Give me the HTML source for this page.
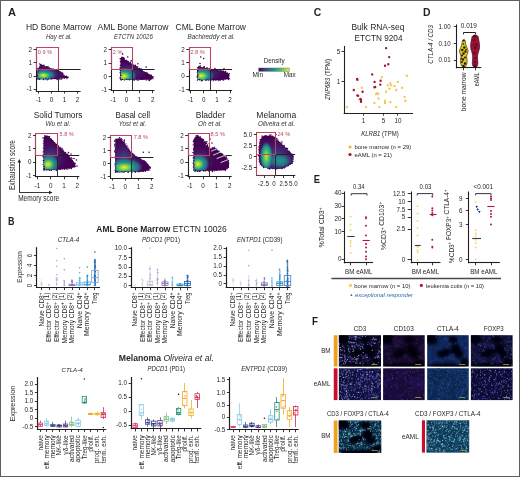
<!DOCTYPE html>
<html><head><meta charset="utf-8"><style>
html,body{margin:0;padding:0;background:#fff;}
svg{display:block;will-change:transform;font-family:"Liberation Sans",sans-serif;}
</style></head><body>
<svg width="520" height="477" viewBox="0 0 520 477" fill="#231f20">
<defs><radialGradient id="vir"><stop offset="0" stop-color="#fde725" stop-opacity="1"/><stop offset="0.12" stop-color="#c8e020" stop-opacity="1"/><stop offset="0.3" stop-color="#5ec962" stop-opacity="1"/><stop offset="0.52" stop-color="#21918c" stop-opacity="1"/><stop offset="0.76" stop-color="#2c728e" stop-opacity="0.9"/><stop offset="1" stop-color="#3b528b" stop-opacity="0"/></radialGradient><radialGradient id="vir2"><stop offset="0" stop-color="#1f9a8a" stop-opacity="1"/><stop offset="0.45" stop-color="#24868e" stop-opacity="0.85"/><stop offset="1" stop-color="#3b528b" stop-opacity="0"/></radialGradient><radialGradient id="virm"><stop offset="0" stop-color="#d2e21b" stop-opacity="1"/><stop offset="0.18" stop-color="#8fd744" stop-opacity="1"/><stop offset="0.42" stop-color="#3fbc73" stop-opacity="1"/><stop offset="0.7" stop-color="#21918c" stop-opacity="1"/><stop offset="1" stop-color="#2c728e" stop-opacity="0"/></radialGradient><radialGradient id="virb"><stop offset="0" stop-color="#3b528b" stop-opacity="0.9"/><stop offset="1" stop-color="#482878" stop-opacity="0"/></radialGradient><clipPath id="cp1"><polygon points="37.5,79.2 37.5,70.5 39,67.5 40.3,63.5 41.5,65.5 43.5,64.8 45,66.5 47,66 49,67.8 52,68.5 56,69.6 59,70.5 61,72.5 63,73.5 64,75.5 68.6,76.8 68.6,78 60,78.8 50,79.3"/></clipPath><clipPath id="cp2"><polygon points="120.5,79.7 120.5,58.5 121.5,56.5 123,57 125,59.5 128,61.5 132,63.8 136,66 140,69 145,72 150,74.5 153,76.5 153,78.5 150,79.8"/></clipPath><clipPath id="cp3"><polygon points="197.4,80 197.4,68.5 198.5,65.8 200,66.2 202,67.2 204,67 206,68.3 210,68.8 215,69.7 220,70.5 225,71.5 229.2,74 229.2,79 220,80.2"/></clipPath><clipPath id="cp4"><polygon points="43.6,170.2 43.6,137.5 45,135.8 47.5,135.6 50,137.8 53,140.5 55.9,143.6 60,147.5 65.7,152.7 70,157 74.8,163 75.6,167 70,168.5 60,169.5"/></clipPath><clipPath id="cp5"><polygon points="115.3,172.2 115.3,139.5 117,138.4 120.5,138.4 124,142 127,146.5 130.3,151.4 134,154.5 137.4,157.2 142,159.5 145.9,161.8 150.4,167 149,170.5 140,171.8"/></clipPath><clipPath id="cp6"><polygon points="193.6,170.9 193.6,140 195.5,136.5 198,135.8 200.5,137 203,139.5 205.5,141 207.5,144 209,148 211.5,148.5 214,147 216.5,149 220,152 224,155.5 227,158.5 229,162 229,166.5 226,170 215,170.8"/></clipPath><clipPath id="cp7"><polygon points="262,136.5 266,135.5 270,136 274.4,136.5 277,140 280,142.5 284,146 288,150 291,153 293.7,156 293,160 292,163.7 288,166 282,168.5 275,169 268,168.5 262,166.5 259.5,163 259,155 259,147 260,141"/></clipPath><linearGradient id="vlin"><stop offset="0" stop-color="#440154"/><stop offset="0.25" stop-color="#3b528b"/><stop offset="0.5" stop-color="#21918c"/><stop offset="0.75" stop-color="#5ec962"/><stop offset="1" stop-color="#fde725"/></linearGradient><filter id="hb" x="-20%" y="-20%" width="140%" height="140%"><feGaussianBlur stdDeviation="1.8"/></filter><clipPath id="cm8"><rect x="338.9" y="335.2" width="42.1" height="31.3"/></clipPath><clipPath id="cm9"><rect x="383.1" y="335.2" width="41.6" height="31.3"/></clipPath><clipPath id="cm10"><rect x="427.2" y="335.2" width="41.5" height="31.3"/></clipPath><clipPath id="cm11"><rect x="470.9" y="335.2" width="41.7" height="31.3"/></clipPath><clipPath id="cm12"><rect x="338.9" y="368.3" width="42.1" height="31.8"/></clipPath><clipPath id="cm13"><rect x="383.1" y="368.3" width="41.6" height="31.8"/></clipPath><clipPath id="cm14"><rect x="427.2" y="368.3" width="41.5" height="31.8"/></clipPath><clipPath id="cm15"><rect x="470.9" y="368.3" width="41.7" height="31.8"/></clipPath><clipPath id="cm16"><rect x="338.75" y="420.5" width="42.5" height="32.5"/></clipPath><clipPath id="cm17"><rect x="426.5" y="420.3" width="42.7" height="32.3"/></clipPath></defs>
<rect x="0.5" y="0.5" width="519" height="476" fill="#fff" stroke="#5e5e5e" stroke-width="1"/>
<text x="8" y="16" font-size="11" font-weight="bold" textLength="8" lengthAdjust="spacingAndGlyphs">A</text>
<text x="8.1" y="224.6" font-size="11" font-weight="bold" textLength="6.5" lengthAdjust="spacingAndGlyphs">B</text>
<text x="313.7" y="16.3" font-size="11" font-weight="bold" textLength="7.5" lengthAdjust="spacingAndGlyphs">C</text>
<text x="423" y="15.8" font-size="11" font-weight="bold" textLength="7.5" lengthAdjust="spacingAndGlyphs">D</text>
<text x="313.7" y="183" font-size="11" font-weight="bold" textLength="6.3" lengthAdjust="spacingAndGlyphs">E</text>
<text x="312" y="325.2" font-size="11" font-weight="bold" textLength="6" lengthAdjust="spacingAndGlyphs">F</text>
<text x="58.7" y="30.3" font-size="8.9" text-anchor="middle" textLength="65.5" lengthAdjust="spacingAndGlyphs">HD Bone Marrow</text>
<text x="58.9" y="38.5" font-size="6.7" text-anchor="middle" fill="#333" font-style="italic" textLength="26" lengthAdjust="spacingAndGlyphs">Hay et al.</text>
<text x="133.1" y="30.3" font-size="8.9" text-anchor="middle" textLength="71" lengthAdjust="spacingAndGlyphs">AML Bone Marrow</text>
<text x="133.4" y="38.5" font-size="6.7" text-anchor="middle" fill="#333" font-style="italic" textLength="39" lengthAdjust="spacingAndGlyphs">ETCTN 10026</text>
<text x="210.75" y="30.3" font-size="8.9" text-anchor="middle" textLength="70.5" lengthAdjust="spacingAndGlyphs">CML Bone Marrow</text>
<text x="211.25" y="38.5" font-size="6.7" text-anchor="middle" fill="#333" font-style="italic" textLength="47.5" lengthAdjust="spacingAndGlyphs">Bachireddy et al.</text>
<text x="58.1" y="118" font-size="8.9" text-anchor="middle" textLength="48.7" lengthAdjust="spacingAndGlyphs">Solid Tumors</text>
<text x="58" y="126" font-size="6.7" text-anchor="middle" fill="#333" font-style="italic" textLength="25" lengthAdjust="spacingAndGlyphs">Wu et al.</text>
<text x="132.75" y="118" font-size="8.9" text-anchor="middle" textLength="34.5" lengthAdjust="spacingAndGlyphs">Basal cell</text>
<text x="132.5" y="126" font-size="6.7" text-anchor="middle" fill="#333" font-style="italic" textLength="27.5" lengthAdjust="spacingAndGlyphs">Yost et al.</text>
<text x="210.4" y="118" font-size="8.9" text-anchor="middle" textLength="29.3" lengthAdjust="spacingAndGlyphs">Bladder</text>
<text x="210" y="126" font-size="6.7" text-anchor="middle" fill="#333" font-style="italic" textLength="24" lengthAdjust="spacingAndGlyphs">Oh et al.</text>
<text x="276.25" y="118" font-size="8.9" text-anchor="middle" textLength="40" lengthAdjust="spacingAndGlyphs">Melanoma</text>
<text x="276.5" y="126" font-size="6.7" text-anchor="middle" fill="#333" font-style="italic" textLength="37" lengthAdjust="spacingAndGlyphs">Oliveira et al.</text>
<polygon points="37.5,79.2 37.5,70.5 39,67.5 40.3,63.5 41.5,65.5 43.5,64.8 45,66.5 47,66 49,67.8 52,68.5 56,69.6 59,70.5 61,72.5 63,73.5 64,75.5 68.6,76.8 68.6,78 60,78.8 50,79.3" fill="#440154"/>
<g clip-path="url(#cp1)">
<ellipse cx="48" cy="73" rx="20" ry="9" fill="url(#virb)"/>
<ellipse cx="43.5" cy="75.4" rx="12.5" ry="6.5" fill="url(#vir)"/>
</g>
<path d="M37.08 78.82h0M37.42 75.14h0M37.89 72.79h0M38.04 71.24h0M37.69 69.47h0M39.22 67.31h0M39.48 63.88h0M46.2 66.71h0M48.14 66.34h0M60.89 72.18h0M61.97 72.31h0M67.63 77.87h0M66.72 78.77h0M64.54 78.03h0M62.14 77.98h0M59.28 79.05h0M54.38 78.71h0M52.23 78.56h0M48.48 78.99h0M45.58 78.77h0M43.75 79.65h0M43.36 79.28h0M37.98 78.92h0" stroke="#440154" stroke-width="1.2" stroke-linecap="round"/>
<path d="M37.34 76h0M37.9 68.55h0M41.03 64.64h0M42.17 65.54h0M43.96 65.25h0M49.32 68.14h0M53.53 69.22h0M55.11 69.78h0M57.62 69.5h0M62.71 73.31h0M63.99 75.45h0M66.42 76.26h0M61.16 79.24h0M57.17 79.41h0M55.89 78.52h0M51.33 78.66h0M47.11 79.7h0M39.53 79.25h0M57 71h0M60 72h0M62 74h0" stroke="#440154" stroke-width="1.6" stroke-linecap="round"/>
<line x1="36.4" y1="69.5" x2="80.6" y2="69.5" stroke="#231f20" stroke-width="1"/>
<line x1="58.5" y1="69.5" x2="58.5" y2="91" stroke="#231f20" stroke-width="0.9"/>
<line x1="36.5" y1="47.6" x2="36.5" y2="91.5" stroke="#231f20" stroke-width="1.1"/>
<line x1="35.9" y1="91.5" x2="80.6" y2="91.5" stroke="#231f20" stroke-width="1.1"/>
<path d="M36.5,69.5 L36.5,47.5 L58.5,47.5 L58.5,69.5 Z" fill="none" stroke="#b8475f" stroke-width="1.1"/>
<line x1="38.5" y1="91" x2="38.5" y2="93.6" stroke="#231f20" stroke-width="0.9"/>
<text x="38.5" y="102" font-size="6.3" text-anchor="middle">-1</text>
<line x1="51.5" y1="91" x2="51.5" y2="93.6" stroke="#231f20" stroke-width="0.9"/>
<text x="51.5" y="102" font-size="6.3" text-anchor="middle">0</text>
<line x1="64.5" y1="91" x2="64.5" y2="93.6" stroke="#231f20" stroke-width="0.9"/>
<text x="64.5" y="102" font-size="6.3" text-anchor="middle">1</text>
<line x1="77.5" y1="91" x2="77.5" y2="93.6" stroke="#231f20" stroke-width="0.9"/>
<text x="77.5" y="102" font-size="6.3" text-anchor="middle">2</text>
<line x1="33.6" y1="89.5" x2="36.4" y2="89.5" stroke="#231f20" stroke-width="0.9"/>
<text x="32.1" y="91.4" font-size="6.3" text-anchor="end">-1</text>
<line x1="33.6" y1="76.5" x2="36.4" y2="76.5" stroke="#231f20" stroke-width="0.9"/>
<text x="32.1" y="78.3" font-size="6.3" text-anchor="end">0</text>
<line x1="33.6" y1="62.5" x2="36.4" y2="62.5" stroke="#231f20" stroke-width="0.9"/>
<text x="32.1" y="65.2" font-size="6.3" text-anchor="end">1</text>
<line x1="33.6" y1="49.5" x2="36.4" y2="49.5" stroke="#231f20" stroke-width="0.9"/>
<text x="32.1" y="52.1" font-size="6.3" text-anchor="end">2</text>
<text x="37.8" y="54.3" font-size="5.6" fill="#b54a63">0.9 %</text>
<polygon points="120.5,79.7 120.5,58.5 121.5,56.5 123,57 125,59.5 128,61.5 132,63.8 136,66 140,69 145,72 150,74.5 153,76.5 153,78.5 150,79.8" fill="#440154"/>
<g clip-path="url(#cp2)">
<ellipse cx="128" cy="72" rx="20" ry="10" fill="url(#virb)"/>
<ellipse cx="123.8" cy="76.2" rx="13" ry="9" fill="url(#vir)"/>
</g>
<path d="M120.83 79.47h0M120.17 77.91h0M120.87 75.43h0M120.24 72.84h0M120.44 70.51h0M120.15 68.11h0M120.48 65.47h0M120.69 65.38h0M120.47 61.78h0M120.21 58.73h0M123.54 57.76h0M126.64 60.5h0M128.26 61.48h0M130.42 62.51h0M132.66 64.29h0M135.34 65.36h0M139.7 68.52h0M141.27 69.08h0M141.81 70.58h0M146.03 72.53h0M147.46 73.18h0M153.2 76.99h0M150.74 79.39h0M149.33 80.39h0M142.44 79.25h0M137.15 79.84h0M134.02 79.91h0M132.26 79.22h0M129.4 79.79h0M121.15 79.98h0M122.7 54.1h0M127.7 57h0M131.2 60.9h0M137.9 63.7h0M146.1 67.1h0" stroke="#440154" stroke-width="1.6" stroke-linecap="round"/>
<path d="M120.52 74.26h0M120.34 68.02h0M120.86 61.79h0M121.04 59.75h0M124.41 58.25h0M127.6 61.33h0M136.12 66.45h0M137.7 66.61h0M144.58 72.06h0M149.95 74.78h0M151.37 75.47h0M151.61 75.11h0M153.03 78.79h0M148.01 79.81h0M146.18 80.05h0M144.1 79.2h0M141.08 79.29h0M140.44 79.49h0M138.33 80.14h0M134.57 79.98h0M127.81 79.76h0M126.47 79.18h0M124.67 80.03h0M122.57 79.52h0" stroke="#440154" stroke-width="1.2" stroke-linecap="round"/>
<line x1="111.4" y1="69.5" x2="154.5" y2="69.5" stroke="#231f20" stroke-width="1"/>
<line x1="132.5" y1="69" x2="132.5" y2="90.6" stroke="#231f20" stroke-width="0.9"/>
<line x1="111.5" y1="47.6" x2="111.5" y2="91.1" stroke="#231f20" stroke-width="1.1"/>
<line x1="110.9" y1="90.5" x2="154.5" y2="90.5" stroke="#231f20" stroke-width="1.1"/>
<path d="M111.5,69.5 L111.5,47.5 L132.5,47.5 L132.5,69.5 Z" fill="none" stroke="#b8475f" stroke-width="1.1"/>
<line x1="113.5" y1="90.6" x2="113.5" y2="93.2" stroke="#231f20" stroke-width="0.9"/>
<text x="113.2" y="101.6" font-size="6.3" text-anchor="middle">-1</text>
<line x1="126.5" y1="90.6" x2="126.5" y2="93.2" stroke="#231f20" stroke-width="0.9"/>
<text x="126.4" y="101.6" font-size="6.3" text-anchor="middle">0</text>
<line x1="139.5" y1="90.6" x2="139.5" y2="93.2" stroke="#231f20" stroke-width="0.9"/>
<text x="139.6" y="101.6" font-size="6.3" text-anchor="middle">1</text>
<line x1="152.5" y1="90.6" x2="152.5" y2="93.2" stroke="#231f20" stroke-width="0.9"/>
<text x="152.8" y="101.6" font-size="6.3" text-anchor="middle">2</text>
<line x1="108.6" y1="89.5" x2="111.4" y2="89.5" stroke="#231f20" stroke-width="0.9"/>
<text x="107.1" y="91.7" font-size="6.3" text-anchor="end">-1</text>
<line x1="108.6" y1="76.5" x2="111.4" y2="76.5" stroke="#231f20" stroke-width="0.9"/>
<text x="107.1" y="78.5" font-size="6.3" text-anchor="end">0</text>
<line x1="108.6" y1="63.5" x2="111.4" y2="63.5" stroke="#231f20" stroke-width="0.9"/>
<text x="107.1" y="65.3" font-size="6.3" text-anchor="end">1</text>
<line x1="108.6" y1="49.5" x2="111.4" y2="49.5" stroke="#231f20" stroke-width="0.9"/>
<text x="107.1" y="52.1" font-size="6.3" text-anchor="end">2</text>
<text x="112.8" y="54.3" font-size="5.6" fill="#b54a63">2 %</text>
<polygon points="197.4,80 197.4,68.5 198.5,65.8 200,66.2 202,67.2 204,67 206,68.3 210,68.8 215,69.7 220,70.5 225,71.5 229.2,74 229.2,79 220,80.2" fill="#440154"/>
<g clip-path="url(#cp3)">
<ellipse cx="206" cy="74" rx="18" ry="8" fill="url(#virb)"/>
<ellipse cx="201.3" cy="75.8" rx="13" ry="8.5" fill="url(#vir)"/>
</g>
<path d="M197.37 80.21h0M197.22 72.23h0M197.69 71.38h0M197.4 67.49h0M204.45 66.8h0M207.73 68.06h0M209.5 68.58h0M214.98 69.48h0M223.15 70.8h0M227.49 72.84h0M228.68 75.38h0M228.92 76.07h0M229.77 78.56h0M225.67 78.97h0M223.92 79.74h0M220.35 80.14h0M218.79 80.67h0M217.33 79.59h0M216.01 80.1h0M213.34 80.68h0M210.42 80.09h0M208.68 80.04h0M205.77 80.48h0M202.62 80.53h0M199.96 79.75h0" stroke="#440154" stroke-width="1.2" stroke-linecap="round"/>
<path d="M197.32 77.01h0M197.41 76.29h0M197.8 74.76h0M197.81 70.45h0M200.25 66.07h0M204 66.7h0M206.95 68.06h0M212.68 69.58h0M216.22 70.23h0M217.14 70.45h0M219.93 70h0M221.24 71.03h0M223.11 71.25h0M225.55 71.66h0M229.21 73.83h0M228.54 79.44h0M223.29 79.94h0M215.35 79.81h0M210.62 80.58h0M206.67 79.86h0M201.51 80.64h0M199.25 79.76h0M200.7 57h0M203.7 58.5h0M200 63.5h0M215 68.5h0M224 68.8h0" stroke="#440154" stroke-width="1.6" stroke-linecap="round"/>
<line x1="189" y1="69.5" x2="232.1" y2="69.5" stroke="#231f20" stroke-width="1"/>
<line x1="210.5" y1="69" x2="210.5" y2="90.8" stroke="#231f20" stroke-width="0.9"/>
<line x1="189.5" y1="47.6" x2="189.5" y2="91.3" stroke="#231f20" stroke-width="1.1"/>
<line x1="188.5" y1="90.5" x2="232.1" y2="90.5" stroke="#231f20" stroke-width="1.1"/>
<path d="M189.5,69.5 L189.5,47.5 L210.5,47.5 L210.5,69.5 Z" fill="none" stroke="#b8475f" stroke-width="1.1"/>
<line x1="190.5" y1="90.8" x2="190.5" y2="93.4" stroke="#231f20" stroke-width="0.9"/>
<text x="190.5" y="101.8" font-size="6.3" text-anchor="middle">-1</text>
<line x1="203.5" y1="90.8" x2="203.5" y2="93.4" stroke="#231f20" stroke-width="0.9"/>
<text x="203.7" y="101.8" font-size="6.3" text-anchor="middle">0</text>
<line x1="216.5" y1="90.8" x2="216.5" y2="93.4" stroke="#231f20" stroke-width="0.9"/>
<text x="216.9" y="101.8" font-size="6.3" text-anchor="middle">1</text>
<line x1="230.5" y1="90.8" x2="230.5" y2="93.4" stroke="#231f20" stroke-width="0.9"/>
<text x="230.1" y="101.8" font-size="6.3" text-anchor="middle">2</text>
<line x1="186.2" y1="89.5" x2="189" y2="89.5" stroke="#231f20" stroke-width="0.9"/>
<text x="184.7" y="91.5" font-size="6.3" text-anchor="end">-1</text>
<line x1="186.2" y1="76.5" x2="189" y2="76.5" stroke="#231f20" stroke-width="0.9"/>
<text x="184.7" y="78.3" font-size="6.3" text-anchor="end">0</text>
<line x1="186.2" y1="62.5" x2="189" y2="62.5" stroke="#231f20" stroke-width="0.9"/>
<text x="184.7" y="65.1" font-size="6.3" text-anchor="end">1</text>
<line x1="186.2" y1="49.5" x2="189" y2="49.5" stroke="#231f20" stroke-width="0.9"/>
<text x="184.7" y="51.9" font-size="6.3" text-anchor="end">2</text>
<text x="190.4" y="54.3" font-size="5.6" fill="#b54a63">2.8 %</text>
<polygon points="43.6,170.2 43.6,137.5 45,135.8 47.5,135.6 50,137.8 53,140.5 55.9,143.6 60,147.5 65.7,152.7 70,157 74.8,163 75.6,167 70,168.5 60,169.5" fill="#440154"/>
<g clip-path="url(#cp4)">
<ellipse cx="50" cy="157" rx="18" ry="16" fill="url(#virb)"/>
<ellipse cx="48" cy="164.4" rx="11.5" ry="10.5" fill="url(#vir)"/>
</g>
<path d="M43.32 169.81h0M43.06 164.4h0M43.77 162.17h0M43.15 160.48h0M43.89 160.47h0M43.36 157.75h0M43.17 152.75h0M43.11 151.34h0M44.06 149.95h0M43.63 148.12h0M43.33 147.77h0M43.76 145.29h0M43.3 143.48h0M44.02 141.29h0M43.85 141.19h0M45.18 136.66h0M50.85 138.29h0M54.68 142.77h0M58.44 145.73h0M60.19 147.22h0M60.92 148.05h0M62.89 149.34h0M63.24 150.76h0M65.7 152.44h0M66.86 154.47h0M68.9 155.95h0M71.34 157.57h0M72.02 158.39h0M75.08 163.12h0M75.4 163.67h0M75.32 166.18h0M74.69 166.82h0M71.5 168.53h0M71.59 168.56h0M67.85 169.18h0M66.36 169.22h0M64.42 169.51h0M62.57 169.1h0M57.02 170.17h0M54.15 169.65h0M50.78 170.04h0M49.47 170.28h0M48.5 169.7h0M44.38 169.91h0" stroke="#440154" stroke-width="1.2" stroke-linecap="round"/>
<path d="M44.15 168.42h0M44.1 166.43h0M43.19 156.5h0M43.26 155.16h0M43 138.04h0M44.86 135.81h0M48.94 136.81h0M49.38 136.65h0M51.39 139.49h0M52.65 140.7h0M56.26 144.54h0M67.76 154.2h0M72.34 160.57h0M69.89 168.36h0M60.21 169.21h0M59.21 168.93h0M56.31 170.2h0M51.54 170.21h0M46.89 169.85h0M62 148.5h0M68.5 152.5h0M71 154h0M74 158.5h0M76.5 160h0M77 166h0" stroke="#440154" stroke-width="1.6" stroke-linecap="round"/>
<line x1="35.8" y1="155.5" x2="79.3" y2="155.5" stroke="#231f20" stroke-width="1"/>
<line x1="57.5" y1="155" x2="57.5" y2="176.7" stroke="#231f20" stroke-width="0.9"/>
<line x1="35.5" y1="133.2" x2="35.5" y2="177.2" stroke="#231f20" stroke-width="1.1"/>
<line x1="35.3" y1="176.5" x2="79.3" y2="176.5" stroke="#231f20" stroke-width="1.1"/>
<path d="M35.5,155.5 L35.5,133.5 L57.5,133.5 L57.5,155.5 Z" fill="none" stroke="#b8475f" stroke-width="1.1"/>
<line x1="37.5" y1="176.7" x2="37.5" y2="179.3" stroke="#231f20" stroke-width="0.9"/>
<text x="37.4" y="187.7" font-size="6.3" text-anchor="middle">-1</text>
<line x1="50.5" y1="176.7" x2="50.5" y2="179.3" stroke="#231f20" stroke-width="0.9"/>
<text x="50.7" y="187.7" font-size="6.3" text-anchor="middle">0</text>
<line x1="64.5" y1="176.7" x2="64.5" y2="179.3" stroke="#231f20" stroke-width="0.9"/>
<text x="64" y="187.7" font-size="6.3" text-anchor="middle">1</text>
<line x1="77.5" y1="176.7" x2="77.5" y2="179.3" stroke="#231f20" stroke-width="0.9"/>
<text x="77.3" y="187.7" font-size="6.3" text-anchor="middle">2</text>
<line x1="33" y1="175.5" x2="35.8" y2="175.5" stroke="#231f20" stroke-width="0.9"/>
<text x="31.5" y="177.6" font-size="6.3" text-anchor="end">-1</text>
<line x1="33" y1="162.5" x2="35.8" y2="162.5" stroke="#231f20" stroke-width="0.9"/>
<text x="31.5" y="164.3" font-size="6.3" text-anchor="end">0</text>
<line x1="33" y1="148.5" x2="35.8" y2="148.5" stroke="#231f20" stroke-width="0.9"/>
<text x="31.5" y="151" font-size="6.3" text-anchor="end">1</text>
<line x1="33" y1="135.5" x2="35.8" y2="135.5" stroke="#231f20" stroke-width="0.9"/>
<text x="31.5" y="137.7" font-size="6.3" text-anchor="end">2</text>
<text x="59.5" y="136.3" font-size="5.6" fill="#b54a63">5.8 %</text>
<polygon points="115.3,172.2 115.3,139.5 117,138.4 120.5,138.4 124,142 127,146.5 130.3,151.4 134,154.5 137.4,157.2 142,159.5 145.9,161.8 150.4,167 149,170.5 140,171.8" fill="#440154"/>
<g clip-path="url(#cp5)">
<ellipse cx="124" cy="158" rx="22" ry="18" fill="url(#virb)"/>
<ellipse cx="124.2" cy="167.4" rx="19" ry="9.5" fill="url(#vir)"/>
</g>
<path d="M115.3 172.29h0M115.72 167.9h0M115.05 166h0M114.94 164.15h0M115.76 163.87h0M115.89 161.75h0M115.48 160.02h0M115.05 156.96h0M115.4 154.78h0M115.14 150.16h0M115.42 149.08h0M115.09 147.87h0M115.91 138.99h0M119.11 138.24h0M124.38 142.13h0M126.03 143.81h0M127.37 145.84h0M128.61 148.02h0M129.7 151.46h0M131.21 152.21h0M131.68 152.68h0M134.14 154.86h0M139.78 158.23h0M140.65 158.74h0M143.82 160.33h0M144.4 160.75h0M145.93 161.93h0M148.19 165.07h0M149.9 170.11h0M148.1 170.18h0M145.43 171.43h0M142.94 171.34h0M138.2 171.99h0M135.48 172.04h0M131.49 171.87h0M128.35 172.36h0M125.71 171.46h0M122.99 172.25h0M121.71 171.62h0M119.97 172.23h0" stroke="#440154" stroke-width="1.2" stroke-linecap="round"/>
<path d="M115.2 170.33h0M115.68 158.75h0M115.24 152.51h0M114.83 151.15h0M114.94 145.88h0M114.82 144.18h0M114.81 141.32h0M115.04 140.23h0M119.67 137.81h0M121.38 138.8h0M121.8 139.57h0M124.07 141.08h0M128.98 150.13h0M132.61 153.86h0M136.67 157.1h0M138.13 157.58h0M147.24 164.21h0M149.91 167.36h0M150.27 167.91h0M143.5 171.23h0M141.35 171.14h0M139.36 171.42h0M135.34 171.97h0M131.82 172.52h0M128 172.11h0M124.08 172.07h0M117.54 171.73h0M116.12 171.69h0M124.4 140h0M143.3 152.2h0M149.1 152.2h0" stroke="#440154" stroke-width="1.6" stroke-linecap="round"/>
<line x1="110.5" y1="157.5" x2="153.4" y2="157.5" stroke="#231f20" stroke-width="1"/>
<line x1="131.5" y1="157.2" x2="131.5" y2="178" stroke="#231f20" stroke-width="0.9"/>
<line x1="110.5" y1="135.1" x2="110.5" y2="178.5" stroke="#231f20" stroke-width="1.1"/>
<line x1="110" y1="178.5" x2="153.4" y2="178.5" stroke="#231f20" stroke-width="1.1"/>
<path d="M110.5,157.5 L110.5,135.5 L131.5,135.5 L131.5,157.5 Z" fill="none" stroke="#b8475f" stroke-width="1.1"/>
<line x1="112.5" y1="178" x2="112.5" y2="180.6" stroke="#231f20" stroke-width="0.9"/>
<text x="112.1" y="189" font-size="6.3" text-anchor="middle">-1</text>
<line x1="125.5" y1="178" x2="125.5" y2="180.6" stroke="#231f20" stroke-width="0.9"/>
<text x="125.3" y="189" font-size="6.3" text-anchor="middle">0</text>
<line x1="138.5" y1="178" x2="138.5" y2="180.6" stroke="#231f20" stroke-width="0.9"/>
<text x="138.5" y="189" font-size="6.3" text-anchor="middle">1</text>
<line x1="151.5" y1="178" x2="151.5" y2="180.6" stroke="#231f20" stroke-width="0.9"/>
<text x="151.7" y="189" font-size="6.3" text-anchor="middle">2</text>
<line x1="107.7" y1="176.5" x2="110.5" y2="176.5" stroke="#231f20" stroke-width="0.9"/>
<text x="106.2" y="179.2" font-size="6.3" text-anchor="end">-1</text>
<line x1="107.7" y1="163.5" x2="110.5" y2="163.5" stroke="#231f20" stroke-width="0.9"/>
<text x="106.2" y="166" font-size="6.3" text-anchor="end">0</text>
<line x1="107.7" y1="150.5" x2="110.5" y2="150.5" stroke="#231f20" stroke-width="0.9"/>
<text x="106.2" y="152.8" font-size="6.3" text-anchor="end">1</text>
<line x1="107.7" y1="137.5" x2="110.5" y2="137.5" stroke="#231f20" stroke-width="0.9"/>
<text x="106.2" y="139.6" font-size="6.3" text-anchor="end">2</text>
<text x="133.7" y="139" font-size="5.6" fill="#b54a63">7.8 %</text>
<polygon points="193.6,170.9 193.6,140 195.5,136.5 198,135.8 200.5,137 203,139.5 205.5,141 207.5,144 209,148 211.5,148.5 214,147 216.5,149 220,152 224,155.5 227,158.5 229,162 229,166.5 226,170 215,170.8" fill="#440154"/>
<g clip-path="url(#cp6)">
<ellipse cx="200" cy="160" rx="16" ry="14" fill="url(#virb)"/>
<ellipse cx="197.9" cy="164.1" rx="11.5" ry="10.5" fill="url(#vir)"/>
</g>
<path d="M193.94 169.37h0M193.77 169.33h0M193.66 163.28h0M193.21 157.96h0M194.01 156.55h0M193.54 153.1h0M194.01 150.51h0M193.77 148.26h0M193.02 144.79h0M194.13 143.96h0M195.23 137.57h0M200.5 136.87h0M207.95 143.4h0M209.12 147.43h0M208.77 148.36h0M212.21 147.45h0M214.61 147.12h0M219.1 151.07h0M220.66 153.39h0M226.42 157.13h0M228.83 163.29h0M228.5 166.72h0M227.39 168.59h0M221.41 169.96h0M219.18 170.05h0M216.73 170.28h0M215.96 170.35h0M214.38 170.83h0M212.09 170.34h0M208.8 171.11h0M208.26 170.36h0M203.98 171.01h0" stroke="#440154" stroke-width="1.2" stroke-linecap="round"/>
<path d="M193.53 167.12h0M194.08 165.07h0M193.29 163.2h0M193.73 160.83h0M194.07 158.15h0M193.05 152.44h0M193.52 149.2h0M193.39 141.51h0M193.83 140.8h0M194.45 139.42h0M196.18 135.84h0M197.79 135.5h0M202.78 139.35h0M203.27 139.43h0M206.79 141.71h0M207.03 144.64h0M216.46 149.39h0M216.45 148.97h0M220.98 153.48h0M222.66 154.33h0M224.27 155.59h0M227.7 159.26h0M228.43 160.63h0M228.41 167.34h0M225.33 170.37h0M223.32 169.77h0M212.44 171.38h0M205.57 170.72h0M203.37 170.74h0M200.25 170.96h0M199.17 171.14h0M197.5 171.31h0M195.78 170.67h0M194.99 171.23h0M221 154h0M226 157h0M210 139h0M212 143h0" stroke="#440154" stroke-width="1.6" stroke-linecap="round"/>
<line x1="188" y1="155.5" x2="231.7" y2="155.5" stroke="#231f20" stroke-width="1"/>
<line x1="209.5" y1="155" x2="209.5" y2="176.7" stroke="#231f20" stroke-width="0.9"/>
<line x1="188.5" y1="133.2" x2="188.5" y2="177.2" stroke="#231f20" stroke-width="1.1"/>
<line x1="187.5" y1="176.5" x2="231.7" y2="176.5" stroke="#231f20" stroke-width="1.1"/>
<path d="M188.5,155.5 L188.5,133.5 L209.5,133.5 L209.5,155.5 Z" fill="none" stroke="#b8475f" stroke-width="1.1"/>
<line x1="189.5" y1="176.7" x2="189.5" y2="179.3" stroke="#231f20" stroke-width="0.9"/>
<text x="189.8" y="187.7" font-size="6.3" text-anchor="middle">-1</text>
<line x1="203.5" y1="176.7" x2="203.5" y2="179.3" stroke="#231f20" stroke-width="0.9"/>
<text x="203.1" y="187.7" font-size="6.3" text-anchor="middle">0</text>
<line x1="216.5" y1="176.7" x2="216.5" y2="179.3" stroke="#231f20" stroke-width="0.9"/>
<text x="216.4" y="187.7" font-size="6.3" text-anchor="middle">1</text>
<line x1="229.5" y1="176.7" x2="229.5" y2="179.3" stroke="#231f20" stroke-width="0.9"/>
<text x="229.7" y="187.7" font-size="6.3" text-anchor="middle">2</text>
<line x1="185.2" y1="175.5" x2="188" y2="175.5" stroke="#231f20" stroke-width="0.9"/>
<text x="183.7" y="177.6" font-size="6.3" text-anchor="end">-1</text>
<line x1="185.2" y1="162.5" x2="188" y2="162.5" stroke="#231f20" stroke-width="0.9"/>
<text x="183.7" y="164.3" font-size="6.3" text-anchor="end">0</text>
<line x1="185.2" y1="148.5" x2="188" y2="148.5" stroke="#231f20" stroke-width="0.9"/>
<text x="183.7" y="151" font-size="6.3" text-anchor="end">1</text>
<line x1="185.2" y1="135.5" x2="188" y2="135.5" stroke="#231f20" stroke-width="0.9"/>
<text x="183.7" y="137.7" font-size="6.3" text-anchor="end">2</text>
<text x="210.6" y="136.3" font-size="5.6" fill="#b54a63">8.5 %</text>
<line x1="211.5" y1="151" x2="218" y2="148.5" stroke="#fff" stroke-width="0.8" stroke-linecap="round"/>
<line x1="213.5" y1="155" x2="222" y2="151.5" stroke="#fff" stroke-width="0.8" stroke-linecap="round"/>
<line x1="217" y1="158.5" x2="226" y2="155" stroke="#fff" stroke-width="0.8" stroke-linecap="round"/>
<line x1="221" y1="162.5" x2="228.5" y2="159.5" stroke="#fff" stroke-width="0.8" stroke-linecap="round"/>
<line x1="204" y1="141" x2="207.5" y2="138.5" stroke="#fff" stroke-width="0.8" stroke-linecap="round"/>
<line x1="206" y1="145" x2="209.5" y2="142" stroke="#fff" stroke-width="0.8" stroke-linecap="round"/>
<polygon points="262,136.5 266,135.5 270,136 274.4,136.5 277,140 280,142.5 284,146 288,150 291,153 293.7,156 293,160 292,163.7 288,166 282,168.5 275,169 268,168.5 262,166.5 259.5,163 259,155 259,147 260,141" fill="#440154"/>
<g clip-path="url(#cp7)">
<ellipse cx="274" cy="156" rx="26" ry="20" fill="url(#virb)"/>
<ellipse cx="280" cy="161" rx="14" ry="9" fill="url(#vir2)"/>
<ellipse cx="266.3" cy="156.5" rx="6.5" ry="15" fill="url(#virm)"/>
</g>
<path d="M262.96 136.09h0M266.55 135.88h0M278.5 141.42h0M289.61 151.19h0M289.87 152.72h0M291.87 154.13h0M293.3 156.32h0M293.36 159.05h0M288.39 165.13h0M287.98 165.96h0M279 168.38h0M277.11 168.77h0M272.49 168.64h0M267.92 168.29h0M263.76 166.78h0M261.67 165.23h0M260.29 164.4h0M259.3 161.68h0M259.07 154.64h0M258.66 149.31h0M258.52 147h0M259.76 145.64h0M259.95 143.43h0M259.67 142.18h0M261.88 136.04h0" stroke="#440154" stroke-width="1.2" stroke-linecap="round"/>
<path d="M265.13 135.9h0M269.55 135.32h0M270.69 136.57h0M272.51 136.32h0M275.23 137.79h0M276.77 138.62h0M277.9 140.04h0M279.92 142.42h0M281.52 143.75h0M283.95 145.59h0M284.18 146.08h0M286.57 148.38h0M287.52 148.79h0M292.55 154.54h0M292.96 161.19h0M292.39 163.09h0M290.15 163.84h0M285.49 166.79h0M284.42 167.83h0M282.72 168h0M281.36 168.49h0M275.89 168.98h0M275.4 168.96h0M269.31 168.79h0M269.83 168.84h0M263.65 167.5h0M259.92 160.78h0M259.05 159.03h0M259.48 156.63h0M258.63 155.5h0M259.35 152.84h0M259.15 151.05h0M260.95 139.5h0M260.24 139.81h0M271 135h0M276 134.5h0M282 142h0" stroke="#440154" stroke-width="1.6" stroke-linecap="round"/>
<line x1="256.6" y1="154.5" x2="295.2" y2="154.5" stroke="#231f20" stroke-width="1"/>
<line x1="275.5" y1="154.3" x2="275.5" y2="175.4" stroke="#231f20" stroke-width="0.9"/>
<line x1="256.1" y1="175.5" x2="295.2" y2="175.5" stroke="#231f20" stroke-width="1.1"/>
<path d="M256.5,175.5 L256.5,132.5 L275.5,132.5 L275.5,154.5 L256.5,154.5" fill="none" stroke="#b8475f" stroke-width="1.1"/>
<line x1="256.6" y1="175.5" x2="275.7" y2="175.5" stroke="#7a3040" stroke-width="1.1"/>
<line x1="264.5" y1="175.4" x2="264.5" y2="178" stroke="#231f20" stroke-width="0.9"/>
<text x="263.4" y="186.2" font-size="6.3" text-anchor="middle" textLength="11.2" lengthAdjust="spacingAndGlyphs">-2.5</text>
<line x1="274.5" y1="175.4" x2="274.5" y2="178" stroke="#231f20" stroke-width="0.9"/>
<text x="274" y="186.2" font-size="6.3" text-anchor="middle" textLength="3.4" lengthAdjust="spacingAndGlyphs">0</text>
<line x1="283.5" y1="175.4" x2="283.5" y2="178" stroke="#231f20" stroke-width="0.9"/>
<text x="283.7" y="186.2" font-size="6.3" text-anchor="middle" textLength="8.2" lengthAdjust="spacingAndGlyphs">2.5</text>
<line x1="293.5" y1="175.4" x2="293.5" y2="178" stroke="#231f20" stroke-width="0.9"/>
<text x="293.4" y="186.2" font-size="6.3" text-anchor="middle" textLength="8.6" lengthAdjust="spacingAndGlyphs">5.0</text>
<line x1="253.8" y1="167.5" x2="256.6" y2="167.5" stroke="#231f20" stroke-width="0.9"/>
<text x="252.3" y="169.55" font-size="6.3" text-anchor="end">-2.5</text>
<line x1="253.8" y1="156.5" x2="256.6" y2="156.5" stroke="#231f20" stroke-width="0.9"/>
<text x="252.3" y="158.6" font-size="6.3" text-anchor="end">0</text>
<line x1="253.8" y1="145.5" x2="256.6" y2="145.5" stroke="#231f20" stroke-width="0.9"/>
<text x="252.3" y="147.65" font-size="6.3" text-anchor="end">2.5</text>
<line x1="253.8" y1="134.5" x2="256.6" y2="134.5" stroke="#231f20" stroke-width="0.9"/>
<text x="252.3" y="136.7" font-size="6.3" text-anchor="end">5.0</text>
<text x="277.5" y="136.3" font-size="5.6" fill="#b54a63">24 %</text>
<text x="274.2" y="62.5" font-size="6.3" text-anchor="middle" textLength="20.7" lengthAdjust="spacingAndGlyphs">Density</text>
<rect x="258.8" y="68" width="30.7" height="3.3" fill="url(#vlin)"/>
<rect x="258.8" y="68" width="30.7" height="3.3" fill="none" stroke="#555" stroke-width="0.4"/>
<text x="257.8" y="77.2" font-size="6.3" text-anchor="middle" textLength="10.5" lengthAdjust="spacingAndGlyphs">Min</text>
<text x="289.7" y="77.2" font-size="6.3" text-anchor="middle" textLength="12" lengthAdjust="spacingAndGlyphs">Max</text>
<line x1="19.5" y1="192.5" x2="19.5" y2="161.5" stroke="#231f20" stroke-width="0.9"/>
<polygon points="17.5,162.5 21.1,162.5 19.3,159" fill="#231f20"/>
<line x1="19.3" y1="192.5" x2="49.5" y2="192.5" stroke="#231f20" stroke-width="0.9"/>
<polygon points="49,190.7 49,194.3 52.5,192.5" fill="#231f20"/>
<text transform="translate(14.6,165) rotate(-90)" font-size="8.8" text-anchor="middle" textLength="50" lengthAdjust="spacingAndGlyphs">Exhaustion score</text>
<text x="38.7" y="200.9" font-size="8.2" text-anchor="middle" textLength="41" lengthAdjust="spacingAndGlyphs">Memory score</text>
<text x="377.9" y="30.3" font-size="8.9" text-anchor="middle" textLength="53" lengthAdjust="spacingAndGlyphs">Bulk RNA-seq</text>
<text x="378.5" y="40.5" font-size="8.9" text-anchor="middle" textLength="48" lengthAdjust="spacingAndGlyphs">ETCTN 9204</text>
<line x1="344.5" y1="45.9" x2="344.5" y2="113.5" stroke="#231f20" stroke-width="1.1"/>
<line x1="343.7" y1="113.5" x2="413" y2="113.5" stroke="#231f20" stroke-width="1.1"/>
<line x1="341.5" y1="51.5" x2="344.2" y2="51.5" stroke="#231f20" stroke-width="0.9"/>
<text x="340.3" y="53.6" font-size="6.3" text-anchor="end">5</text>
<line x1="341.5" y1="81.5" x2="344.2" y2="81.5" stroke="#231f20" stroke-width="0.9"/>
<text x="340.3" y="84.1" font-size="6.3" text-anchor="end">1</text>
<line x1="363.5" y1="113" x2="363.5" y2="115.7" stroke="#231f20" stroke-width="0.9"/>
<text x="363.5" y="123" font-size="6.3" text-anchor="middle">1</text>
<line x1="383.5" y1="113" x2="383.5" y2="115.7" stroke="#231f20" stroke-width="0.9"/>
<text x="383.6" y="123" font-size="6.3" text-anchor="middle">5</text>
<line x1="397.5" y1="113" x2="397.5" y2="115.7" stroke="#231f20" stroke-width="0.9"/>
<text x="397.9" y="123" font-size="6.3" text-anchor="middle">10</text>
<text transform="translate(330.2,79.5) rotate(-90)" font-size="7.8" text-anchor="middle" textLength="41" lengthAdjust="spacingAndGlyphs"><tspan font-style="italic">ZNF683</tspan> (TPM)</text>
<text x="380" y="136.3" font-size="7.8" text-anchor="middle" textLength="37.5" lengthAdjust="spacingAndGlyphs"><tspan font-style="italic">KLRB1</tspan> (TPM)</text>
<path d="M381.9 77.2h0M406.8 75.7h0M397.9 81.9h0M390.3 83.3h0M387.8 85.3h0M391.2 85.3h0M394.5 86.1h0M389.5 88.7h0M396.2 90h0M402.1 87.8h0M361.8 87.8h0M376.9 93.3h0M378.3 94h0M376.1 94h0M386.1 91.7h0M378.6 98.4h0M404.6 97h0M405.4 100.7h0M385 100.7h0M385 102.9h0M390.3 102.1h0M374.4 102.9h0M379.4 107.1h0M366 107.1h0M347 107.1h0M396.2 107.1h0M359.3 99.6h0" stroke="#f2b636" stroke-width="2.4" stroke-linecap="round" stroke-opacity="0.8"/>
<path d="M386.1 48.1h0M389.2 57.1h0M385 65.7h0M388.3 64.3h0M372.2 74.4h0M357.1 78.9h0M357.4 79.8h0M374.6 81.9h0M380.6 80.8h0M380.3 84.6h0M375.2 87h0M374.4 87.3h0M353.8 90h0M362.6 91.7h0M357.4 95.4h0M358.1 95.7h0M360.5 99h0M361 100h0M361 101.7h0" stroke="#a3152e" stroke-width="2.4" stroke-linecap="round"/>
<path d="M350 147h0" stroke="#f2b636" stroke-width="3.2" stroke-linecap="round"/>
<text x="354.5" y="149.2" font-size="6" textLength="56.7" lengthAdjust="spacingAndGlyphs">bone marrow (n = 29)</text>
<path d="M350 154.5h0" stroke="#a3152e" stroke-width="3.2" stroke-linecap="round"/>
<text x="354.5" y="156.7" font-size="6" textLength="37.5" lengthAdjust="spacingAndGlyphs">eAML (n = 21)</text>
<line x1="456.5" y1="24.4" x2="456.5" y2="68.3" stroke="#231f20" stroke-width="1.1"/>
<line x1="455.9" y1="67.5" x2="481.3" y2="67.5" stroke="#231f20" stroke-width="1.1"/>
<line x1="453.8" y1="26.5" x2="456.4" y2="26.5" stroke="#231f20" stroke-width="0.9"/>
<text x="450.6" y="28.8" font-size="6.3" text-anchor="end" textLength="12" lengthAdjust="spacingAndGlyphs">1.00</text>
<line x1="453.8" y1="43.5" x2="456.4" y2="43.5" stroke="#231f20" stroke-width="0.9"/>
<text x="450.6" y="45.9" font-size="6.3" text-anchor="end" textLength="12" lengthAdjust="spacingAndGlyphs">0.10</text>
<line x1="453.8" y1="60.5" x2="456.4" y2="60.5" stroke="#231f20" stroke-width="0.9"/>
<text x="450.6" y="62.2" font-size="6.3" text-anchor="end" textLength="12" lengthAdjust="spacingAndGlyphs">0.01</text>
<line x1="463.5" y1="67.8" x2="463.5" y2="70.3" stroke="#231f20" stroke-width="0.9"/>
<line x1="475.5" y1="67.8" x2="475.5" y2="70.3" stroke="#231f20" stroke-width="0.9"/>
<text x="468.8" y="27.6" font-size="6.3" text-anchor="middle" textLength="16" lengthAdjust="spacingAndGlyphs">0.019</text>
<path d="M463.5,34.3 L463.5,32.5 L475.5,32.5 L475.5,34.3" fill="none" stroke="#231f20" stroke-width="1"/>
<polygon points="462.9,39.9 462.3,41 462,43 461.7,45 460.9,47 460,49 459.5,51 459.9,53 460.7,55 461,57 460.6,59 460.4,61.5 460.8,64 461.6,66 462.6,66.9 465,66.9 466,66 466.8,64 467.2,61.5 467,59 466.6,57 466.9,55 467.7,53 468.1,51 467.6,49 466.7,47 465.9,45 465.6,43 465.3,41 464.7,39.9" fill="#e2c81e" stroke="#1a1400" stroke-width="0.6" stroke-linejoin="round"/>
<polygon points="473.1,35.4 472.1,36.5 471.6,39 470.9,42.6 470.6,46 470.9,49.3 471.8,52 472.5,55 472.7,57 472.5,60 472.3,63 472.6,65.5 473.6,66.9 476.6,66.9 477.6,65.5 477.9,63 477.7,60 477.5,57 477.7,55 478.4,52 479.3,49.3 479.6,46 479.3,42.6 478.6,39 478.1,36.5 477.1,35.4" fill="#9e1035" stroke="#2a0010" stroke-width="0.6" stroke-linejoin="round"/>
<path d="M463.8 40.6h0M462 55.5h0M465 57.5h0M462 62h0" stroke="#1e1800" stroke-width="2" stroke-linecap="round"/>
<path d="M463.5 44h0M466 49.5h0M461.5 58.5h0" stroke="#1e1800" stroke-width="1.6" stroke-linecap="round"/>
<path d="M464.3 47.5h0M462.3 50h0M465.5 51.5h0M463.5 53.5h0M463 59.5h0M465 63.5h0M463.5 66h0" stroke="#1e1800" stroke-width="2.4" stroke-linecap="round"/>
<path d="M475 36h0" stroke="#3a0612" stroke-width="3.2" stroke-linecap="round" stroke-opacity="0.8"/>
<path d="M474 40h0M476 44h0M474.5 53h0M475.5 58h0M475 62h0" stroke="#3a0612" stroke-width="2" stroke-linecap="round" stroke-opacity="0.8"/>
<path d="M475 48h0M475 66h0" stroke="#3a0612" stroke-width="2.4" stroke-linecap="round" stroke-opacity="0.8"/>
<path d="M477 46h0M473.5 45h0" stroke="#3a0612" stroke-width="1.6" stroke-linecap="round" stroke-opacity="0.8"/>
<text transform="translate(433.3,44.4) rotate(-90)" font-size="7.8" text-anchor="middle" textLength="38.7" lengthAdjust="spacingAndGlyphs"><tspan font-style="italic">CTLA-4 / CD3</tspan></text>
<text transform="translate(465.8,72.5) rotate(-90)" font-size="6.3" text-anchor="end" textLength="38.7" lengthAdjust="spacingAndGlyphs">bone marrow</text>
<text transform="translate(478.8,72.5) rotate(-90)" font-size="6.3" text-anchor="end" textLength="13.8" lengthAdjust="spacingAndGlyphs">eAML</text>
<line x1="344.5" y1="191.5" x2="344.5" y2="263.3" stroke="#231f20" stroke-width="1.1"/>
<line x1="343.8" y1="262.5" x2="373" y2="262.5" stroke="#231f20" stroke-width="1.1"/>
<line x1="341.7" y1="193.5" x2="344.3" y2="193.5" stroke="#231f20" stroke-width="0.9"/>
<text x="341.4" y="195.2" font-size="6.3" text-anchor="end">40</text>
<line x1="341.7" y1="206.5" x2="344.3" y2="206.5" stroke="#231f20" stroke-width="0.9"/>
<text x="341.4" y="208.4" font-size="6.3" text-anchor="end">30</text>
<line x1="341.7" y1="218.5" x2="344.3" y2="218.5" stroke="#231f20" stroke-width="0.9"/>
<text x="341.4" y="221" font-size="6.3" text-anchor="end">20</text>
<line x1="341.7" y1="231.5" x2="344.3" y2="231.5" stroke="#231f20" stroke-width="0.9"/>
<text x="341.4" y="233.6" font-size="6.3" text-anchor="end">10</text>
<line x1="341.7" y1="259.5" x2="344.3" y2="259.5" stroke="#231f20" stroke-width="0.9"/>
<text x="341.4" y="261.4" font-size="6.3" text-anchor="end">0</text>
<line x1="350.5" y1="262.8" x2="350.5" y2="265.3" stroke="#231f20" stroke-width="0.9"/>
<line x1="366.5" y1="262.8" x2="366.5" y2="265.3" stroke="#231f20" stroke-width="0.9"/>
<path d="M350.5 216.7h0M350.5 224.4h0M350.5 230.3h0M350.5 240.8h0M350.5 242.9h0M350.5 246h0M350.5 253h0" stroke="#f2cd55" stroke-width="2" stroke-linecap="round" stroke-opacity="0.8"/>
<path d="M366 217.3h0M366 218.2h0M366 225.7h0M366 235.6h0M366 244h0M366 247.5h0M366 251.7h0M366 256.5h0M366 259.2h0" stroke="#b5173a" stroke-width="2" stroke-linecap="round"/>
<line x1="347.2" y1="236.5" x2="354.7" y2="236.5" stroke="#3a3a48" stroke-width="1.1"/>
<line x1="362.5" y1="240.5" x2="369.8" y2="240.5" stroke="#b5173a" stroke-width="1.1"/>
<path d="M351.2,195.5 L351.2,193.7 L367,193.7 L367,195.5" fill="none" stroke="#231f20" stroke-width="0.9"/>
<text x="358.8" y="189" font-size="6.3" text-anchor="middle" textLength="11.5" lengthAdjust="spacingAndGlyphs">0.34</text>
<text x="358.75" y="273.6" font-size="6.6" text-anchor="middle" textLength="27.3" lengthAdjust="spacingAndGlyphs">BM eAML</text>
<line x1="411.5" y1="191.5" x2="411.5" y2="263.3" stroke="#231f20" stroke-width="1.1"/>
<line x1="410.8" y1="262.5" x2="440.5" y2="262.5" stroke="#231f20" stroke-width="1.1"/>
<line x1="407.7" y1="193.5" x2="411.3" y2="193.5" stroke="#231f20" stroke-width="0.9"/>
<text x="405.3" y="195.7" font-size="6.3" text-anchor="end">12.5</text>
<line x1="407.7" y1="201.5" x2="411.3" y2="201.5" stroke="#231f20" stroke-width="0.9"/>
<text x="405.3" y="203.9" font-size="6.3" text-anchor="end">10</text>
<line x1="407.7" y1="209.5" x2="411.3" y2="209.5" stroke="#231f20" stroke-width="0.9"/>
<text x="405.3" y="212.1" font-size="6.3" text-anchor="end">7.5</text>
<line x1="407.7" y1="217.5" x2="411.3" y2="217.5" stroke="#231f20" stroke-width="0.9"/>
<text x="405.3" y="219.4" font-size="6.3" text-anchor="end">5</text>
<line x1="407.7" y1="229.5" x2="411.3" y2="229.5" stroke="#231f20" stroke-width="0.9"/>
<text x="405.3" y="231.2" font-size="6.3" text-anchor="end">2.5</text>
<line x1="407.7" y1="259.5" x2="411.3" y2="259.5" stroke="#231f20" stroke-width="0.9"/>
<text x="405.3" y="261.7" font-size="6.3" text-anchor="end">0</text>
<line x1="417.5" y1="262.8" x2="417.5" y2="265.3" stroke="#231f20" stroke-width="0.9"/>
<line x1="432.5" y1="262.8" x2="432.5" y2="265.3" stroke="#231f20" stroke-width="0.9"/>
<path d="M417.6 206.2h0M417.6 213.5h0M417.6 220.9h0M417.6 228.2h0M417.6 235.6h0M417.6 247.1h0M417.6 250.2h0M417.6 252.3h0M417.6 259.7h0" stroke="#f2cd55" stroke-width="2" stroke-linecap="round" stroke-opacity="0.8"/>
<path d="M432.3 196.4h0M432.3 208.3h0M432.3 210.4h0M432.3 213.1h0M432.3 215.2h0M432.3 239.7h0M432.3 246.7h0M432.3 247.5h0" stroke="#b5173a" stroke-width="2" stroke-linecap="round"/>
<line x1="415" y1="245.5" x2="420.7" y2="245.5" stroke="#3a3a48" stroke-width="1.1"/>
<line x1="429.7" y1="214.5" x2="436.4" y2="214.5" stroke="#b5173a" stroke-width="1.1"/>
<path d="M417.2,195.4 L417.2,193.6 L432.7,193.6 L432.7,195.4" fill="none" stroke="#231f20" stroke-width="0.9"/>
<text x="425.5" y="189" font-size="6.3" text-anchor="middle" textLength="11.8" lengthAdjust="spacingAndGlyphs">0.03</text>
<text x="425.45" y="273.6" font-size="6.6" text-anchor="middle" textLength="27.3" lengthAdjust="spacingAndGlyphs">BM eAML</text>
<line x1="468.5" y1="191.5" x2="468.5" y2="263.3" stroke="#231f20" stroke-width="1.1"/>
<line x1="468.3" y1="262.5" x2="499.8" y2="262.5" stroke="#231f20" stroke-width="1.1"/>
<line x1="465.8" y1="198.5" x2="468.8" y2="198.5" stroke="#231f20" stroke-width="0.9"/>
<text x="462.6" y="201.1" font-size="6.3" text-anchor="end">9</text>
<line x1="465.8" y1="210.5" x2="468.8" y2="210.5" stroke="#231f20" stroke-width="0.9"/>
<text x="462.6" y="212.6" font-size="6.3" text-anchor="end">6</text>
<line x1="465.8" y1="224.5" x2="468.8" y2="224.5" stroke="#231f20" stroke-width="0.9"/>
<text x="462.6" y="226.6" font-size="6.3" text-anchor="end">3</text>
<line x1="465.8" y1="259.5" x2="468.8" y2="259.5" stroke="#231f20" stroke-width="0.9"/>
<text x="462.6" y="261.9" font-size="6.3" text-anchor="end">0</text>
<line x1="475.5" y1="262.8" x2="475.5" y2="265.3" stroke="#231f20" stroke-width="0.9"/>
<line x1="491.5" y1="262.8" x2="491.5" y2="265.3" stroke="#231f20" stroke-width="0.9"/>
<path d="M475.7 202h0M475.7 230.3h0M475.7 233.5h0M475.7 236.2h0M475.7 239.7h0M475.7 242.9h0M475.7 247.5h0M475.7 259.2h0" stroke="#f2cd55" stroke-width="2" stroke-linecap="round" stroke-opacity="0.8"/>
<path d="M491 196.4h0M491 198.4h0M491 199.9h0M491 211h0M491 214h0M491 216.7h0M491 224.4h0" stroke="#b5173a" stroke-width="2" stroke-linecap="round"/>
<line x1="472.2" y1="238.5" x2="481" y2="238.5" stroke="#3a3a48" stroke-width="1.1"/>
<line x1="487.3" y1="206.5" x2="494.6" y2="206.5" stroke="#b5173a" stroke-width="1.1"/>
<path d="M475.7,195.4 L475.7,193.6 L491,193.6 L491,195.4" fill="none" stroke="#231f20" stroke-width="0.9"/>
<text x="483.3" y="189.4" font-size="6.3" text-anchor="middle" textLength="19.5" lengthAdjust="spacingAndGlyphs">&lt;0.001</text>
<text x="483.85" y="273.6" font-size="6.6" text-anchor="middle" textLength="27.3" lengthAdjust="spacingAndGlyphs">BM eAML</text>
<line x1="475.7" y1="206.5" x2="477.9" y2="206.5" stroke="#1f4590" stroke-width="0.9"/>
<line x1="476.5" y1="205.7" x2="476.5" y2="207.9" stroke="#1f4590" stroke-width="0.9"/>
<line x1="476.7" y1="209.5" x2="478.9" y2="209.5" stroke="#1f4590" stroke-width="0.9"/>
<line x1="477.5" y1="208.3" x2="477.5" y2="210.5" stroke="#1f4590" stroke-width="0.9"/>
<line x1="478.2" y1="211.5" x2="480.4" y2="211.5" stroke="#1f4590" stroke-width="0.9"/>
<line x1="479.5" y1="210.8" x2="479.5" y2="213" stroke="#1f4590" stroke-width="0.9"/>
<text transform="translate(323.8,227.5) rotate(-90)" font-size="7.3" text-anchor="middle" textLength="40" lengthAdjust="spacingAndGlyphs">%Total CD3<tspan dy="-2.2" font-size="4.8">+</tspan><tspan dy="2.2"></tspan></text>
<text transform="translate(386,226) rotate(-90)" font-size="7.3" text-anchor="middle" textLength="48" lengthAdjust="spacingAndGlyphs">%CD3<tspan dy="-2.2" font-size="4.8">+</tspan><tspan dy="2.2"></tspan> CD103<tspan dy="-2.2" font-size="4.8">+</tspan><tspan dy="2.2"></tspan></text>
<text transform="translate(453.6,226.4) rotate(-90)" font-size="7.9" text-anchor="middle" textLength="73.5" lengthAdjust="spacingAndGlyphs">%CD3<tspan dy="-2.2" font-size="4.8">+</tspan><tspan dy="2.2"></tspan> FOXP3<tspan dy="-2.2" font-size="4.8">+</tspan><tspan dy="2.2"></tspan> CTLA-4<tspan dy="-2.2" font-size="4.8">+</tspan><tspan dy="2.2"></tspan></text>
<line x1="331.4" y1="278.5" x2="501" y2="278.5" stroke="#4a4a4a" stroke-width="1.3"/>
<path d="M350.5 285.4h0" stroke="#f2cd55" stroke-width="3.2" stroke-linecap="round"/>
<text x="354.2" y="287.6" font-size="6" textLength="56.2" lengthAdjust="spacingAndGlyphs">bone marrow (n = 10)</text>
<path d="M421.3 285.4h0" stroke="#b5173a" stroke-width="3.2" stroke-linecap="round"/>
<text x="426" y="287.6" font-size="6" textLength="58" lengthAdjust="spacingAndGlyphs">leukemia cutis (n = 10)</text>
<line x1="350.3" y1="295.5" x2="352.3" y2="295.5" stroke="#2f6cb3" stroke-width="0.8"/>
<line x1="351.5" y1="294" x2="351.5" y2="296" stroke="#2f6cb3" stroke-width="0.8"/>
<text x="355" y="297.2" font-size="6" fill="#2f6cb3" font-style="italic" textLength="58" lengthAdjust="spacingAndGlyphs">exceptional responder</text>
<text x="360" y="330.9" font-size="7" text-anchor="middle" textLength="12.5" lengthAdjust="spacingAndGlyphs">CD3</text>
<text x="403.75" y="330.9" font-size="7" text-anchor="middle" textLength="20" lengthAdjust="spacingAndGlyphs">CD103</text>
<text x="447.9" y="330.9" font-size="7" text-anchor="middle" textLength="21.8" lengthAdjust="spacingAndGlyphs">CTLA-4</text>
<text x="493.75" y="330.9" font-size="7" text-anchor="middle" textLength="20" lengthAdjust="spacingAndGlyphs">FOXP3</text>
<text x="330.5" y="352.6" font-size="7" text-anchor="end" textLength="9.3" lengthAdjust="spacingAndGlyphs">BM</text>
<text x="330.5" y="386.4" font-size="7" text-anchor="end" textLength="16.8" lengthAdjust="spacingAndGlyphs">eAML</text>
<rect x="333.75" y="335.2" width="3.75" height="31.3" fill="#f0a01e"/>
<rect x="333.75" y="368.3" width="3.75" height="31.8" fill="#c8102e"/>
<text x="357.9" y="416.3" font-size="7" text-anchor="middle" textLength="61.7" lengthAdjust="spacingAndGlyphs">CD3 / FOXP3 / CTLA-4</text>
<text x="447.75" y="416.3" font-size="7" text-anchor="middle" textLength="65.5" lengthAdjust="spacingAndGlyphs">CD3 / FOXP3 / CTLA-4</text>
<text x="330.5" y="438.2" font-size="7" text-anchor="end" textLength="9.3" lengthAdjust="spacingAndGlyphs">BM</text>
<text x="418.75" y="438.8" font-size="7" text-anchor="end" textLength="16.8" lengthAdjust="spacingAndGlyphs">eAML</text>
<rect x="333.75" y="420.5" width="3.75" height="32.5" fill="#f0a01e"/>
<rect x="421.9" y="420.3" width="3.1" height="32.3" fill="#c8102e"/>
<rect x="338.9" y="335.2" width="42.1" height="31.3" fill="#0a0a26"/>
<g clip-path="url(#cm8)">
<g filter="url(#hb)" fill="#03030a">
<ellipse cx="343.11" cy="338.96" rx="6.63" ry="5.59"/>
<ellipse cx="354.06" cy="353.98" rx="5.3" ry="3.62"/>
<ellipse cx="358.27" cy="352.1" rx="4.42" ry="3.29"/>
<ellipse cx="367.53" cy="349.28" rx="5.3" ry="5.59"/>
<ellipse cx="370.9" cy="353.98" rx="4.42" ry="4.27"/>
<ellipse cx="365.42" cy="339.58" rx="5.3" ry="3.29"/>
<ellipse cx="359.95" cy="365.56" rx="22.1" ry="2.3"/>
<ellipse cx="376.79" cy="361.81" rx="4.42" ry="3.29"/>
</g>
<path d="M380.19 350.08h0M365.37 357.4h0M378.84 357.98h0M345.81 360.3h0M350.35 358.82h0M356.94 363h0M350.83 335.25h0M351.93 337h0M363.59 335.49h0M353.85 337.16h0M346.51 357.14h0" stroke="#1e1e66" stroke-width="3.6" stroke-linecap="round" stroke-opacity="0.4"/>
<path d="M343.2 355.37h0M339.29 356.15h0M375.51 357.91h0M349.59 336.39h0" stroke="#1e1e66" stroke-width="2.4" stroke-linecap="round" stroke-opacity="0.2"/>
<path d="M375.51 339.24h0M374.92 358.04h0M378.15 343.15h0M354.82 336.06h0" stroke="#1e1e66" stroke-width="2.4" stroke-linecap="round" stroke-opacity="0.4"/>
<path d="M369.18 342.78h0M366.3 360.3h0M350.43 361.84h0M360.84 343.32h0M354.65 338.52h0" stroke="#1e1e66" stroke-width="4.8" stroke-linecap="round" stroke-opacity="0.4"/>
<path d="M376.09 356.69h0M355.27 344.98h0M340.68 361.28h0M359.31 347.15h0M372.05 340.09h0" stroke="#1e1e66" stroke-width="4.8" stroke-linecap="round" stroke-opacity="0.2"/>
<path d="M349.91 359.59h0" stroke="#1e1e66" stroke-width="3.6" stroke-linecap="round" stroke-opacity="0.2"/>
<path d="M354.46 357.28h0M357.03 358.89h0M371.9 345.27h0M374.17 343.14h0M344.55 350.95h0M344.76 357.07h0M339.11 343.67h0M355.64 339.43h0M367.57 357.46h0M344.58 361.13h0M356.86 344.74h0" stroke="#b8b8f0" stroke-width="1.2" stroke-linecap="round" stroke-opacity="0.8"/>
<path d="M377.72 357.31h0M362.17 336.07h0M353.92 342.86h0M355.81 359.22h0M363.28 352.57h0M355.99 337.09h0M347.53 359.53h0M353.79 350.73h0M340.64 349.4h0M358.83 355.46h0M356.71 360h0M355.81 336.47h0M351.26 342.48h0M352.77 346.59h0M372.23 350.22h0" stroke="#d8d8ff" stroke-width="1.2" stroke-linecap="round" stroke-opacity="0.8"/>
<path d="M379.17 356.16h0M363.95 335.35h0M356.6 361.48h0M349.1 342.14h0M343.55 363.2h0M378.54 352.87h0M342.8 355.12h0M378.53 356.39h0M350.73 341.37h0M380.17 352.84h0M376.32 356.21h0M351.92 359.38h0M361.15 346.18h0M350.07 348.91h0M368.03 360.7h0" stroke="#6a6ae0" stroke-width="1.2" stroke-linecap="round" stroke-opacity="0.6"/>
<path d="M348.8 357.76h0M345 358.83h0M380.57 347.12h0M348.47 349.37h0M349.08 351.33h0M374.5 364.21h0M375.2 343.13h0M340.73 354.1h0M365.55 355.06h0M372.44 339.62h0M377.83 353.51h0M341.75 350.37h0M345.5 362.21h0M375.7 357.67h0M340.32 357.62h0M349.94 361.52h0M352.98 351.42h0M340.2 347.51h0" stroke="#d8d8ff" stroke-width="1.2" stroke-linecap="round" stroke-opacity="0.6"/>
<path d="M355.32 346.94h0M341.23 360.57h0M356.85 363.7h0M342.6 344.23h0M347.59 356.8h0M348.09 346.86h0M378.37 345.04h0M348.33 343.09h0M348.77 354.9h0M352.45 346.52h0M378.27 357.14h0M380.16 347.45h0M352.86 361.56h0" stroke="#6a6ae0" stroke-width="0.8" stroke-linecap="round" stroke-opacity="0.6"/>
<path d="M376.31 339.57h0M363.16 363.31h0M363.02 358.57h0M350.09 356.44h0M342.78 346.55h0M339.06 344.73h0M344.72 355.13h0M351.5 345.95h0M358.27 345.34h0M354.51 345.84h0M374.42 339.59h0M353.29 349.49h0M375.03 339.1h0M363.27 344.59h0" stroke="#b8b8f0" stroke-width="1.2" stroke-linecap="round" stroke-opacity="0.6"/>
<path d="M352.48 342.52h0M356.51 342.92h0M360.4 349.07h0M342.58 354.25h0M367.1 354.87h0M360.8 348.77h0M339.22 362.82h0M362.22 347.32h0M340.74 357.2h0M353.27 359.1h0M360.11 363.19h0M351.89 357.94h0M379.58 341.35h0M349.49 338.42h0M378.66 355.75h0" stroke="#d8d8ff" stroke-width="0.8" stroke-linecap="round" stroke-opacity="0.6"/>
<path d="M341.29 357.54h0M339.77 365.48h0M357.6 346.18h0M366.82 335.56h0M349.13 347.4h0M374.05 339.2h0M369.88 359.14h0M356.47 358.49h0M372.92 364.9h0M379.23 351.38h0M354.07 359.61h0M379.82 342.21h0M379.79 357.48h0M372.66 362.01h0M350.29 352.13h0M362.91 356.76h0M340.26 359.88h0M358.91 348.06h0" stroke="#9090e8" stroke-width="0.8" stroke-linecap="round" stroke-opacity="0.6"/>
<path d="M359.57 345.16h0M341.32 357.94h0M349.36 352.83h0M380.4 345.24h0M362.98 348.28h0M350.5 336.23h0M363.53 356.98h0M371.77 342.59h0M358.9 338.11h0M344.04 364.1h0M342.81 350.37h0" stroke="#b8b8f0" stroke-width="0.8" stroke-linecap="round" stroke-opacity="0.6"/>
<path d="M362.47 361.34h0M344.04 347.9h0M370.07 344.19h0M363.09 348.07h0M355.59 338.78h0M360.59 349.6h0M377.86 356.33h0M359.45 337.51h0M379.76 351.65h0M349.71 342.67h0M373.32 338.38h0M366.47 356.93h0M358.05 358.58h0" stroke="#9090e8" stroke-width="1.2" stroke-linecap="round" stroke-opacity="0.6"/>
<path d="M349.91 342.67h0M357.42 337.14h0M350.55 361.46h0M373.66 357.96h0M367.99 363.27h0M362.37 336.63h0M340.66 357.17h0M347.83 345.43h0M361.2 343.77h0M352.63 348.52h0M373.14 342.67h0M354.72 336.51h0M351.17 357.44h0" stroke="#6a6ae0" stroke-width="0.8" stroke-linecap="round" stroke-opacity="0.8"/>
<path d="M362.28 365.1h0M352.54 345.39h0M349.4 336.58h0M380.58 351.93h0M378.27 355.63h0M351.53 337.97h0M339.5 357.78h0M367.32 344.43h0M351.93 343.28h0M340.32 351.27h0" stroke="#9090e8" stroke-width="0.8" stroke-linecap="round" stroke-opacity="0.8"/>
<path d="M354.19 347.74h0M360.15 335.85h0M358.18 357.83h0M361.01 338.3h0M361.41 354.79h0M340.23 361.4h0M352.83 358.4h0M353.66 342.34h0M342.7 345.83h0M348.97 350.88h0M360.24 346.68h0" stroke="#6a6ae0" stroke-width="1.2" stroke-linecap="round" stroke-opacity="0.8"/>
<path d="M360.44 362.91h0M354.77 342.46h0M362.56 346.51h0M339.96 347.57h0M346.67 361.03h0M373.68 363.5h0M345.04 356.2h0M378.48 362.53h0M345.3 363.77h0M355.52 362.93h0M342.11 357.97h0M353.79 361.63h0" stroke="#d8d8ff" stroke-width="0.8" stroke-linecap="round" stroke-opacity="0.8"/>
<path d="M365.51 357.22h0M356.26 337.08h0M365.7 336.52h0M355.14 336.91h0M355.13 347.82h0M375.16 339.34h0M343.75 363.77h0M357.21 356.62h0M341.23 357.45h0M353.12 337h0M348.65 348.67h0M359.81 363.41h0M341.75 364.98h0M348.99 338.17h0M373.48 337.49h0M371.48 345.92h0" stroke="#b8b8f0" stroke-width="0.8" stroke-linecap="round" stroke-opacity="0.8"/>
<path d="M378.68 350.67h0M356.83 363.01h0M342.68 360.68h0M345.27 359.02h0M348.67 341.4h0" stroke="#9090e8" stroke-width="1.2" stroke-linecap="round" stroke-opacity="0.8"/>
</g>
<line x1="371.5" y1="364.5" x2="377.5" y2="364.5" stroke="#8c8a30" stroke-width="1"/>
<rect x="383.1" y="335.2" width="41.6" height="31.3" fill="#140a28"/>
<g clip-path="url(#cm9)">
<g filter="url(#hb)" fill="#050308">
<ellipse cx="387.26" cy="338.96" rx="6.55" ry="5.59"/>
<ellipse cx="398.08" cy="353.98" rx="5.24" ry="3.62"/>
<ellipse cx="402.24" cy="352.1" rx="4.37" ry="3.29"/>
<ellipse cx="411.39" cy="349.28" rx="5.24" ry="5.59"/>
<ellipse cx="414.72" cy="353.98" rx="4.37" ry="4.27"/>
<ellipse cx="409.31" cy="339.58" rx="5.24" ry="3.29"/>
<ellipse cx="403.9" cy="365.56" rx="21.84" ry="2.3"/>
<ellipse cx="420.54" cy="361.81" rx="4.37" ry="3.29"/>
</g>
<path d="M390.89 363.04h0M388.05 347.01h0M396.08 336.87h0M398.15 345.2h0M389.43 358.9h0M387.11 354.07h0M422.22 358.44h0" stroke="#2a1650" stroke-width="3.6" stroke-linecap="round" stroke-opacity="0.4"/>
<path d="M405.49 342.77h0M390.98 361.2h0M420.28 356.06h0M389.85 358.31h0M406.34 356.19h0M393.9 359.34h0M394.15 342.82h0M421.67 344.24h0" stroke="#2a1650" stroke-width="2.4" stroke-linecap="round" stroke-opacity="0.4"/>
<path d="M420.4 347.4h0M400.08 340.2h0M399.43 360.42h0" stroke="#2a1650" stroke-width="3.6" stroke-linecap="round" stroke-opacity="0.2"/>
<path d="M398.17 342.22h0M395.94 345.17h0M422.41 349.43h0M424.06 358.19h0M422.95 346.53h0M404.82 356.38h0M420.17 358.01h0M389.11 353.59h0M385.04 347.48h0M410.09 360.39h0M394.64 340.27h0M420.18 350.06h0M421.71 347.82h0M401.09 341.9h0" stroke="#2a1650" stroke-width="4.8" stroke-linecap="round" stroke-opacity="0.4"/>
<path d="M405.03 335.21h0M403.62 356.85h0M384.56 345.38h0" stroke="#2a1650" stroke-width="2.4" stroke-linecap="round" stroke-opacity="0.2"/>
<path d="M414.82 344.31h0M397.55 339.58h0M399.55 360.58h0M387.73 344.81h0M423.34 355.04h0" stroke="#2a1650" stroke-width="4.8" stroke-linecap="round" stroke-opacity="0.2"/>
<path d="M393.03 339.11h0M385.9 354.08h0M416.83 343.59h0M388.66 349.41h0M406.41 357.15h0M383.64 362.23h0M394.68 360.71h0M392 353.52h0M391.42 349.49h0M424.15 342.36h0" stroke="#4a3aa0" stroke-width="0.8" stroke-linecap="round" stroke-opacity="0.8"/>
<path d="M388.56 357.24h0M386.1 361.45h0M423.09 345.51h0M406.62 345.08h0M389.8 363.26h0M412.79 342.71h0M389 363.65h0" stroke="#4a3aa0" stroke-width="0.8" stroke-linecap="round" stroke-opacity="0.6"/>
<path d="M395.96 346.46h0M423.75 353.67h0M397.25 345.56h0M423.58 337.89h0M413.02 362.17h0" stroke="#5a3a9a" stroke-width="0.8" stroke-linecap="round" stroke-opacity="0.8"/>
<path d="M391.79 361.47h0M386.28 363.29h0M421.37 357.82h0M390.39 346.32h0M417.29 339.22h0M399.28 346.27h0M406.38 349.65h0M397.85 362.76h0" stroke="#5a3a9a" stroke-width="0.8" stroke-linecap="round" stroke-opacity="0.6"/>
</g>
<line x1="415.2" y1="364.5" x2="421.2" y2="364.5" stroke="#8c8a30" stroke-width="1"/>
<rect x="427.2" y="335.2" width="41.5" height="31.3" fill="#0f2456"/>
<g clip-path="url(#cm10)">
<g filter="url(#hb)" fill="#030610">
<ellipse cx="431.35" cy="338.96" rx="6.54" ry="5.59"/>
<ellipse cx="442.14" cy="353.98" rx="5.23" ry="3.62"/>
<ellipse cx="446.29" cy="352.1" rx="4.36" ry="3.29"/>
<ellipse cx="455.42" cy="349.28" rx="5.23" ry="5.59"/>
<ellipse cx="458.74" cy="353.98" rx="4.36" ry="4.27"/>
<ellipse cx="453.34" cy="339.58" rx="5.23" ry="3.29"/>
<ellipse cx="447.95" cy="365.56" rx="21.79" ry="2.3"/>
<ellipse cx="464.55" cy="361.81" rx="4.36" ry="3.29"/>
</g>
<path d="M436.5 358.31h0M458.62 338.45h0M429.01 356.57h0M456.94 336.16h0M460.55 335.61h0M467.27 340.24h0M439.78 348h0" stroke="#1a3a80" stroke-width="4.8" stroke-linecap="round" stroke-opacity="0.2"/>
<path d="M446.56 347.78h0M438.11 340h0M434.96 360.46h0M460.38 337.63h0M435.8 348.63h0M459.89 361.69h0M443.07 340.27h0M445.1 338.9h0M459.13 340.77h0M445.66 358h0M441.41 361.25h0M461.59 342.28h0" stroke="#1a3a80" stroke-width="2.4" stroke-linecap="round" stroke-opacity="0.4"/>
<path d="M429.04 352.61h0M446.21 339.02h0M461.46 345.02h0M466.12 347.95h0M458.54 362.92h0M431.01 362.31h0M452.86 355.73h0M450.33 357.81h0" stroke="#1a3a80" stroke-width="4.8" stroke-linecap="round" stroke-opacity="0.4"/>
<path d="M459.86 363.05h0M427.52 358.52h0M431.1 358.05h0M441.1 341.21h0M457.61 360.13h0M462.47 348.68h0M442.01 360.74h0M430.02 347.44h0" stroke="#1a3a80" stroke-width="2.4" stroke-linecap="round" stroke-opacity="0.2"/>
<path d="M449.84 344.31h0M467.72 352.29h0M453.06 358.78h0" stroke="#1a3a80" stroke-width="3.6" stroke-linecap="round" stroke-opacity="0.4"/>
<path d="M442.45 344.68h0M455.86 358.55h0" stroke="#1a3a80" stroke-width="3.6" stroke-linecap="round" stroke-opacity="0.2"/>
<path d="M455.03 343.89h0M436.47 337.23h0M454.72 362.51h0M464.96 348.53h0M448.98 342.7h0M464.66 355.34h0M442.46 363.46h0M445.42 339.6h0M467.05 339.87h0M440.53 358.78h0M464.07 355.91h0M458.47 340.68h0M448.48 338.85h0M437.88 360.93h0M455.09 360.23h0M446.52 345.35h0" stroke="#3a5ac0" stroke-width="0.8" stroke-linecap="round" stroke-opacity="0.6"/>
<path d="M430.91 359.69h0M462.61 342.74h0M431.33 347.01h0M445.39 338.83h0M442.19 349.88h0M431.41 350.14h0M457.55 337.53h0M446.23 357.85h0M436.87 350.13h0M446.15 342.28h0M444.34 357.39h0M461.93 340.05h0M449.94 347.3h0M450.37 348.85h0" stroke="#2a4ab0" stroke-width="0.8" stroke-linecap="round" stroke-opacity="0.6"/>
<path d="M458.94 342.21h0M438.85 359.9h0M447.19 340.83h0M435.47 337.27h0M466.29 347.96h0M455.92 343.2h0" stroke="#3a5ac0" stroke-width="0.8" stroke-linecap="round" stroke-opacity="0.8"/>
<path d="M436.43 358.49h0M433.22 360.35h0M464.8 341.22h0M467.5 352.18h0" stroke="#2a4ab0" stroke-width="0.8" stroke-linecap="round" stroke-opacity="0.8"/>
</g>
<line x1="459.2" y1="364.5" x2="465.2" y2="364.5" stroke="#8c8a30" stroke-width="1"/>
<rect x="470.9" y="335.2" width="41.7" height="31.3" fill="#0f0f34"/>
<g clip-path="url(#cm11)">
<g filter="url(#hb)" fill="#030309">
<ellipse cx="475.07" cy="338.96" rx="6.57" ry="5.59"/>
<ellipse cx="485.91" cy="353.98" rx="5.25" ry="3.62"/>
<ellipse cx="490.08" cy="352.1" rx="4.38" ry="3.29"/>
<ellipse cx="499.26" cy="349.28" rx="5.25" ry="5.59"/>
<ellipse cx="502.59" cy="353.98" rx="4.38" ry="4.27"/>
<ellipse cx="497.17" cy="339.58" rx="5.25" ry="3.29"/>
<ellipse cx="491.75" cy="365.56" rx="21.89" ry="2.3"/>
<ellipse cx="508.43" cy="361.81" rx="4.38" ry="3.29"/>
</g>
<path d="M480.6 358.21h0M499.11 359.65h0M475.78 354.9h0M511.2 341.34h0M477.32 356.88h0M505.93 349.51h0M508.51 341.61h0M499.31 357.17h0M484.06 344.39h0M480.15 345.16h0" stroke="#22226a" stroke-width="3.6" stroke-linecap="round" stroke-opacity="0.4"/>
<path d="M498.56 359.2h0M497.58 362.71h0M482.26 337.39h0M471.45 364.42h0M508.37 339.31h0" stroke="#22226a" stroke-width="2.4" stroke-linecap="round" stroke-opacity="0.2"/>
<path d="M492.16 362.89h0M489.84 345.59h0M497.68 355.06h0M481.57 360.92h0M471.53 351.94h0M485.45 344.33h0M480.11 344.3h0M490.2 345.81h0M472.16 345.23h0M492.64 346.56h0M493.21 359.61h0M498.32 361.88h0" stroke="#22226a" stroke-width="4.8" stroke-linecap="round" stroke-opacity="0.4"/>
<path d="M485.29 358.94h0M496.92 357h0M505.3 349.97h0M473.82 347.31h0" stroke="#22226a" stroke-width="3.6" stroke-linecap="round" stroke-opacity="0.2"/>
<path d="M479.17 349.91h0M507.38 345.62h0M500.8 342.38h0M474.83 353.55h0M484.05 357.77h0M492.97 359.47h0M473.54 356.61h0" stroke="#22226a" stroke-width="2.4" stroke-linecap="round" stroke-opacity="0.4"/>
<path d="M501.11 336.17h0M482.52 336.37h0" stroke="#22226a" stroke-width="4.8" stroke-linecap="round" stroke-opacity="0.2"/>
<path d="M489.14 337.88h0M504.85 356.96h0M480.56 345.96h0M510.21 335.59h0M511.73 364.81h0M483.87 350.12h0M508.26 337.34h0M478.56 344.31h0M495.32 357.76h0M494.22 348.19h0M493.75 336.5h0M486.16 361.85h0M484.77 347.32h0M502.09 362.07h0" stroke="#9090e8" stroke-width="0.8" stroke-linecap="round" stroke-opacity="0.8"/>
<path d="M501.59 336.2h0M493.38 345.73h0M510.03 358.5h0M473.72 358.4h0M507.34 353.14h0M476.11 363.82h0M510.19 358.29h0M510.79 366.5h0M491.95 363.41h0M484.07 350.99h0M500.3 361.5h0M487.69 340.91h0" stroke="#6a6ad0" stroke-width="0.8" stroke-linecap="round" stroke-opacity="0.8"/>
<path d="M484.08 360.82h0M510.78 354.11h0M506.29 356.57h0M510.6 345.44h0M486.16 346.93h0M491.94 345.4h0M507.17 341.9h0M508.21 349.93h0M509.67 341.51h0M493.89 358.97h0M504.4 348.47h0M507.15 346.36h0M482.45 351.43h0M511.22 347.83h0M509.27 347.77h0M511.58 354.49h0M492.65 335.82h0M505.15 340.22h0M511.72 348.8h0" stroke="#9090e8" stroke-width="0.8" stroke-linecap="round" stroke-opacity="0.6"/>
<path d="M479.32 359.85h0M507.07 351.26h0M475.84 362.95h0M511.45 350.58h0M479.93 354.87h0M485.09 357.64h0M505.17 342.47h0M482.26 361.44h0M512.5 345.72h0M498.1 358.57h0M473.7 360.57h0M473.38 360.41h0M489.11 339.02h0M509.35 338h0M483.48 337.83h0" stroke="#6a6ad0" stroke-width="0.8" stroke-linecap="round" stroke-opacity="0.6"/>
</g>
<line x1="503.1" y1="364.5" x2="509.1" y2="364.5" stroke="#8c8a30" stroke-width="1"/>
<rect x="338.9" y="368.3" width="42.1" height="31.8" fill="#10103e"/>
<g clip-path="url(#cm12)">
<path d="M359.24 369.08h0M360.65 384.1h0M345.49 388.85h0M372.08 394.42h0M352.64 388.73h0M372.62 379.01h0M365.97 378.4h0M373.06 377.69h0" stroke="#22227a" stroke-width="4.8" stroke-linecap="round" stroke-opacity="0.4"/>
<path d="M376.8 373.56h0M355.57 398.3h0M346.94 399.89h0M359.48 377.05h0M378.06 392.37h0M376.06 394.04h0M357.8 380.01h0M374.03 377.82h0M349.77 393.17h0M379.18 388.82h0" stroke="#22227a" stroke-width="2.4" stroke-linecap="round" stroke-opacity="0.4"/>
<path d="M365.26 389.14h0M365.09 397.09h0M372.2 386.61h0M376.01 387.41h0M360.57 368.48h0M368.6 374.31h0M366.8 378.91h0M378.01 387.86h0M370.94 386.53h0M363.7 372.55h0M375.8 387.58h0M378.6 400.03h0M368.06 388.89h0M369.93 398.11h0M374.74 395.58h0" stroke="#22227a" stroke-width="3.6" stroke-linecap="round" stroke-opacity="0.4"/>
<path d="M360.27 390.72h0M340.3 383.5h0M374.74 396.7h0" stroke="#22227a" stroke-width="2.4" stroke-linecap="round" stroke-opacity="0.2"/>
<path d="M358.8 372.07h0M358.46 383.22h0M369.6 379.21h0" stroke="#22227a" stroke-width="4.8" stroke-linecap="round" stroke-opacity="0.2"/>
<path d="M346.73 384.2h0" stroke="#22227a" stroke-width="3.6" stroke-linecap="round" stroke-opacity="0.2"/>
<path d="M345.8 397.87h0M347.86 378.2h0M362.06 377.96h0M347.03 388.84h0M366.59 369h0M368.57 387.89h0M358.53 382.31h0M366.08 389.37h0M343.03 377.26h0M357.54 371.25h0M343.9 370.29h0M360.58 377.45h0M370.9 381.45h0M379.21 379.23h0M371.36 373.86h0M369.6 374.85h0M373.36 378h0M344.62 398.54h0" stroke="#6a6ad8" stroke-width="1.2" stroke-linecap="round" stroke-opacity="0.6"/>
<path d="M349.83 370.24h0M350.26 383.79h0M346.25 374.22h0M347.37 399.26h0M376.48 377.01h0M360.6 374.28h0M359.34 384.62h0M351.4 384.18h0" stroke="#8a8ae0" stroke-width="1.2" stroke-linecap="round" stroke-opacity="0.8"/>
<path d="M379.78 392.82h0M345.96 372.66h0M380.69 369.16h0M340.05 370.03h0M367.09 382.08h0M367.13 375.38h0M377.84 386.19h0M368.52 393.14h0M348.51 378.86h0M380.45 370.03h0M379.19 379.78h0M357.43 394.7h0M342.58 374.82h0M342.75 397.72h0M344.94 390.54h0M359.79 397.31h0M372.01 389.87h0M374.61 368.97h0M357.24 379.33h0M343.84 382.19h0M375.57 392.94h0M339.95 395.26h0M348.22 380.23h0M353.89 390.46h0M363.12 392.22h0M377.36 400.05h0M361.81 393.95h0" stroke="#6a6ad8" stroke-width="0.8" stroke-linecap="round" stroke-opacity="0.8"/>
<path d="M357.57 371.43h0M362.61 371.45h0M346.46 372.5h0M351.78 387.07h0M348.32 381.59h0M374.36 395.43h0M360.15 369.09h0M346.69 390.76h0M347.89 392.23h0M341.8 384.8h0M371.37 375.24h0M380.38 391.04h0" stroke="#6a6ad8" stroke-width="1.2" stroke-linecap="round" stroke-opacity="0.8"/>
<path d="M370.25 375.68h0M349.07 371.24h0M351.89 384.59h0M339.05 375.38h0M377.63 371.48h0M375.43 382.27h0M349.15 386.97h0M346.28 387.35h0M346.02 384.54h0M361.68 375.31h0M376.66 378.4h0M340.44 392.37h0M358.43 383.79h0M362.61 399.35h0M356.25 398.65h0M370.83 369.76h0M355.14 379.31h0M365.78 383.58h0M365.7 391.84h0M367.78 382.75h0M359.68 382.49h0M344.4 389.95h0M360.66 373.03h0M371.1 383.25h0M367.07 382.56h0M356.78 375.16h0M375.35 370.78h0" stroke="#6a6ad8" stroke-width="0.8" stroke-linecap="round" stroke-opacity="0.6"/>
<path d="M347.15 376.53h0M361.95 378.28h0M349.18 399.24h0M350.71 396.77h0M346.45 394.77h0M358.96 369.62h0M370.15 394.34h0M340.8 391.05h0M345.44 396.03h0M360.62 395.34h0M338.99 371.27h0M352.69 378.74h0M354.59 397.23h0M369.32 379.53h0M379.01 374.31h0M369.76 371.52h0M376.42 381.27h0M363.1 376.09h0M375.97 399.41h0M376.68 375.87h0M371.02 371.55h0M368.78 386.81h0M357.68 370.44h0M349.92 388.04h0M343.26 371.42h0M343.26 388.29h0M372.81 394.35h0M341.11 372.19h0M378.08 385.53h0M361.34 369.65h0M352.57 381.91h0M350.41 375.81h0M377.86 396.51h0M346.8 390.91h0M379.58 375.43h0M339.96 383.86h0M377.77 376.9h0M359.88 386.89h0M348.64 375.57h0M359.69 392.37h0M349.9 377.76h0M356.62 376.24h0M341.65 396.03h0M342.55 399.62h0" stroke="#b0b0f0" stroke-width="0.8" stroke-linecap="round" stroke-opacity="0.6"/>
<path d="M345.73 396.48h0M371.48 392.29h0M361.47 377.45h0M354.34 390.95h0M357.93 379.68h0M347 392.87h0M346.72 393.17h0M378.43 396.22h0M369.07 395.12h0M347.22 385.2h0M366.63 395.96h0M352.36 372.32h0M347.45 396.87h0M373.9 376.18h0M348.05 398.64h0M359.31 388.15h0M378.45 373.77h0M341.65 388.76h0M349.66 394.81h0M361.25 392.39h0M373.33 394.08h0M358.11 378.65h0M342.86 384.72h0M360.32 384.32h0M345.4 385.47h0M373.1 386.32h0M341.01 381.37h0M374.14 386.93h0M377.23 373.54h0M348.43 390.71h0M377.97 370.34h0M362.77 377.07h0M344.26 380.55h0M339.16 396.29h0M360.26 399.8h0M341.16 373.36h0M347.97 384.15h0M342.79 373.16h0M348.18 374.93h0M346.64 397.17h0M351.91 368.73h0M369.38 379.22h0M352.78 372.56h0M346.92 386.07h0M372.71 383.3h0M357.36 387.22h0M375.78 381.65h0M356.64 382.05h0M352.46 374.83h0M357.13 370.49h0M374.78 387.55h0" stroke="#d0d0ff" stroke-width="0.8" stroke-linecap="round" stroke-opacity="0.6"/>
<path d="M379.73 384.16h0M363.55 391.82h0M350.28 373h0M340.24 376.47h0M369.85 376.43h0M376.37 395.91h0M350.33 384.53h0M372.16 382.84h0M357.61 397.42h0M369 398.15h0M362.81 375.04h0M344.94 385.82h0M367 374.28h0M380.85 374.74h0M365.6 385.26h0M371.45 388.45h0M367.24 372.18h0M343.29 385.5h0M353.39 394.51h0M365.14 388.59h0M352.94 374.88h0M363.08 389.11h0" stroke="#d0d0ff" stroke-width="1.2" stroke-linecap="round" stroke-opacity="0.6"/>
<path d="M379.18 382.78h0M372.45 372.27h0M341.16 386.84h0M369.53 372.32h0M366.86 374.2h0M360.41 380.23h0M365.9 390.97h0M377.18 375.72h0M356.18 382.79h0M345.62 377.6h0M343.19 382.14h0M351.54 382.98h0M348.5 399.11h0M367.75 374.52h0M372.05 383.41h0M342.69 399.58h0M338.94 395.88h0M357.83 369.29h0M340.34 391.73h0M371.85 391.16h0M370.47 390.42h0M379.17 368.72h0M372.48 376.66h0M377.82 384.16h0M347.75 371.69h0M346.74 393.99h0M380.17 376.81h0M354.27 369.84h0M344.68 388.78h0M345.83 388.32h0" stroke="#d0d0ff" stroke-width="0.8" stroke-linecap="round" stroke-opacity="0.8"/>
<path d="M367.76 379.82h0M367.1 379.76h0M345.68 391.39h0M366.69 369.1h0M344.24 369.42h0M363.82 390.21h0M373.82 398.17h0M344 377.26h0M375.62 377.92h0M365.26 372.29h0M346.6 386.66h0M365.66 397.98h0M372.19 378.02h0M364.56 379.79h0M339.57 373.11h0M356.45 376.31h0M343.61 381.91h0M372.64 384.43h0M364.78 380.13h0M366.73 386.44h0M369.02 379.35h0M366.91 374.42h0M368.54 391.44h0M347.62 395.72h0M376.44 397.96h0" stroke="#8a8ae0" stroke-width="0.8" stroke-linecap="round" stroke-opacity="0.8"/>
<path d="M341.89 384.67h0M368.93 368.36h0M362.5 381.42h0M351.75 378.61h0M367.17 368.42h0M362.18 368.47h0M357.94 383.89h0M348.65 370.46h0M342.36 374.85h0M379.74 380.14h0M352.39 396.17h0M341.99 392.24h0M344.19 382.73h0M361.88 398.23h0M363.39 374.29h0M377.94 379.87h0M348.97 368.79h0M358.49 378.6h0" stroke="#b0b0f0" stroke-width="1.2" stroke-linecap="round" stroke-opacity="0.6"/>
<path d="M343.55 377.42h0M345.89 369.74h0M378.05 374.64h0M341.77 398.07h0M372.04 389.83h0M371.84 385.89h0" stroke="#b0b0f0" stroke-width="1.2" stroke-linecap="round" stroke-opacity="0.8"/>
<path d="M368.8 385.24h0M349.64 372.8h0M377.79 387.51h0M340.91 384.87h0M373.19 383.36h0M378.8 386.29h0M348.27 377.12h0M353.08 371.75h0M359.82 383.32h0M359.25 387.91h0M366.34 376.65h0M350.6 384.1h0M349.73 394.2h0M346.29 376.54h0M376.38 374.15h0M378.7 381.12h0M346.28 371.9h0M377.64 394.57h0M365.61 386.75h0M349.79 371.58h0M355.43 386.17h0M359.86 382.14h0M351.2 390.19h0M369.75 389.57h0M351.39 397.41h0M365.76 379.18h0M366.89 386.84h0M360.48 399.75h0M343.7 384.06h0M343.57 373.84h0" stroke="#8a8ae0" stroke-width="0.8" stroke-linecap="round" stroke-opacity="0.6"/>
<path d="M344.81 397.74h0M341.81 371h0M341.46 379.77h0M363.01 375.67h0M345.81 370.19h0M346.36 394.63h0M356.31 392.29h0M362.17 387.52h0M344.29 394.05h0M366.29 377.85h0M380.69 383.11h0M355.53 388.83h0M377.98 386.32h0M371.49 398.05h0M346.19 376.38h0M368.28 390h0M364.98 378.44h0M376.7 382.12h0M360.62 386.18h0M348.05 396.71h0M366.43 371.91h0M349.68 395.26h0M340.67 394.72h0" stroke="#b0b0f0" stroke-width="0.8" stroke-linecap="round" stroke-opacity="0.8"/>
<path d="M354.07 389.1h0M374.8 378.84h0M356.8 374.17h0M345.54 374.43h0M361.16 381.64h0M372.29 388.39h0M343.98 396.52h0M350.14 383.17h0M369.7 372.01h0M377.67 383.7h0M351.24 390.6h0M347 372.49h0" stroke="#8a8ae0" stroke-width="1.2" stroke-linecap="round" stroke-opacity="0.6"/>
<path d="M372.57 371.63h0M364.78 386.21h0M354.76 396.52h0M354.84 384.81h0M360.24 369.51h0M358.34 392.46h0M346.55 391.2h0" stroke="#d0d0ff" stroke-width="1.2" stroke-linecap="round" stroke-opacity="0.8"/>
</g>
<line x1="371.5" y1="397.5" x2="377.5" y2="397.5" stroke="#8c8a30" stroke-width="1"/>
<rect x="383.1" y="368.3" width="41.6" height="31.8" fill="#180b36"/>
<g clip-path="url(#cm13)">
<path d="M384.17 370.21h0M407.68 382.59h0M391.22 398.96h0M383.15 375.87h0M423.39 394.02h0M417.81 398.79h0M417.05 383.83h0" stroke="#2e1664" stroke-width="2.4" stroke-linecap="round" stroke-opacity="0.2"/>
<path d="M395.76 394.36h0M396.82 397.98h0M419.2 386.34h0M389.15 392.52h0M390.61 397.35h0M388.65 376.22h0M416.58 385.13h0M405.54 383.77h0M394.38 391.76h0M390.41 399.01h0" stroke="#2e1664" stroke-width="4.8" stroke-linecap="round" stroke-opacity="0.2"/>
<path d="M404.17 373.32h0M402.26 394.12h0M402.99 394.64h0M397.48 372.31h0M392.33 369.04h0M385.45 385.1h0M390.17 382.75h0M396.78 386.81h0M407.96 371.87h0" stroke="#2e1664" stroke-width="3.6" stroke-linecap="round" stroke-opacity="0.4"/>
<path d="M389.56 389.26h0M388.67 373.54h0M389.42 378.74h0M416.22 396.32h0M421.55 369.41h0M406.68 369.17h0M420.9 378.77h0" stroke="#2e1664" stroke-width="3.6" stroke-linecap="round" stroke-opacity="0.2"/>
<path d="M388.38 380.55h0M414.94 385.34h0M405.49 371.51h0M396.46 384.62h0M419.82 379.53h0M399.89 395.69h0M416.8 385.12h0M422.77 382.36h0M418.79 392.44h0M411.4 377.97h0M411.58 382.63h0M412.71 399.15h0M399.75 375.7h0M410.04 382.44h0M421.86 386.75h0M415.87 380.69h0M414.73 386.55h0M384.77 383.12h0" stroke="#2e1664" stroke-width="4.8" stroke-linecap="round" stroke-opacity="0.4"/>
<path d="M406.07 381.14h0M398.56 379.22h0M416.42 378h0M413.19 392.28h0M405.2 392.8h0M406.06 385.8h0M421.19 383.21h0M417.46 370.69h0M390.84 395.65h0" stroke="#2e1664" stroke-width="2.4" stroke-linecap="round" stroke-opacity="0.4"/>
<path d="M402.31 399.56h0M387.42 380.17h0M393.64 369.11h0M410.24 371.32h0M405.25 377.04h0M410.96 395.1h0M412.77 372.49h0M396.59 378.34h0M418.81 384.31h0M423.62 394.87h0M411.65 387.62h0M392.51 378.62h0M392.56 377.89h0M409.24 388.02h0M391.24 386.55h0M414.5 371.64h0M405.13 379.11h0" stroke="#7a5ac8" stroke-width="0.8" stroke-linecap="round" stroke-opacity="0.8"/>
<path d="M386.13 385.97h0M417.25 368.88h0M385.49 393.68h0M402.69 373.31h0M387.32 388.24h0M386.15 375.95h0M411.23 381.41h0M419.08 384.08h0M419.15 374.77h0M400.31 398.83h0M383.79 388.49h0M417.66 389.7h0M397.49 389.46h0M383.39 374.74h0M406.95 381.28h0M408.86 375.53h0M389.28 395.8h0M396.58 368.91h0M383.22 375.72h0M421.91 399.39h0M391.7 374.18h0M392.1 386.38h0" stroke="#7a5ac8" stroke-width="0.8" stroke-linecap="round" stroke-opacity="0.6"/>
<path d="M383.78 369.87h0M397.59 372.87h0M418.38 382.59h0M417.17 371h0M407.56 399.48h0M392.65 375.62h0M409.33 391.78h0M386.06 372.05h0M421.78 389.59h0M404.79 374.28h0M421.87 374.72h0M408.46 394.02h0M421.41 385.22h0M383.85 392.81h0M406.73 373.56h0M422.05 375.69h0M411.96 369.32h0M405.66 379.93h0M424.22 368.47h0M390.25 379.31h0M409.73 388.56h0M421.76 368.87h0M412.92 388.59h0" stroke="#6040b0" stroke-width="0.8" stroke-linecap="round" stroke-opacity="0.8"/>
<path d="M418.32 377.71h0M411.36 391.06h0M418.3 378.48h0M408.06 396.84h0M414.06 395.19h0M383.28 381.58h0M417.93 371.2h0M419.61 385.2h0M396.05 372.22h0M394.09 384.5h0M405.65 391.52h0M410.47 372.47h0M411.62 395.53h0M417.21 396.65h0M406.99 389.71h0M400.77 385.16h0M419.98 389.17h0M424.59 390.34h0" stroke="#6040b0" stroke-width="0.8" stroke-linecap="round" stroke-opacity="0.6"/>
</g>
<line x1="415.2" y1="397.5" x2="421.2" y2="397.5" stroke="#8c8a30" stroke-width="1"/>
<rect x="427.2" y="368.3" width="41.5" height="31.8" fill="#0c2650"/>
<g clip-path="url(#cm14)">
<path d="M446.68 391.7h0M451.44 384.82h0M451.8 394.89h0M455.84 391.21h0M429.27 373.52h0M447.84 387.45h0M457.19 391.4h0M462.4 377.34h0M465.15 398.63h0M440.02 394.81h0M432.95 384.4h0M442.92 374.07h0M429.18 371.04h0M467.24 384.86h0M456.14 394.37h0M467.4 395.79h0M452.06 372.06h0M427.63 368.61h0M461.59 374.07h0M449.88 379.65h0M431.05 371.94h0M437.15 378.78h0M464.64 398.13h0M445.52 390.02h0M451.49 371.58h0" stroke="#1a4080" stroke-width="2.4" stroke-linecap="round" stroke-opacity="0.4"/>
<path d="M459.83 381.43h0M439.72 399.11h0M438.15 389.58h0M466.23 382.52h0M463.79 382.27h0M447.95 385.16h0M467.46 377.25h0M442.71 388.75h0M465.3 380.03h0M446.67 395.83h0M446.77 396.65h0M438.25 368.49h0M468.07 370.49h0M434.13 378.29h0M461.9 371.28h0M440.24 387.35h0M428.41 395.87h0M462.74 389.89h0" stroke="#1a4080" stroke-width="3.6" stroke-linecap="round" stroke-opacity="0.4"/>
<path d="M428.27 383.25h0M443.78 380.55h0M468.69 386.25h0M465.05 388.79h0M427.59 374.96h0M466.81 381.12h0M448.3 383.37h0M432.58 387.71h0M460.1 396.82h0M457.93 377.48h0M442.49 382.12h0M456.79 368.94h0M442.35 393.32h0M437.85 369.3h0" stroke="#1a4080" stroke-width="4.8" stroke-linecap="round" stroke-opacity="0.4"/>
<path d="M439.6 383.86h0M447.41 399.49h0M459.7 390.96h0M436.47 396.2h0M451.01 374.96h0M444.69 384.42h0M431.39 373.98h0M468.17 388.61h0M430.15 388.38h0" stroke="#1a4080" stroke-width="2.4" stroke-linecap="round" stroke-opacity="0.2"/>
<path d="M432.74 368.89h0M440.51 381.41h0M451.88 369.9h0M445.87 376.46h0M436.97 387.22h0" stroke="#1a4080" stroke-width="4.8" stroke-linecap="round" stroke-opacity="0.2"/>
<path d="M433.39 399.02h0M464.3 375.38h0M458.99 371.5h0M437.9 373.09h0M431.14 392.17h0M430.77 381.03h0M460.06 392.54h0M464.98 370.52h0M451.35 378.52h0" stroke="#1a4080" stroke-width="3.6" stroke-linecap="round" stroke-opacity="0.2"/>
<path d="M450.97 397.69h0M430.82 369.27h0M456.7 396.8h0M428.14 388.15h0M465.86 369.97h0M447.63 374.29h0M467.59 374.5h0M461.41 393.94h0M462.68 385.25h0M461.19 385.88h0M433.06 372.95h0M441.7 387.79h0M463.56 377.65h0M450.32 381.67h0M467.31 371.88h0M447.36 388.08h0M460.22 389.12h0M458.81 397.74h0M436.08 379.38h0M449.96 378.14h0M458.92 384.55h0M442.29 396.29h0M458.46 399.17h0M448.73 384.04h0M461.93 376.2h0M455.78 384.52h0M449.19 389.45h0" stroke="#4a80d0" stroke-width="0.8" stroke-linecap="round" stroke-opacity="0.6"/>
<path d="M427.94 379.49h0M463.13 390.71h0M463.29 393.01h0M448.52 384.79h0M428.99 381.27h0M438.85 398.61h0M462.13 393.73h0M458.17 392.33h0M468.32 368.96h0M443.4 383.61h0M451.54 385.95h0M454.88 373.65h0M435.54 369.41h0M432.59 382.41h0M462.21 373.74h0M441.06 369.07h0M438.07 375.45h0M456.24 383.82h0M450.27 382.48h0M466.72 384.06h0M430.42 376.41h0M446.91 368.76h0" stroke="#3a70c0" stroke-width="0.8" stroke-linecap="round" stroke-opacity="0.8"/>
<path d="M447.44 368.37h0M438.35 398.84h0M462.32 392.98h0M454.51 370.42h0M456.06 372.4h0M461.15 394.85h0M450.12 369.01h0M436.46 368.66h0M463.54 390.1h0M448.55 371.62h0M466.67 388.85h0M442.54 393.34h0M461.48 393.44h0M467.76 385.79h0M446.42 390.96h0M442.32 397.79h0M462.42 383.42h0M442.08 384.65h0M465.95 395.04h0M439.46 390.02h0M467.41 398.51h0M457.65 371.82h0M431.09 383.7h0M460.7 383.56h0M447.86 368.73h0M448.67 369.64h0M430.04 393.96h0M427.49 372.24h0M439.83 390.92h0M455.03 381.03h0M465.26 377.71h0M460.32 395.91h0" stroke="#2a5aa8" stroke-width="0.8" stroke-linecap="round" stroke-opacity="0.6"/>
<path d="M428.01 385.71h0M452.95 369.68h0M451.1 374.08h0M454.68 390.87h0M448.32 370.59h0M463.2 370.5h0M465.5 374.45h0M443.78 370.29h0M437.07 380.21h0M428.22 372.42h0M452.91 382.17h0M447.67 374.74h0M427.75 398.77h0M448.54 391.41h0M465.8 371.22h0M454.76 374.28h0M459.46 385.1h0M460.83 370.29h0M449.07 373.7h0M461.53 371.08h0M437.1 390.43h0M464.63 393.85h0M430.83 391.35h0M430.75 376.07h0M438.25 392.14h0M467.7 376.56h0" stroke="#2a5aa8" stroke-width="0.8" stroke-linecap="round" stroke-opacity="0.8"/>
<path d="M452.18 369.71h0M461.81 391.53h0M439.95 385.45h0M463.52 388.54h0M444.98 393.77h0M445.85 369.98h0M447.84 376.53h0M432.27 383.04h0M439.26 399.91h0M457.44 386.7h0M454.28 381.94h0M430.28 394.81h0M442.82 384.6h0M453.51 369.32h0M456.64 396.16h0M454.89 385.48h0M450.65 368.84h0M436.08 398.4h0M430.32 386.77h0M430.86 396.35h0M431.79 389.32h0M438.27 370.92h0M456.72 394.84h0M460.6 382.25h0M440.29 385.54h0" stroke="#3a70c0" stroke-width="0.8" stroke-linecap="round" stroke-opacity="0.6"/>
<path d="M459.39 374.42h0M431.57 393.3h0M447.62 370.88h0M438.94 393.89h0M454.33 377.68h0M427.56 393.06h0M449.47 372.13h0M440.91 375.41h0M444.99 387.63h0M430.52 383.78h0M467.76 375.96h0M455.84 371.85h0M449.58 396.29h0M456.51 379.8h0M457.18 388.47h0M458.29 370.62h0M437.56 398.75h0M467.54 396.63h0" stroke="#4a80d0" stroke-width="0.8" stroke-linecap="round" stroke-opacity="0.8"/>
</g>
<line x1="459.2" y1="397.5" x2="465.2" y2="397.5" stroke="#8c8a30" stroke-width="1"/>
<rect x="470.9" y="368.3" width="41.7" height="31.8" fill="#0b0b36"/>
<g clip-path="url(#cm15)">
<path d="M509.51 387.03h0M495.82 383.96h0M495.29 381.79h0M499.72 388.07h0M481.95 375.2h0" stroke="#1a1a5c" stroke-width="2.4" stroke-linecap="round" stroke-opacity="0.4"/>
<path d="M495.84 393.29h0M503.01 371.67h0M493.33 387.01h0M483.22 383.71h0M499.26 372.1h0M483.98 379.56h0M490.24 376.09h0M503.02 377.6h0M507.49 393.86h0M476.92 393.94h0" stroke="#1a1a5c" stroke-width="3.6" stroke-linecap="round" stroke-opacity="0.4"/>
<path d="M496.25 380.92h0M496.4 371.81h0M490.57 372.15h0M493.22 384.22h0M508.19 397.45h0" stroke="#1a1a5c" stroke-width="3.6" stroke-linecap="round" stroke-opacity="0.2"/>
<path d="M482.69 396.89h0M500.05 396.01h0M476.18 394.08h0M507.85 393.08h0M471.11 384.86h0" stroke="#1a1a5c" stroke-width="4.8" stroke-linecap="round" stroke-opacity="0.2"/>
<path d="M493.39 369.19h0M512.29 377.96h0M505.94 386.25h0M492.11 397.66h0M489.97 368.52h0M508.4 372.75h0" stroke="#1a1a5c" stroke-width="2.4" stroke-linecap="round" stroke-opacity="0.2"/>
<path d="M500.27 368.82h0M479.95 399.7h0M511.16 380.59h0M495.52 383.95h0M479.62 384.46h0M495.06 382.93h0M485.51 383.05h0M484.1 397.38h0M491.46 390.97h0" stroke="#1a1a5c" stroke-width="4.8" stroke-linecap="round" stroke-opacity="0.4"/>
<path d="M480.3 378.42h0M474.55 373.16h0M512.29 398.94h0M500.29 384.13h0M495.05 391h0M495.48 385.84h0M488.14 379.1h0M493.63 393.74h0M487.83 384.07h0M496.28 387.86h0M489.59 390.43h0M510.33 395.37h0M501.89 382.66h0M506.09 372.76h0M489.59 372.78h0M511.03 396.46h0M486.81 389.98h0M505 377.55h0M480.49 388.97h0M473.85 390.54h0M511.87 383.22h0M485.18 378.16h0M491.48 388.76h0M493.78 397.15h0M506.09 383.57h0M485.65 389.6h0M491.67 371.64h0M482.33 373.26h0M511.35 398.51h0M474.13 385.93h0M499.13 398.83h0M476.43 369.91h0" stroke="#a8a8f0" stroke-width="0.8" stroke-linecap="round" stroke-opacity="0.6"/>
<path d="M505.86 392.28h0M503.02 387.35h0M505.95 398.22h0M509.36 379.29h0M496.63 383.28h0M472.1 376.14h0M498.97 389.7h0M490.18 399.3h0M473.22 371.09h0M483.03 398.46h0" stroke="#8080e0" stroke-width="1.2" stroke-linecap="round" stroke-opacity="0.6"/>
<path d="M487.79 368.35h0M482.86 396.56h0M499.86 368.6h0M498.05 397.74h0M497.41 392.31h0M478.69 399.83h0M472.17 371.81h0M481.6 382.19h0M474.37 384.93h0M496.89 375.75h0M471.36 379.49h0M489.4 381.64h0M509.4 397.98h0M479.88 368.55h0M486.65 385.11h0M484.83 375.65h0M509.3 393.47h0M480.4 372.63h0M472.64 395.75h0M494.57 390.2h0M471.14 390.41h0M482.74 384.77h0M485.95 391.91h0M474.07 397.53h0M485.09 384.4h0M480.47 370.98h0M489.58 397.24h0" stroke="#c8c8ff" stroke-width="0.8" stroke-linecap="round" stroke-opacity="0.6"/>
<path d="M474.28 395.83h0M509.23 398.62h0M491.19 375.86h0M508.09 386.21h0M507.29 378.52h0M491.95 385.58h0M504.55 371.97h0M506.26 381.51h0" stroke="#c8c8ff" stroke-width="1.2" stroke-linecap="round" stroke-opacity="0.6"/>
<path d="M495.58 370.77h0M502.14 374.02h0M501.09 375.05h0M501.06 384.42h0M504.37 390.66h0M494.75 372.52h0M496.97 385.29h0M470.91 381.61h0M511.91 379.39h0M508.19 374.83h0M485.8 398.74h0M491.41 384.18h0M495.88 378.76h0M492.74 393.19h0M501.36 381.41h0M471.77 377.24h0M484.53 387.34h0M499.56 382.68h0M488.96 381.08h0M501.14 388.95h0M473.89 398.99h0" stroke="#a8a8f0" stroke-width="0.8" stroke-linecap="round" stroke-opacity="0.8"/>
<path d="M486.8 393.92h0M479.89 389.88h0M494.66 392.24h0M487.33 394.57h0M498.78 398.48h0M503.78 382.06h0M507.26 397.87h0M478.77 394.19h0M472.08 372.63h0" stroke="#a8a8f0" stroke-width="1.2" stroke-linecap="round" stroke-opacity="0.6"/>
<path d="M472.52 383.13h0M487.61 398.96h0M476.96 375.28h0M492 392.26h0M478.77 388.99h0M508.29 390.92h0M486.21 373.91h0M504.51 369.91h0M476.49 391.26h0M480.83 370.22h0M504.97 382.19h0M477.96 399.1h0M491.08 394.97h0M495.4 391.26h0M477.47 380.87h0M499.16 368.91h0M501.62 393.57h0M474.81 390.59h0M504.76 399.1h0M487.76 369.7h0M478.62 368.42h0M509.94 399.18h0M503.15 371.97h0M497.33 395.12h0M484.59 396.69h0M479.29 382.94h0M475.74 378.82h0M495.73 377.33h0M482.67 371.68h0M504.36 380.97h0" stroke="#8080e0" stroke-width="0.8" stroke-linecap="round" stroke-opacity="0.6"/>
<path d="M509.58 369.06h0M492.41 391.97h0M494.69 381.17h0M511.67 374.07h0M493.4 379.68h0M508.41 379.82h0M479.14 393.4h0M500.7 395.44h0M489.69 379.13h0M484.91 370.26h0M491.08 392.44h0M479.8 378.83h0M500.76 387.12h0M504.35 399.17h0M484.86 392.99h0M498.59 383.8h0M505.59 379.84h0M476.52 394.03h0M472.46 371.69h0M479.05 395.17h0M501.93 376.66h0M499.49 383.24h0M476.76 397.85h0M495.76 388.32h0" stroke="#8080e0" stroke-width="0.8" stroke-linecap="round" stroke-opacity="0.8"/>
<path d="M484.88 380.83h0M481.82 391.69h0M490.05 370.29h0M507.55 390.3h0M496.66 373.94h0M494.82 379.5h0" stroke="#a8a8f0" stroke-width="1.2" stroke-linecap="round" stroke-opacity="0.8"/>
<path d="M474.36 394.31h0M500.58 374.65h0M511.02 378.13h0M480.42 375.22h0M510.9 386.73h0M490.1 370.29h0M502.55 386.06h0M472.28 395.66h0M476.78 377.1h0M482.7 377.63h0M489.45 377.33h0M488.91 379.86h0M489.96 377.52h0M483.98 386.42h0M485.55 382.08h0M503.06 380.42h0M508.25 384.99h0M477.31 374.81h0M503.87 386.09h0M476.09 385.16h0M472.9 369.96h0M495.32 370.73h0M501.77 391.83h0" stroke="#c8c8ff" stroke-width="0.8" stroke-linecap="round" stroke-opacity="0.8"/>
<path d="M511.57 371.47h0M510.97 389.69h0M471.3 388.13h0M498.25 384.09h0M478.77 388.48h0M505.17 368.45h0" stroke="#8080e0" stroke-width="1.2" stroke-linecap="round" stroke-opacity="0.8"/>
<path d="M499.25 371.99h0M484.51 374.52h0M506.54 396.2h0M509.01 397.7h0" stroke="#c8c8ff" stroke-width="1.2" stroke-linecap="round" stroke-opacity="0.8"/>
</g>
<line x1="503.1" y1="397.5" x2="509.1" y2="397.5" stroke="#8c8a30" stroke-width="1"/>
<rect x="338.75" y="420.5" width="42.5" height="32.5" fill="#082a40"/>
<g clip-path="url(#cm16)">
<g filter="url(#hb)" fill="#020508">
<ellipse cx="343" cy="424.4" rx="6.69" ry="5.8"/>
<ellipse cx="354.05" cy="440" rx="5.35" ry="3.75"/>
<ellipse cx="358.3" cy="438.05" rx="4.46" ry="3.41"/>
<ellipse cx="367.65" cy="435.12" rx="5.35" ry="5.8"/>
<ellipse cx="371.05" cy="440" rx="4.46" ry="4.44"/>
<ellipse cx="365.52" cy="425.05" rx="5.35" ry="3.41"/>
<ellipse cx="360" cy="452.02" rx="22.31" ry="2.39"/>
<ellipse cx="377" cy="448.12" rx="4.46" ry="3.41"/>
</g>
<path d="M352.54 421.26h0M350.61 436.29h0M378.7 430.38h0M379.47 442.16h0M347.2 440.88h0M359.01 447.67h0M342.01 430.83h0M360.25 448.05h0M346.17 431.84h0M356.86 434.18h0M358.49 448.59h0M379.38 439.43h0" stroke="#124060" stroke-width="4.8" stroke-linecap="round" stroke-opacity="0.4"/>
<path d="M365.33 447.2h0M378.96 442.16h0M349.11 431.36h0M357.03 420.59h0M357.94 422.2h0M371.01 429.46h0M360.33 430.37h0M361.23 447.81h0M362.3 432.16h0" stroke="#124060" stroke-width="2.4" stroke-linecap="round" stroke-opacity="0.4"/>
<path d="M345.91 441.34h0M358.86 447.29h0M352.93 421.77h0M374.54 435.29h0M341.86 434.08h0M376.2 444.4h0" stroke="#124060" stroke-width="3.6" stroke-linecap="round" stroke-opacity="0.4"/>
<path d="M361.94 421.92h0M356.13 424.7h0M362.7 444.74h0M381.07 426.23h0M375.66 435.89h0" stroke="#124060" stroke-width="2.4" stroke-linecap="round" stroke-opacity="0.2"/>
<path d="M355.22 447.24h0M380.64 450.59h0M362.76 445.25h0M343.3 441.02h0M355.4 445.02h0M376.95 427.54h0" stroke="#124060" stroke-width="4.8" stroke-linecap="round" stroke-opacity="0.2"/>
<path d="M371.04 426.9h0M339.83 442.96h0" stroke="#124060" stroke-width="3.6" stroke-linecap="round" stroke-opacity="0.2"/>
<path d="M345.05 431.7h0M346.69 429.25h0M353.96 447.04h0M342.21 443.77h0M345.36 436.51h0M378.07 452.8h0M361.48 444.28h0M356.54 428.51h0M341.17 440.06h0M353.03 420.63h0M359.84 430.58h0M348.05 439.89h0M379.02 429.58h0M378.22 425.74h0M344.34 437.25h0M349.63 433.94h0M359.49 445.77h0" stroke="#c0ecff" stroke-width="1.2" stroke-linecap="round" stroke-opacity="0.8"/>
<path d="M379.76 451.89h0M348.72 440.65h0M364.99 430.14h0M344.32 436.93h0M348.46 447.34h0M355.82 422.62h0M362.41 444.12h0M346.54 436.96h0M346.87 428.43h0M368.93 428.91h0M350.06 425.8h0M374.07 434.21h0M372.36 431.64h0M362.08 429.1h0M364.67 444.41h0M361.11 442.96h0M348.08 437.09h0M357.73 420.91h0M375.44 429.57h0M380.8 434.72h0M380.15 435.3h0M364.52 438.84h0M374.54 426.41h0M377.6 437.81h0M377.22 441.73h0M350.31 435.25h0" stroke="#c0ecff" stroke-width="0.8" stroke-linecap="round" stroke-opacity="0.6"/>
<path d="M354.83 445.63h0M348.64 447.55h0M373.6 444.29h0M344.95 440.3h0M343.17 434.04h0M363.38 439.62h0M371.6 427.4h0M355.16 448.13h0M345.52 431.37h0M342.37 444.62h0M378.32 430.38h0M371.51 437.68h0M369.43 427.87h0M351.8 447.07h0M378.57 426.99h0M374.71 421.09h0" stroke="#3a90c0" stroke-width="0.8" stroke-linecap="round" stroke-opacity="0.8"/>
<path d="M354.97 433.69h0M357.34 443.64h0M360.51 435.29h0M357.22 425.71h0M341.68 448.24h0M379.23 452.1h0M350.84 421.82h0M380.64 443.09h0M361.04 443.32h0M379.25 450.78h0M344.63 430.03h0M360.65 431.31h0M370.51 430.99h0M376.27 431.42h0M354.18 434.73h0M369.22 448.03h0M346.41 449.7h0M357.93 441.88h0" stroke="#c0ecff" stroke-width="0.8" stroke-linecap="round" stroke-opacity="0.8"/>
<path d="M375.99 423.33h0M346.52 448.94h0M357.5 447.47h0M378.7 420.83h0M353.85 434.96h0M362.15 441.81h0M361.82 446.65h0M361.85 433.95h0M374.69 445.32h0M355.46 430.16h0M375.01 426.55h0M376.5 444.75h0M363.24 439.84h0M355.76 422.07h0M356.62 433.69h0M355.7 428.44h0M373.7 430.85h0" stroke="#60b8e0" stroke-width="0.8" stroke-linecap="round" stroke-opacity="0.6"/>
<path d="M373.5 427.91h0M343.11 447.4h0M352.42 435.88h0M352.63 445.63h0M339.84 434.81h0M352.47 423.98h0M341.3 441.14h0M343.79 433.96h0M360.18 434.53h0M352.66 430.81h0M350.52 436.91h0M350.41 445.58h0M361.96 429.48h0M373.92 442.98h0M358.25 433.44h0M355.01 423.06h0M363.25 439.2h0M371.1 445.47h0M376.32 443.19h0M377.96 441.79h0M340.41 430.59h0M364.25 448.02h0M369.8 428.69h0M349.16 445.51h0M367.73 428.68h0M355.21 422.13h0" stroke="#90d8f8" stroke-width="1.2" stroke-linecap="round" stroke-opacity="0.6"/>
<path d="M339.24 429.84h0M341.9 452.81h0M356.48 448.32h0M355.1 443.77h0M363.88 440.29h0M358.52 430.5h0M346.55 436.24h0M348.6 432.61h0M349.78 431.97h0M380.08 424.57h0M346.07 444.8h0M369.52 443.85h0M348.24 437.56h0M349.33 424.47h0M341.28 439.23h0" stroke="#3a90c0" stroke-width="0.8" stroke-linecap="round" stroke-opacity="0.6"/>
<path d="M340.77 448.09h0M345.58 431.65h0M373.84 444.39h0M350.27 432.91h0M372.91 421.19h0M339.31 447.65h0M378.18 443.79h0M357.75 443.5h0M339.96 443.25h0M355.58 435.49h0M343.66 448.87h0M353.69 433.38h0M350.55 422.57h0M378.05 443.45h0M348.48 433.59h0M376.79 437.08h0M365.52 439.74h0M366.03 421.52h0M351.71 424.7h0M342.33 436.8h0M379.08 451.53h0M341.31 444.67h0M351.49 436.22h0M376.83 438.65h0M376.36 420.58h0" stroke="#c0ecff" stroke-width="1.2" stroke-linecap="round" stroke-opacity="0.6"/>
<path d="M373.28 427.06h0M356.99 434.97h0M340.69 449.4h0M348.88 434.53h0M380.35 443.83h0M365.36 430.53h0M380.04 430.97h0M375.26 433.76h0M343.08 431.02h0M349.01 436.83h0M342.34 427.5h0M360.32 430.95h0M372.36 424.53h0M349.03 431.67h0M375.4 439h0M350 443.61h0M347.58 444.73h0M354.24 446.3h0M338.96 431.95h0M343.47 433.23h0M352.59 428.74h0" stroke="#3a90c0" stroke-width="1.2" stroke-linecap="round" stroke-opacity="0.6"/>
<path d="M356.34 422.63h0M357.41 421.79h0M358.62 421.47h0M371.1 422.7h0M340.12 447.81h0M348.56 422.21h0M356.48 425.03h0M375.86 425.51h0M375.82 434.15h0M349.61 430.27h0M350.91 423.98h0M359.25 439.65h0M354.08 435.62h0M378.26 422.26h0M375.38 421.29h0M339.16 437.74h0M377.58 420.66h0M340.1 452.4h0M372.66 435.26h0M374.46 424.93h0" stroke="#90d8f8" stroke-width="0.8" stroke-linecap="round" stroke-opacity="0.8"/>
<path d="M359.53 434.93h0M377.13 423.79h0M373.34 446.38h0M361.04 443.99h0M380.42 430.46h0M347.97 440.88h0M363.42 430.42h0M339.4 441.24h0M346.19 447.87h0M346.92 431.09h0M349.63 426.79h0M347.04 436.36h0M355.06 429.55h0M360.65 432.02h0M360.14 428.93h0M343.41 446.83h0M353.33 450.01h0M372.47 445.05h0M376.93 442.9h0M348.82 441.39h0M357.03 426.13h0M370.61 426.29h0M347.43 420.75h0" stroke="#60b8e0" stroke-width="1.2" stroke-linecap="round" stroke-opacity="0.6"/>
<path d="M355.95 430.57h0M344.7 447.53h0M355.72 427.7h0M361.3 427.87h0M372.92 433.93h0M348.27 434.21h0M379.88 420.85h0M357.43 430.3h0" stroke="#60b8e0" stroke-width="0.8" stroke-linecap="round" stroke-opacity="0.8"/>
<path d="M354.29 448.67h0M366.65 448.89h0M377.41 429.97h0M379.49 451.78h0M360.89 442.46h0M361.66 442.36h0M376.74 443.41h0M348.6 450h0M348.72 438.85h0M370.22 421.78h0M369.83 421.95h0M349.07 420.96h0" stroke="#3a90c0" stroke-width="1.2" stroke-linecap="round" stroke-opacity="0.8"/>
<path d="M354.8 427.03h0M361.15 430.91h0M359.16 443.4h0M362.89 438.66h0M370.99 429.19h0M380.42 438.82h0M340.18 452.55h0M340.36 436.83h0M345.7 434.38h0M378.78 435.2h0M370.25 426.52h0M375.39 424.95h0M378.48 421.11h0M367.47 446.89h0M342.9 431.83h0M368.54 428.75h0M362.85 437.12h0M343.81 445.1h0M376.29 438.29h0M380.42 430.92h0" stroke="#60b8e0" stroke-width="1.2" stroke-linecap="round" stroke-opacity="0.8"/>
<path d="M348.98 434.8h0M375.41 423.88h0M358.61 424.59h0M379.3 433.56h0M362.3 430.39h0M360.55 430.88h0M360.2 433.34h0M376.33 435.56h0M360.74 420.67h0M339.11 441.36h0M351.7 435.94h0M379.06 426.75h0M343.67 435.14h0M350.44 420.9h0M356.69 444h0" stroke="#90d8f8" stroke-width="1.2" stroke-linecap="round" stroke-opacity="0.8"/>
<path d="M366.6 447.39h0M350.95 434.61h0M343.43 434.53h0M360.75 445.21h0M377.94 442.23h0M372.24 445.42h0M355.31 421.27h0M370.62 431.21h0M350.93 426.31h0M347.71 444.68h0M342.56 437.43h0M338.76 450.49h0M374.92 443.82h0M354.68 427.47h0M372.22 449.33h0M348.85 433.04h0M359.79 432.32h0M377.43 421.8h0M373.86 434.31h0M364.21 429.33h0M357.26 433.94h0" stroke="#90d8f8" stroke-width="0.8" stroke-linecap="round" stroke-opacity="0.6"/>
</g>
<line x1="371.75" y1="450.5" x2="377.75" y2="450.5" stroke="#8c8a30" stroke-width="1"/>
<rect x="426.5" y="420.3" width="42.7" height="32.3" fill="#0e3854"/>
<g clip-path="url(#cm17)">
<path d="M460.43 426.89h0M435.57 428.61h0M438.04 425.47h0M438.12 423.17h0M438.12 452.46h0M445.29 426.3h0M441.77 432.37h0M457.19 432.64h0M465.1 442.62h0M442.58 426.92h0M457.65 442.28h0M450.4 450.59h0M468.71 420.55h0" stroke="#1a5a80" stroke-width="3.6" stroke-linecap="round" stroke-opacity="0.4"/>
<path d="M441.92 445.47h0M449.15 452.51h0M432.61 427.03h0M468.94 425.65h0M456.69 427.54h0M464.21 451.23h0M467.93 429.14h0M457.53 427.35h0M449.65 428.71h0M442.64 433.32h0M442.66 450.81h0M436.86 424.1h0M439.69 450.24h0M441.55 446.89h0" stroke="#1a5a80" stroke-width="2.4" stroke-linecap="round" stroke-opacity="0.4"/>
<path d="M435.55 451.44h0M435.01 444.78h0M460.54 437.84h0M447.04 444.61h0M464.36 427.95h0M427.42 450.12h0M441.97 427.8h0M448.05 440.42h0M468.63 432.17h0M434.58 432.78h0M455.02 442.08h0M466.43 439.39h0M438.79 442.34h0M458.3 438.59h0M455.83 450.25h0" stroke="#1a5a80" stroke-width="4.8" stroke-linecap="round" stroke-opacity="0.4"/>
<path d="M428.03 434.57h0M446.95 434.21h0M448.89 431.5h0M456.8 428.69h0M452.06 428.4h0M462.55 428.31h0M437.59 449.75h0M433.07 428.67h0M428.55 421.39h0" stroke="#1a5a80" stroke-width="2.4" stroke-linecap="round" stroke-opacity="0.2"/>
<path d="M441.36 430.7h0M448.8 433.64h0M451.45 429.1h0M445.46 449.03h0M451.73 425h0M441.08 450.85h0" stroke="#1a5a80" stroke-width="3.6" stroke-linecap="round" stroke-opacity="0.2"/>
<path d="M466.38 440.1h0M466.55 421.48h0M427.14 441.42h0" stroke="#1a5a80" stroke-width="4.8" stroke-linecap="round" stroke-opacity="0.2"/>
<path d="M426.93 422.34h0M439.45 422.05h0M457.53 432.05h0M443.36 445.4h0M435.95 449.23h0M448.93 424.52h0M445.5 446.78h0M465.13 426.82h0M468.48 441.44h0M433.08 450.04h0M426.89 436.26h0M469.13 437.39h0M466.35 438.87h0M461.28 442h0M459.35 434.06h0M450.09 435.97h0M436.98 429.87h0M469.05 444.98h0M452.44 421.62h0M429.53 432.22h0M454.58 439.49h0M454.25 422.1h0M457.93 426.48h0M465.78 440.13h0M468.48 444.4h0M444.7 427h0M449.11 447.38h0M439.17 433.33h0M450.26 427.72h0M438.37 437.87h0" stroke="#4aa0d0" stroke-width="0.8" stroke-linecap="round" stroke-opacity="0.8"/>
<path d="M465.61 449.25h0M431.67 431.99h0M436.86 452.53h0M430.42 439.21h0M451.25 435.33h0M446.4 434.76h0M445.57 430.93h0M466.74 442.98h0M442.3 443.81h0M426.95 437.9h0M461.42 446.23h0M466.79 451.53h0M447.58 425.71h0M429.16 425.56h0M433.39 430.15h0M456.61 433.26h0M454.11 424.05h0M437.4 439.09h0M447.15 448.92h0M444.89 423.2h0M464.95 440.8h0M460.41 437.22h0M444.59 445.64h0M469.19 451.38h0M443 443.9h0M452.16 427.08h0M453.86 445.41h0M443.03 444.29h0M446.24 431.69h0M457.55 429.03h0M466.4 447.93h0M461.91 435.18h0M465.97 446.79h0M435.02 452.01h0M427.28 430.76h0M441.25 434.43h0" stroke="#c8f0ff" stroke-width="0.8" stroke-linecap="round" stroke-opacity="0.6"/>
<path d="M438.72 423.21h0M441.5 444.05h0M446.97 420.39h0M468.94 437.23h0M459.29 440.58h0M437.96 435.24h0M461.19 445.42h0M435.46 435.94h0M430.66 445.15h0M427.35 444.92h0M460.76 437.32h0M436.66 441.85h0M434.31 439.53h0M436.3 421.75h0M435.38 436.26h0M428.02 446.73h0" stroke="#70c8ec" stroke-width="1.2" stroke-linecap="round" stroke-opacity="0.8"/>
<path d="M466.28 423.46h0M440.89 425.68h0M464.54 429.61h0M460.53 425.7h0M437.05 439.35h0M464.87 430.5h0M457.15 433.12h0M429.6 434.75h0M439.76 423.77h0M468.32 435.52h0M427.74 430.77h0M448.74 444.52h0M428.68 439.49h0M455.36 436.59h0M444.86 425.71h0M465.72 425.06h0M446.62 427.32h0M459.13 445.09h0M447.36 429.02h0M456.47 448.47h0M434.2 440.55h0M463.14 449.03h0M454.09 440.61h0M428.49 424.38h0M427.05 445.96h0M436.1 442.99h0M448.62 431.4h0M426.94 449.35h0M451.85 428.73h0M466.48 421.35h0M463.96 430.89h0M439.65 450.11h0M455.99 420.71h0M430.25 448.9h0M432.31 445.53h0" stroke="#c8f0ff" stroke-width="0.8" stroke-linecap="round" stroke-opacity="0.8"/>
<path d="M433.96 446.61h0M426.67 431.76h0M468.86 444.12h0M457.67 447.51h0M455.8 423.02h0M442.32 429.79h0M462.43 452.28h0M459.37 430.47h0M465.3 434.02h0M469.18 443.02h0M459.76 429.95h0M433.1 428.23h0M464.95 437.76h0M443.28 451.63h0M456.86 422.73h0M463.71 436.07h0M465.47 428.23h0M455.55 452.13h0M427.21 420.95h0M431.13 441.25h0M431.55 433.83h0M458.08 439.53h0M458.74 431.7h0M447.47 423.6h0M458.69 445.89h0M437.23 441.31h0M431.16 439.12h0M440.09 441.97h0M450.24 448.25h0M437.29 433.91h0M430.43 451.26h0M469.09 431.26h0M464.39 428.54h0M467.24 439.16h0M427.2 446.47h0M463.57 427.08h0M429.13 426.36h0M435.33 423.94h0" stroke="#70c8ec" stroke-width="0.8" stroke-linecap="round" stroke-opacity="0.6"/>
<path d="M449.91 447.71h0M460.65 428.23h0M433.24 440.9h0M466.64 435.89h0M435.2 430.47h0M466.85 451.42h0M432.53 450.31h0M459.7 423.42h0M460.46 439.58h0M457.05 424.5h0M466.48 450.12h0M460.67 426.78h0M442.19 423.77h0" stroke="#4aa0d0" stroke-width="1.2" stroke-linecap="round" stroke-opacity="0.8"/>
<path d="M434.12 422.85h0M434.49 441.57h0M455.65 434.78h0M430.76 440.83h0M432.92 426.9h0M467.64 440.16h0M461.66 420.4h0M432.85 435.76h0M430 437.56h0M467.85 440.6h0M446.34 438.19h0M461.58 447.78h0M454.02 426.46h0M426.79 448.07h0M439.11 447.93h0M427.81 443.08h0M445.15 437.78h0M429.56 449.01h0M445.05 450.04h0M457.42 435.94h0M431.54 422.43h0M466.21 447.96h0" stroke="#a0e0ff" stroke-width="1.2" stroke-linecap="round" stroke-opacity="0.6"/>
<path d="M454.48 447.79h0M462.9 427.13h0M466.01 421.88h0M443.88 420.39h0M462.91 439.68h0M464.4 420.45h0M431.38 448.29h0M456.84 445.15h0M449.62 437.25h0M454.39 431.62h0M446.92 422.12h0M464.24 444.48h0M459.24 441.17h0M435.7 450.19h0M442.9 425.44h0M444.97 435.4h0M441.88 445.31h0M444.82 445.78h0M450.38 439.88h0M428.68 434.94h0M462.11 435.97h0M446.8 423.18h0M427.93 444.91h0M426.96 422.38h0M465.36 450.72h0M437.58 435.65h0M444.39 438.94h0M461.85 422.77h0M448.95 436.93h0M427.48 437.91h0M462.49 449.49h0M443.84 435.54h0M463.64 421.61h0M427.01 433.28h0M453.88 438.5h0M447.32 446.78h0M435.43 429.55h0M457 428.77h0M448.14 449.36h0M429.97 427.22h0M462.72 429.24h0" stroke="#a0e0ff" stroke-width="0.8" stroke-linecap="round" stroke-opacity="0.6"/>
<path d="M462.48 430.6h0M439.74 451.06h0M456.42 428.92h0M463 422.67h0M435.79 448.91h0M441.86 423.82h0M428.12 443.06h0M427.13 448.41h0M434.02 421.57h0M437.14 447.79h0M440.55 428.47h0M439.61 428.69h0M429.3 447.87h0M467.4 428.5h0M465.19 445.59h0M434.59 432.08h0M467.29 448.75h0M431.54 442.88h0M464.12 442.9h0M440.08 441.36h0M428.27 430.23h0M438.47 426.8h0M431.63 442.63h0M450.5 437.62h0" stroke="#70c8ec" stroke-width="1.2" stroke-linecap="round" stroke-opacity="0.6"/>
<path d="M444.77 426.83h0M467.78 431.06h0M431.98 424.4h0M446.29 421.81h0M441.04 444.37h0M456.08 423.97h0M432.21 448.79h0M456.06 421.49h0M426.86 438.91h0M426.79 436.52h0M463.65 430.87h0M455.18 449.11h0M449.31 439.57h0M444.19 446.57h0M428.16 434.04h0M457.04 429.04h0M460.03 423.12h0M449.83 437.87h0M459.36 436.86h0M457.33 420.71h0M436.44 432.88h0M444.36 437.99h0M429.97 427.67h0M446.94 421.13h0M432.43 430.25h0M433.31 441.97h0M436.26 423.06h0M443.4 450.22h0M442.29 446.41h0M461.61 448.58h0M445.93 423.08h0M447.07 441.97h0M438.53 434.6h0M434.85 432.57h0M450.99 448.94h0M469.14 430.66h0M466.77 448.29h0M452.71 432.74h0M468.91 433.97h0" stroke="#a0e0ff" stroke-width="0.8" stroke-linecap="round" stroke-opacity="0.8"/>
<path d="M466.86 431.29h0M452.18 449.65h0M462.78 432.6h0M453.36 423.92h0M436.67 452.15h0M449.99 430.68h0M454.54 421.81h0M443.56 436.91h0M451.39 441.25h0M436.84 449.37h0M459.26 438.2h0M468.55 427.81h0M456.91 422.19h0M460.15 439.76h0M449.03 436.46h0M455 428.6h0M439.62 441.54h0M429.71 442.11h0M440.18 421.83h0M442.27 422.46h0M431.7 448.7h0M430.32 433.21h0M443.82 435.49h0" stroke="#a0e0ff" stroke-width="1.2" stroke-linecap="round" stroke-opacity="0.8"/>
<path d="M460.94 425h0M466.3 436.67h0M429.84 449.85h0M431.65 422.36h0M463.61 438.11h0M453.47 427.82h0M467.78 431.18h0M457.92 448.03h0M428.99 450.3h0M432.75 432.37h0M459.24 439.13h0M458.61 431.51h0M466.84 445.11h0M457.35 448.57h0M447.22 421.78h0M426.84 427.56h0M452.76 448.83h0M452.13 439.61h0M434.63 437.34h0M452.84 438.27h0M444.22 421.72h0M454.14 440.19h0M457.16 449.41h0M468.41 434.05h0M427.11 421.96h0M431.67 424.02h0" stroke="#4aa0d0" stroke-width="0.8" stroke-linecap="round" stroke-opacity="0.6"/>
<path d="M437.81 420.47h0M464.54 444.96h0M435.56 438.33h0M438.3 429.95h0M427.13 426.74h0M429.13 434.08h0M443.42 422.35h0M432.74 436.84h0M427.9 439.04h0M428.52 433.45h0M432.02 426.66h0M464.49 439.39h0M452.99 444.68h0M459.49 421.58h0M451.49 421.08h0M439.2 429.12h0M455.75 446.03h0M451.88 420.72h0M454.89 423.95h0M449.67 440.47h0M460.98 441.94h0M466.48 446.91h0M453.99 431.75h0M468.17 428.4h0M463.58 444.03h0M427.83 420.5h0M462.14 435.18h0M448.74 432.87h0M432.73 442.92h0" stroke="#4aa0d0" stroke-width="1.2" stroke-linecap="round" stroke-opacity="0.6"/>
<path d="M443.9 449.81h0M465.96 436.35h0M468.98 436.72h0M437.66 438.46h0M451.6 436.01h0M455.67 421.09h0M429.79 439.57h0M460.55 438.75h0M428.04 444.49h0M433.02 420.79h0M451.42 434.05h0M465.75 426.84h0M449.7 439.6h0M443.58 427.49h0M460.04 434.93h0M431.19 450.34h0M450.82 426.13h0M462.6 435.55h0M451.96 437.7h0M440.13 450.52h0M457.33 451.96h0M428.13 447.97h0" stroke="#70c8ec" stroke-width="0.8" stroke-linecap="round" stroke-opacity="0.8"/>
<path d="M427.11 436.38h0M439.98 448.8h0M442.59 440.34h0M464.79 438.35h0M452.61 426.43h0M453.7 441.72h0M442.14 444.17h0M432.97 427.65h0M463.52 441.22h0M437.05 440.51h0M442.45 426.44h0M452.5 446.1h0M465.67 450.74h0M438.33 440.58h0M466.89 426.16h0" stroke="#c8f0ff" stroke-width="1.2" stroke-linecap="round" stroke-opacity="0.8"/>
<path d="M454.79 427.55h0M430.32 427.54h0M440.79 452.51h0M449.28 421.57h0M434.13 444.58h0M445.67 440.71h0M434.25 425.4h0M446.75 430.04h0M433.41 428.95h0M444.93 451.78h0M452.86 441.1h0M454.84 439.18h0M464.69 423.06h0M442.65 446.73h0M460.46 423.58h0M463.21 439.68h0M427.66 425.02h0M443.3 451.71h0M428.62 437.9h0M434.87 432.69h0M431.66 439.17h0" stroke="#c8f0ff" stroke-width="1.2" stroke-linecap="round" stroke-opacity="0.6"/>
</g>
<line x1="459.7" y1="450.5" x2="465.7" y2="450.5" stroke="#8c8a30" stroke-width="1"/>
<text x="96.3" y="232.3" font-size="9.3" textLength="130.5" lengthAdjust="spacingAndGlyphs"><tspan font-weight="bold">AML Bone Marrow</tspan> ETCTN 10026</text>
<text x="68.45" y="241.9" font-size="6.4" text-anchor="middle" font-style="italic" textLength="21.5" lengthAdjust="spacingAndGlyphs">CTLA-4</text>
<text x="161" y="242" font-size="6.3" text-anchor="middle" textLength="38" lengthAdjust="spacingAndGlyphs"><tspan font-style="italic">PDCD1</tspan> (PD1)</text>
<text x="259.75" y="242" font-size="6.3" text-anchor="middle" textLength="45.5" lengthAdjust="spacingAndGlyphs"><tspan font-style="italic">ENTPD1</tspan> (CD39)</text>
<text transform="translate(22.4,267) rotate(-90)" font-size="7.5" text-anchor="middle" textLength="31.5" lengthAdjust="spacingAndGlyphs">Expression</text>
<text x="118.8" y="360.6" font-size="9.3" textLength="95" lengthAdjust="spacingAndGlyphs"><tspan font-weight="bold">Melanoma</tspan> <tspan font-style="italic">Oliveira et al.</tspan></text>
<text x="72.1" y="371.5" font-size="6.2" text-anchor="middle" font-style="italic" textLength="21.2" lengthAdjust="spacingAndGlyphs">CTLA-4</text>
<text x="166.25" y="371.3" font-size="6.3" text-anchor="middle" textLength="37.5" lengthAdjust="spacingAndGlyphs"><tspan font-style="italic">PDCD1</tspan> (PD1)</text>
<text x="264.1" y="371.3" font-size="6.3" text-anchor="middle" textLength="45.7" lengthAdjust="spacingAndGlyphs"><tspan font-style="italic">ENTPD1</tspan> (CD39)</text>
<text transform="translate(14.6,403.6) rotate(-90)" font-size="7.6" text-anchor="middle" textLength="36" lengthAdjust="spacingAndGlyphs">Expression</text>
<line x1="36.5" y1="247.2" x2="36.5" y2="287.8" stroke="#231f20" stroke-width="1.2"/>
<line x1="36" y1="287.5" x2="100" y2="287.5" stroke="#231f20" stroke-width="1.2"/>
<line x1="33.9" y1="255.5" x2="36.5" y2="255.5" stroke="#231f20" stroke-width="0.9"/>
<text transform="translate(31.9,255.6) rotate(-90)" font-size="6.3" text-anchor="middle">6</text>
<line x1="33.9" y1="265.5" x2="36.5" y2="265.5" stroke="#231f20" stroke-width="0.9"/>
<text transform="translate(31.9,265.3) rotate(-90)" font-size="6.3" text-anchor="middle">4</text>
<line x1="33.9" y1="275.5" x2="36.5" y2="275.5" stroke="#231f20" stroke-width="0.9"/>
<text transform="translate(31.9,275.4) rotate(-90)" font-size="6.3" text-anchor="middle">2</text>
<line x1="33.9" y1="285.5" x2="36.5" y2="285.5" stroke="#231f20" stroke-width="0.9"/>
<text transform="translate(31.9,285.5) rotate(-90)" font-size="6.3" text-anchor="middle">0</text>
<line x1="41.5" y1="287.3" x2="41.5" y2="290" stroke="#231f20" stroke-width="0.9"/>
<text transform="translate(43.7,292.5) rotate(-90)" font-size="6.3" text-anchor="end" textLength="34" lengthAdjust="spacingAndGlyphs">Naive CD8<tspan dy="-2.2" font-size="4.8">+</tspan><tspan dy="2.2"></tspan></text>
<line x1="49.5" y1="287.3" x2="49.5" y2="290" stroke="#231f20" stroke-width="0.9"/>
<text transform="translate(51.33,292.5) rotate(-90)" font-size="6.3" text-anchor="end" textLength="49.5" lengthAdjust="spacingAndGlyphs">Effector CD8<tspan dy="-2.2" font-size="4.8">+</tspan><tspan dy="2.2"></tspan> (1)</text>
<line x1="56.5" y1="287.3" x2="56.5" y2="290" stroke="#231f20" stroke-width="0.9"/>
<text transform="translate(58.96,292.5) rotate(-90)" font-size="6.3" text-anchor="end" textLength="49.5" lengthAdjust="spacingAndGlyphs">Effector CD8<tspan dy="-2.2" font-size="4.8">+</tspan><tspan dy="2.2"></tspan> (2)</text>
<line x1="64.5" y1="287.3" x2="64.5" y2="290" stroke="#231f20" stroke-width="0.9"/>
<text transform="translate(66.59,292.5) rotate(-90)" font-size="6.3" text-anchor="end" textLength="51" lengthAdjust="spacingAndGlyphs">Memory CD8<tspan dy="-2.2" font-size="4.8">+</tspan><tspan dy="2.2"></tspan> (1)</text>
<line x1="72.5" y1="287.3" x2="72.5" y2="290" stroke="#231f20" stroke-width="0.9"/>
<text transform="translate(74.22,292.5) rotate(-90)" font-size="6.3" text-anchor="end" textLength="51" lengthAdjust="spacingAndGlyphs">Memory CD8<tspan dy="-2.2" font-size="4.8">+</tspan><tspan dy="2.2"></tspan> (2)</text>
<line x1="79.5" y1="287.3" x2="79.5" y2="290" stroke="#231f20" stroke-width="0.9"/>
<text transform="translate(81.85,292.5) rotate(-90)" font-size="6.3" text-anchor="end" textLength="35.8" lengthAdjust="spacingAndGlyphs">Naive CD4<tspan dy="-2.2" font-size="4.8">+</tspan><tspan dy="2.2"></tspan></text>
<line x1="87.5" y1="287.3" x2="87.5" y2="290" stroke="#231f20" stroke-width="0.9"/>
<text transform="translate(89.48,292.5) rotate(-90)" font-size="6.3" text-anchor="end" textLength="43.6" lengthAdjust="spacingAndGlyphs">Memory CD4<tspan dy="-2.2" font-size="4.8">+</tspan><tspan dy="2.2"></tspan></text>
<line x1="94.5" y1="287.3" x2="94.5" y2="290" stroke="#231f20" stroke-width="0.9"/>
<text transform="translate(97.11,292.5) rotate(-90)" font-size="6.3" text-anchor="end" textLength="11.5" lengthAdjust="spacingAndGlyphs">Treg</text>
<line x1="41.5" y1="285.5" x2="41.5" y2="278.5" stroke="#cbc5e2" stroke-width="1.3" stroke-opacity="0.3"/>
<path d="M41.25 282.21h0M41.9 285.32h0M41.1 284.22h0M41.88 283.87h0M41.34 284.79h0" stroke="#cbc5e2" stroke-width="1.6" stroke-linecap="round" stroke-opacity="0.8"/>
<line x1="49.13" y1="285.5" x2="49.13" y2="283" stroke="#c4bddf" stroke-width="1.3" stroke-opacity="0.3"/>
<path d="M48.65 285.3h0M48.91 285.18h0M48.92 284.74h0" stroke="#c4bddf" stroke-width="1.6" stroke-linecap="round" stroke-opacity="0.8"/>
<line x1="56.76" y1="285.5" x2="56.76" y2="277.5" stroke="#b4a9d7" stroke-width="1.3" stroke-opacity="0.35"/>
<path d="M56.51 280.39h0M56.64 279.67h0M56.57 283.29h0M56.49 278.35h0M57.2 279.59h0M56.34 277.91h0M56.43 279.06h0M56.51 284.62h0" stroke="#b4a9d7" stroke-width="1.6" stroke-linecap="round" stroke-opacity="0.8"/>
<path d="M56.76 248.5h0M56.76 260.5h0M56.76 266.25h0M56.76 274.75h0" stroke="#b4a9d7" stroke-width="1.6" stroke-linecap="round"/>
<line x1="64.39" y1="285.5" x2="64.39" y2="280.5" stroke="#a092cb" stroke-width="1.3" stroke-opacity="0.4"/>
<path d="M64.39 282.83h0M64.09 280.67h0M64.35 282.15h0M64.49 285.5h0M64.25 285.49h0M64.09 284.87h0" stroke="#a092cb" stroke-width="1.6" stroke-linecap="round" stroke-opacity="0.8"/>
<path d="M64.39 258.75h0M64.39 269.75h0" stroke="#a092cb" stroke-width="1.6" stroke-linecap="round"/>
<line x1="72.02" y1="285.5" x2="72.02" y2="280" stroke="#7f6eb8" stroke-width="1.3" stroke-opacity="0.6"/>
<path d="M72.36 285.3h0M71.74 281.49h0M72.25 285.29h0M72 285.45h0M71.88 280.75h0M71.97 284.48h0M72.49 281.94h0M72.12 280.49h0M71.88 280.05h0M72.23 281.09h0" stroke="#7f6eb8" stroke-width="1.6" stroke-linecap="round" stroke-opacity="0.8"/>
<line x1="79.65" y1="285.5" x2="79.65" y2="277.5" stroke="#4fb0e4" stroke-width="1.3" stroke-opacity="0.7"/>
<path d="M79.76 282.72h0M79.87 284.11h0M79.82 280.7h0M79.84 282.61h0M79.97 283.74h0M79.22 285.32h0M79.56 278.5h0M79.38 285.5h0M79.4 277.65h0M79.69 277.77h0M79.52 284.34h0M79.49 283.21h0M80 278.49h0M79.37 280.46h0" stroke="#4fb0e4" stroke-width="1.6" stroke-linecap="round" stroke-opacity="0.8"/>
<path d="M79.65 272.75h0M79.65 267.75h0" stroke="#4fb0e4" stroke-width="1.6" stroke-linecap="round"/>
<line x1="87.28" y1="285.5" x2="87.28" y2="275" stroke="#1f8fc0" stroke-width="1.3" stroke-opacity="0.8"/>
<path d="M87.12 283.39h0M87.44 283.68h0M86.82 283.93h0M87.3 285.28h0M87.7 275.42h0M87.55 275.78h0M87.56 285.45h0M87.32 283.32h0M87.02 285.35h0M87.54 285.02h0M87.04 276.03h0M87.62 280.99h0M87.21 283.27h0M87.08 282.86h0M87.61 283.41h0M87.41 285.12h0" stroke="#1f8fc0" stroke-width="1.6" stroke-linecap="round" stroke-opacity="0.8"/>
<path d="M87.28 267h0" stroke="#1f8fc0" stroke-width="1.6" stroke-linecap="round"/>
<line x1="94.91" y1="285.5" x2="94.91" y2="259.5" stroke="#1463b2" stroke-width="1.3" stroke-opacity="0.95"/>
<path d="M95.19 271.28h0M95.41 266.6h0M95 284.94h0M94.82 282.47h0M95.06 277.75h0M95.27 280.75h0M95.17 265.89h0M95.14 267.82h0M95.15 284.92h0M95.33 267.48h0M94.69 285.27h0M94.77 271.84h0M94.68 276.64h0M94.78 279.24h0M95.2 284.84h0M94.86 278.35h0M95.29 281.71h0M94.52 261.72h0M94.55 275.83h0M94.79 279.6h0M94.8 259.67h0M94.82 279.43h0M94.95 262.16h0M95.02 285.5h0M94.43 275.09h0M95.24 266.11h0M95.17 277.4h0M95.06 265.19h0M95.31 276.5h0M94.45 261.21h0M94.53 278.62h0M95.23 275.53h0M94.43 285.4h0M95.21 283.29h0M94.9 275.33h0M94.84 267.93h0M94.72 277.76h0M94.45 276.11h0M95.21 262.39h0M95.08 260.21h0" stroke="#1463b2" stroke-width="1.6" stroke-linecap="round" stroke-opacity="0.8"/>
<path d="M94.91 252h0" stroke="#1463b2" stroke-width="1.6" stroke-linecap="round"/>
<line x1="94.5" y1="270.5" x2="94.5" y2="270.5" stroke="#7f9fd8" stroke-width="0.8"/>
<line x1="94.5" y1="282.5" x2="94.5" y2="285.5" stroke="#7f9fd8" stroke-width="0.8"/>
<rect x="91.66" y="270.5" width="6.5" height="12" fill="none" stroke="#7f9fd8" stroke-width="0.8"/>
<line x1="91.66" y1="277.5" x2="98.16" y2="277.5" stroke="#7f9fd8" stroke-width="0.8"/>
<line x1="87.5" y1="282.5" x2="87.5" y2="282.5" stroke="#3f9fd8" stroke-width="0.8"/>
<line x1="87.5" y1="285" x2="87.5" y2="285.5" stroke="#3f9fd8" stroke-width="0.8"/>
<rect x="84.03" y="282" width="6.5" height="3" fill="none" stroke="#3f9fd8" stroke-width="0.8"/>
<line x1="84.03" y1="284.5" x2="90.53" y2="284.5" stroke="#3f9fd8" stroke-width="0.8"/>
<line x1="79.5" y1="282.5" x2="79.5" y2="282.5" stroke="#7cc4ec" stroke-width="0.8"/>
<line x1="79.5" y1="285.25" x2="79.5" y2="285.5" stroke="#7cc4ec" stroke-width="0.8"/>
<rect x="76.4" y="282.5" width="6.5" height="2.75" fill="none" stroke="#7cc4ec" stroke-width="0.8"/>
<line x1="76.4" y1="284.5" x2="82.9" y2="284.5" stroke="#7cc4ec" stroke-width="0.8"/>
<line x1="72.5" y1="284.5" x2="72.5" y2="284.5" stroke="#7f6eb8" stroke-width="0.8"/>
<line x1="72.5" y1="285.5" x2="72.5" y2="285.5" stroke="#7f6eb8" stroke-width="0.8"/>
<rect x="69.02" y="284.25" width="6" height="1.25" fill="none" stroke="#7f6eb8" stroke-width="0.8"/>
<line x1="69.02" y1="285.5" x2="75.02" y2="285.5" stroke="#7f6eb8" stroke-width="0.8"/>
<line x1="131.5" y1="247.2" x2="131.5" y2="288" stroke="#231f20" stroke-width="1.2"/>
<line x1="130.75" y1="287.5" x2="191.25" y2="287.5" stroke="#231f20" stroke-width="1.2"/>
<line x1="128.65" y1="248.5" x2="131.25" y2="248.5" stroke="#231f20" stroke-width="0.9"/>
<text x="127.05" y="250.2" font-size="6.3" text-anchor="end">10.0</text>
<line x1="128.65" y1="257.5" x2="131.25" y2="257.5" stroke="#231f20" stroke-width="0.9"/>
<text x="127.05" y="259.7" font-size="6.3" text-anchor="end">7.5</text>
<line x1="128.65" y1="267.5" x2="131.25" y2="267.5" stroke="#231f20" stroke-width="0.9"/>
<text x="127.05" y="269.2" font-size="6.3" text-anchor="end">5.0</text>
<line x1="128.65" y1="276.5" x2="131.25" y2="276.5" stroke="#231f20" stroke-width="0.9"/>
<text x="127.05" y="278.45" font-size="6.3" text-anchor="end">2.5</text>
<line x1="128.65" y1="285.5" x2="131.25" y2="285.5" stroke="#231f20" stroke-width="0.9"/>
<text x="127.05" y="287.95" font-size="6.3" text-anchor="end">0</text>
<line x1="135.5" y1="287.5" x2="135.5" y2="290.2" stroke="#231f20" stroke-width="0.9"/>
<text transform="translate(137.2,292.5) rotate(-90)" font-size="6.3" text-anchor="end" textLength="34" lengthAdjust="spacingAndGlyphs">Naive CD8<tspan dy="-2.2" font-size="4.8">+</tspan><tspan dy="2.2"></tspan></text>
<line x1="142.5" y1="287.5" x2="142.5" y2="290.2" stroke="#231f20" stroke-width="0.9"/>
<text transform="translate(144.7,292.5) rotate(-90)" font-size="6.3" text-anchor="end" textLength="49.5" lengthAdjust="spacingAndGlyphs">Effector CD8<tspan dy="-2.2" font-size="4.8">+</tspan><tspan dy="2.2"></tspan> (1)</text>
<line x1="150.5" y1="287.5" x2="150.5" y2="290.2" stroke="#231f20" stroke-width="0.9"/>
<text transform="translate(152.2,292.5) rotate(-90)" font-size="6.3" text-anchor="end" textLength="49.5" lengthAdjust="spacingAndGlyphs">Effector CD8<tspan dy="-2.2" font-size="4.8">+</tspan><tspan dy="2.2"></tspan> (2)</text>
<line x1="157.5" y1="287.5" x2="157.5" y2="290.2" stroke="#231f20" stroke-width="0.9"/>
<text transform="translate(159.7,292.5) rotate(-90)" font-size="6.3" text-anchor="end" textLength="51" lengthAdjust="spacingAndGlyphs">Memory CD8<tspan dy="-2.2" font-size="4.8">+</tspan><tspan dy="2.2"></tspan> (1)</text>
<line x1="165.5" y1="287.5" x2="165.5" y2="290.2" stroke="#231f20" stroke-width="0.9"/>
<text transform="translate(167.2,292.5) rotate(-90)" font-size="6.3" text-anchor="end" textLength="51" lengthAdjust="spacingAndGlyphs">Memory CD8<tspan dy="-2.2" font-size="4.8">+</tspan><tspan dy="2.2"></tspan> (2)</text>
<line x1="172.5" y1="287.5" x2="172.5" y2="290.2" stroke="#231f20" stroke-width="0.9"/>
<text transform="translate(174.7,292.5) rotate(-90)" font-size="6.3" text-anchor="end" textLength="35.8" lengthAdjust="spacingAndGlyphs">Naive CD4<tspan dy="-2.2" font-size="4.8">+</tspan><tspan dy="2.2"></tspan></text>
<line x1="180.5" y1="287.5" x2="180.5" y2="290.2" stroke="#231f20" stroke-width="0.9"/>
<text transform="translate(182.2,292.5) rotate(-90)" font-size="6.3" text-anchor="end" textLength="43.6" lengthAdjust="spacingAndGlyphs">Memory CD4<tspan dy="-2.2" font-size="4.8">+</tspan><tspan dy="2.2"></tspan></text>
<line x1="187.5" y1="287.5" x2="187.5" y2="290.2" stroke="#231f20" stroke-width="0.9"/>
<text transform="translate(189.7,292.5) rotate(-90)" font-size="6.3" text-anchor="end" textLength="11.5" lengthAdjust="spacingAndGlyphs">Treg</text>
<line x1="135" y1="285.75" x2="135" y2="284.24" stroke="#cbc5e2" stroke-width="1.3" stroke-opacity="0.3"/>
<path d="M134.93 285.19h0M135.03 285.54h0" stroke="#cbc5e2" stroke-width="1.6" stroke-linecap="round" stroke-opacity="0.8"/>
<line x1="142.5" y1="285.75" x2="142.5" y2="278.19" stroke="#c4bddf" stroke-width="1.3" stroke-opacity="0.3"/>
<path d="M142.72 280.53h0M142.51 285.74h0M142.14 279.73h0M142.57 282.99h0M142.17 283.99h0" stroke="#c4bddf" stroke-width="1.6" stroke-linecap="round" stroke-opacity="0.8"/>
<line x1="150" y1="285.75" x2="150" y2="265.72" stroke="#b4a9d7" stroke-width="1.3" stroke-opacity="0.35"/>
<path d="M150.18 274.82h0M149.93 282.03h0M150.45 284.67h0M149.6 278.62h0M150.2 278.73h0M150.35 275.91h0M149.6 284.46h0M150.05 278.14h0M150.29 274.05h0M149.52 268.76h0" stroke="#b4a9d7" stroke-width="1.6" stroke-linecap="round" stroke-opacity="0.8"/>
<path d="M150 247.95h0M150 268.74h0" stroke="#b4a9d7" stroke-width="1.6" stroke-linecap="round"/>
<line x1="157.5" y1="285.75" x2="157.5" y2="268.74" stroke="#a092cb" stroke-width="1.3" stroke-opacity="0.4"/>
<path d="M157.87 272.63h0M157.47 279.3h0M157.33 283.48h0M157.28 278.72h0M157.55 269.74h0M157.57 282.5h0M157.17 280.37h0M157.83 279.16h0" stroke="#a092cb" stroke-width="1.6" stroke-linecap="round" stroke-opacity="0.8"/>
<line x1="165" y1="285.75" x2="165" y2="278.19" stroke="#7f6eb8" stroke-width="1.3" stroke-opacity="0.5"/>
<path d="M164.7 285.68h0M164.9 281.02h0M164.54 280.46h0M164.88 282.52h0M164.59 282.15h0M164.76 284.93h0M165.14 283.84h0M164.77 285.24h0M164.63 285.67h0M165.02 284.4h0M164.74 281.71h0M165.02 280.74h0" stroke="#7f6eb8" stroke-width="1.6" stroke-linecap="round" stroke-opacity="0.8"/>
<line x1="172.5" y1="285.75" x2="172.5" y2="276.3" stroke="#4fb0e4" stroke-width="1.3" stroke-opacity="0.5"/>
<path d="M172.2 277.86h0M172.28 284.61h0M172.44 285.67h0M172.23 285.59h0M172.21 284.17h0M172.4 281.9h0" stroke="#4fb0e4" stroke-width="1.6" stroke-linecap="round" stroke-opacity="0.8"/>
<line x1="180" y1="285.75" x2="180" y2="283.48" stroke="#1f8fc0" stroke-width="1.3" stroke-opacity="0.6"/>
<path d="M179.51 285.35h0M179.69 285.36h0M180.2 283.95h0M180.28 285.74h0M179.85 285.51h0M179.51 284.9h0M180.15 285.01h0M180.41 283.81h0" stroke="#1f8fc0" stroke-width="1.6" stroke-linecap="round" stroke-opacity="0.8"/>
<line x1="187.5" y1="285.75" x2="187.5" y2="275.17" stroke="#1463b2" stroke-width="1.3" stroke-opacity="0.7"/>
<path d="M187.7 281.06h0M187.29 285.74h0M187.2 285.53h0M187.27 284.87h0M187.63 285.48h0M187.53 285.61h0M187.38 277.91h0M187.24 280.44h0M187.75 280.64h0M187.7 285.7h0M187.4 280.98h0M187.86 275.6h0M187.94 276.92h0M187.97 283.26h0M187.1 275.45h0M187.23 283.43h0M187.29 285.35h0M187.06 285.75h0" stroke="#1463b2" stroke-width="1.6" stroke-linecap="round" stroke-opacity="0.8"/>
<line x1="187.5" y1="281.5" x2="187.5" y2="281.5" stroke="#1463b2" stroke-width="0.8"/>
<line x1="187.5" y1="285.56" x2="187.5" y2="285.75" stroke="#1463b2" stroke-width="0.8"/>
<rect x="184.5" y="281.59" width="6" height="3.97" fill="none" stroke="#1463b2" stroke-width="0.8"/>
<line x1="184.5" y1="283.5" x2="190.5" y2="283.5" stroke="#1463b2" stroke-width="0.8"/>
<line x1="180.5" y1="284.5" x2="180.5" y2="284.5" stroke="#1f8fc0" stroke-width="0.8"/>
<line x1="180.5" y1="285.5" x2="180.5" y2="285.5" stroke="#1f8fc0" stroke-width="0.8"/>
<rect x="177" y="284.05" width="6" height="1.7" fill="none" stroke="#1f8fc0" stroke-width="0.8"/>
<line x1="177" y1="285.5" x2="183" y2="285.5" stroke="#1f8fc0" stroke-width="0.8"/>
<line x1="165.5" y1="281.5" x2="165.5" y2="281.5" stroke="#7f6eb8" stroke-width="0.8"/>
<line x1="165.5" y1="285.37" x2="165.5" y2="285.75" stroke="#7f6eb8" stroke-width="0.8"/>
<rect x="162" y="281.97" width="6" height="3.4" fill="none" stroke="#7f6eb8" stroke-width="0.8"/>
<line x1="162" y1="283.5" x2="168" y2="283.5" stroke="#7f6eb8" stroke-width="0.8"/>
<line x1="150.5" y1="281.5" x2="150.5" y2="281.5" stroke="#c4bddf" stroke-width="0.8"/>
<line x1="150.5" y1="285.5" x2="150.5" y2="285.5" stroke="#c4bddf" stroke-width="0.8"/>
<rect x="147.25" y="281.21" width="5.5" height="4.54" fill="none" stroke="#c4bddf" stroke-width="0.8"/>
<line x1="147.25" y1="284.5" x2="152.75" y2="284.5" stroke="#c4bddf" stroke-width="0.8"/>
<line x1="226.5" y1="247.2" x2="226.5" y2="288" stroke="#231f20" stroke-width="1.2"/>
<line x1="225.75" y1="287.5" x2="290.5" y2="287.5" stroke="#231f20" stroke-width="1.2"/>
<line x1="223.65" y1="248.5" x2="226.25" y2="248.5" stroke="#231f20" stroke-width="0.9"/>
<text x="222.05" y="250.2" font-size="6.3" text-anchor="end">2.0</text>
<line x1="223.65" y1="257.5" x2="226.25" y2="257.5" stroke="#231f20" stroke-width="0.9"/>
<text x="222.05" y="259.2" font-size="6.3" text-anchor="end">1.5</text>
<line x1="223.65" y1="266.5" x2="226.25" y2="266.5" stroke="#231f20" stroke-width="0.9"/>
<text x="222.05" y="268.45" font-size="6.3" text-anchor="end">1.0</text>
<line x1="223.65" y1="275.5" x2="226.25" y2="275.5" stroke="#231f20" stroke-width="0.9"/>
<text x="222.05" y="277.2" font-size="6.3" text-anchor="end">0.5</text>
<line x1="223.65" y1="283.5" x2="226.25" y2="283.5" stroke="#231f20" stroke-width="0.9"/>
<text x="222.05" y="285.95" font-size="6.3" text-anchor="end">0</text>
<line x1="233.5" y1="287.5" x2="233.5" y2="290.2" stroke="#231f20" stroke-width="0.9"/>
<text transform="translate(235.45,292.5) rotate(-90)" font-size="6.3" text-anchor="end" textLength="34" lengthAdjust="spacingAndGlyphs">Naive CD8<tspan dy="-2.2" font-size="4.8">+</tspan><tspan dy="2.2"></tspan></text>
<line x1="241.5" y1="287.5" x2="241.5" y2="290.2" stroke="#231f20" stroke-width="0.9"/>
<text transform="translate(243.2,292.5) rotate(-90)" font-size="6.3" text-anchor="end" textLength="49.5" lengthAdjust="spacingAndGlyphs">Effector CD8<tspan dy="-2.2" font-size="4.8">+</tspan><tspan dy="2.2"></tspan> (1)</text>
<line x1="248.5" y1="287.5" x2="248.5" y2="290.2" stroke="#231f20" stroke-width="0.9"/>
<text transform="translate(250.95,292.5) rotate(-90)" font-size="6.3" text-anchor="end" textLength="49.5" lengthAdjust="spacingAndGlyphs">Effector CD8<tspan dy="-2.2" font-size="4.8">+</tspan><tspan dy="2.2"></tspan> (2)</text>
<line x1="256.5" y1="287.5" x2="256.5" y2="290.2" stroke="#231f20" stroke-width="0.9"/>
<text transform="translate(258.7,292.5) rotate(-90)" font-size="6.3" text-anchor="end" textLength="51" lengthAdjust="spacingAndGlyphs">Memory CD8<tspan dy="-2.2" font-size="4.8">+</tspan><tspan dy="2.2"></tspan> (1)</text>
<line x1="264.5" y1="287.5" x2="264.5" y2="290.2" stroke="#231f20" stroke-width="0.9"/>
<text transform="translate(266.45,292.5) rotate(-90)" font-size="6.3" text-anchor="end" textLength="51" lengthAdjust="spacingAndGlyphs">Memory CD8<tspan dy="-2.2" font-size="4.8">+</tspan><tspan dy="2.2"></tspan> (2)</text>
<line x1="272.5" y1="287.5" x2="272.5" y2="290.2" stroke="#231f20" stroke-width="0.9"/>
<text transform="translate(274.2,292.5) rotate(-90)" font-size="6.3" text-anchor="end" textLength="35.8" lengthAdjust="spacingAndGlyphs">Naive CD4<tspan dy="-2.2" font-size="4.8">+</tspan><tspan dy="2.2"></tspan></text>
<line x1="279.5" y1="287.5" x2="279.5" y2="290.2" stroke="#231f20" stroke-width="0.9"/>
<text transform="translate(281.95,292.5) rotate(-90)" font-size="6.3" text-anchor="end" textLength="43.6" lengthAdjust="spacingAndGlyphs">Memory CD4<tspan dy="-2.2" font-size="4.8">+</tspan><tspan dy="2.2"></tspan></text>
<line x1="287.5" y1="287.5" x2="287.5" y2="290.2" stroke="#231f20" stroke-width="0.9"/>
<text transform="translate(289.7,292.5) rotate(-90)" font-size="6.3" text-anchor="end" textLength="11.5" lengthAdjust="spacingAndGlyphs">Treg</text>
<line x1="233.25" y1="286.46" x2="233.25" y2="278.32" stroke="#cbc5e2" stroke-width="1.3" stroke-opacity="0.3"/>
<path d="M233.62 280.28h0M232.9 281.22h0M232.9 279.03h0" stroke="#cbc5e2" stroke-width="1.6" stroke-linecap="round" stroke-opacity="0.8"/>
<line x1="241" y1="286.46" x2="241" y2="280.13" stroke="#c4bddf" stroke-width="1.3" stroke-opacity="0.3"/>
<path d="M240.68 284.21h0M240.54 282.95h0" stroke="#c4bddf" stroke-width="1.6" stroke-linecap="round" stroke-opacity="0.8"/>
<line x1="248.75" y1="286.46" x2="248.75" y2="274.7" stroke="#b4a9d7" stroke-width="1.3" stroke-opacity="0.35"/>
<path d="M248.5 286.05h0M248.59 283.92h0M248.57 284.75h0M248.71 280.94h0M249.06 285.4h0M248.75 280.28h0" stroke="#b4a9d7" stroke-width="1.6" stroke-linecap="round" stroke-opacity="0.8"/>
<path d="M248.75 250.26h0M248.75 265.65h0" stroke="#b4a9d7" stroke-width="1.6" stroke-linecap="round"/>
<line x1="256.5" y1="286.46" x2="256.5" y2="278.32" stroke="#a092cb" stroke-width="1.3" stroke-opacity="0.4"/>
<path d="M256.01 280.72h0M256.8 283.13h0M256.35 285.03h0" stroke="#a092cb" stroke-width="1.6" stroke-linecap="round" stroke-opacity="0.8"/>
<line x1="264.25" y1="286.46" x2="264.25" y2="277.42" stroke="#7f6eb8" stroke-width="1.3" stroke-opacity="0.5"/>
<path d="M264.53 277.87h0M264.35 282.8h0M263.91 282h0M264.12 285.58h0M264.35 282.33h0M263.97 286.04h0M264.12 285h0M264.74 279.04h0" stroke="#7f6eb8" stroke-width="1.6" stroke-linecap="round" stroke-opacity="0.8"/>
<line x1="272" y1="286.46" x2="272" y2="277.42" stroke="#4fb0e4" stroke-width="1.3" stroke-opacity="0.5"/>
<path d="M271.74 280.95h0M271.71 285.64h0M272.05 285.93h0M272.24 286.04h0M272.01 282.68h0M271.78 277.97h0" stroke="#4fb0e4" stroke-width="1.6" stroke-linecap="round" stroke-opacity="0.8"/>
<path d="M272 250.26h0" stroke="#4fb0e4" stroke-width="1.6" stroke-linecap="round"/>
<line x1="279.75" y1="286.46" x2="279.75" y2="269.27" stroke="#1f8fc0" stroke-width="1.3" stroke-opacity="0.6"/>
<path d="M279.41 269.39h0M280.06 275.01h0M280.02 283.89h0M280.25 281.79h0M279.6 279.74h0M280.19 283.16h0M279.78 277.9h0M280.19 283.44h0M279.86 276.17h0M279.76 278.53h0" stroke="#1f8fc0" stroke-width="1.6" stroke-linecap="round" stroke-opacity="0.8"/>
<line x1="287.5" y1="286.46" x2="287.5" y2="260.22" stroke="#1463b2" stroke-width="1.3" stroke-opacity="0.75"/>
<path d="M287.31 281.84h0M287.74 279.56h0M287.82 270.97h0M287.11 285.96h0M287.6 280.47h0M287.83 280.9h0M287.66 286.17h0M287.16 286.46h0M287.67 277.93h0M287.41 267.79h0M287.59 282.17h0M287.09 286.18h0M287.31 260.38h0M287.35 261.38h0M287.76 270.09h0M287.93 278.36h0M287.21 283.39h0M287.86 282.71h0M287.45 273.67h0M287.85 286.45h0M287.28 280.78h0M287.32 270.48h0M287.77 285.01h0M287.14 261.98h0" stroke="#1463b2" stroke-width="1.6" stroke-linecap="round" stroke-opacity="0.8"/>
<line x1="287.5" y1="275.5" x2="287.5" y2="275.5" stroke="#3a78c8" stroke-width="0.8"/>
<line x1="287.5" y1="285.56" x2="287.5" y2="286.46" stroke="#3a78c8" stroke-width="0.8"/>
<rect x="284.25" y="275.61" width="6.5" height="9.95" fill="none" stroke="#3a78c8" stroke-width="0.8"/>
<line x1="284.25" y1="281.5" x2="290.75" y2="281.5" stroke="#3a78c8" stroke-width="0.8"/>
<line x1="279.5" y1="281.5" x2="279.5" y2="281.5" stroke="#1f8fc0" stroke-width="0.8"/>
<line x1="279.5" y1="285.56" x2="279.5" y2="286.46" stroke="#1f8fc0" stroke-width="0.8"/>
<rect x="276.75" y="281.94" width="6" height="3.62" fill="none" stroke="#1f8fc0" stroke-width="0.8"/>
<line x1="276.75" y1="283.5" x2="282.75" y2="283.5" stroke="#1f8fc0" stroke-width="0.8"/>
<line x1="264.5" y1="282.5" x2="264.5" y2="282.5" stroke="#7f6eb8" stroke-width="0.8"/>
<line x1="264.5" y1="285.56" x2="264.5" y2="286.46" stroke="#7f6eb8" stroke-width="0.8"/>
<rect x="261.25" y="282.85" width="6" height="2.71" fill="none" stroke="#7f6eb8" stroke-width="0.8"/>
<line x1="261.25" y1="284.5" x2="267.25" y2="284.5" stroke="#7f6eb8" stroke-width="0.8"/>
<line x1="37.5" y1="377" x2="37.5" y2="429.75" stroke="#231f20" stroke-width="1.2"/>
<line x1="37" y1="429.5" x2="106.25" y2="429.5" stroke="#231f20" stroke-width="1.2"/>
<line x1="34.9" y1="384.5" x2="37.5" y2="384.5" stroke="#231f20" stroke-width="0.9"/>
<text x="33.3" y="386.45" font-size="6.3" text-anchor="end">2.0</text>
<line x1="34.9" y1="392.5" x2="37.5" y2="392.5" stroke="#231f20" stroke-width="0.9"/>
<text x="33.3" y="394.95" font-size="6.3" text-anchor="end">1.5</text>
<line x1="34.9" y1="401.5" x2="37.5" y2="401.5" stroke="#231f20" stroke-width="0.9"/>
<text x="33.3" y="403.45" font-size="6.3" text-anchor="end">1.0</text>
<line x1="34.9" y1="409.5" x2="37.5" y2="409.5" stroke="#231f20" stroke-width="0.9"/>
<text x="33.3" y="411.95" font-size="6.3" text-anchor="end">0.5</text>
<line x1="34.9" y1="418.5" x2="37.5" y2="418.5" stroke="#231f20" stroke-width="0.9"/>
<text x="33.3" y="420.45" font-size="6.3" text-anchor="end">0</text>
<line x1="34.9" y1="426.5" x2="37.5" y2="426.5" stroke="#231f20" stroke-width="0.9"/>
<text x="33.3" y="428.95" font-size="6.3" text-anchor="end">-0.5</text>
<line x1="40.5" y1="429.25" x2="40.5" y2="431.95" stroke="#231f20" stroke-width="0.9"/>
<text transform="translate(42.5,435.2) rotate(-90)" font-size="6.9" text-anchor="end" textLength="15.2" lengthAdjust="spacingAndGlyphs">naive</text>
<line x1="46.5" y1="429.25" x2="46.5" y2="431.95" stroke="#231f20" stroke-width="0.9"/>
<text transform="translate(48.8,435.2) rotate(-90)" font-size="6.9" text-anchor="end" textLength="34" lengthAdjust="spacingAndGlyphs">eff. memory</text>
<line x1="52.5" y1="429.25" x2="52.5" y2="431.95" stroke="#231f20" stroke-width="0.9"/>
<text transform="translate(55.1,435.2) rotate(-90)" font-size="6.9" text-anchor="end" textLength="23" lengthAdjust="spacingAndGlyphs">memory</text>
<line x1="59.5" y1="429.25" x2="59.5" y2="431.95" stroke="#231f20" stroke-width="0.9"/>
<text transform="translate(61.4,435.2) rotate(-90)" font-size="6.9" text-anchor="end" textLength="20.2" lengthAdjust="spacingAndGlyphs">NK-like</text>
<line x1="65.5" y1="429.25" x2="65.5" y2="431.95" stroke="#231f20" stroke-width="0.9"/>
<text transform="translate(67.7,435.2) rotate(-90)" font-size="6.9" text-anchor="end" textLength="19.5" lengthAdjust="spacingAndGlyphs">γδ-like</text>
<line x1="71.5" y1="429.25" x2="71.5" y2="431.95" stroke="#231f20" stroke-width="0.9"/>
<text transform="translate(74,435.2) rotate(-90)" font-size="6.9" text-anchor="end" textLength="26.7" lengthAdjust="spacingAndGlyphs">activated</text>
<line x1="78.5" y1="429.25" x2="78.5" y2="431.95" stroke="#231f20" stroke-width="0.9"/>
<text transform="translate(80.3,435.2) rotate(-90)" font-size="6.9" text-anchor="end" textLength="27.4" lengthAdjust="spacingAndGlyphs">apoptotic</text>
<line x1="84.5" y1="429.25" x2="84.5" y2="431.95" stroke="#231f20" stroke-width="0.9"/>
<text transform="translate(86.6,435.2) rotate(-90)" font-size="6.9" text-anchor="end" textLength="24" lengthAdjust="spacingAndGlyphs">Treg-like</text>
<line x1="90.5" y1="429.25" x2="90.5" y2="431.95" stroke="#231f20" stroke-width="0.9"/>
<text transform="translate(92.9,435.2) rotate(-90)" font-size="6.9" text-anchor="end" textLength="16.6" lengthAdjust="spacingAndGlyphs">prolif.</text>
<line x1="97.5" y1="429.25" x2="97.5" y2="431.95" stroke="#231f20" stroke-width="0.9"/>
<text transform="translate(99.2,435.2) rotate(-90)" font-size="6.9" text-anchor="end" textLength="28" lengthAdjust="spacingAndGlyphs">prog. exh.</text>
<line x1="103.5" y1="429.25" x2="103.5" y2="431.95" stroke="#231f20" stroke-width="0.9"/>
<text transform="translate(105.5,435.2) rotate(-90)" font-size="6.9" text-anchor="end" textLength="28" lengthAdjust="spacingAndGlyphs">term. exh.</text>
<path d="M40.39 424.77h0M40.64 424.76h0M40.39 425.52h0M39.68 423.99h0" stroke="#e23a7c" stroke-width="1.6" stroke-linecap="round" stroke-opacity="0.8"/>
<line x1="40.5" y1="420.46" x2="40.5" y2="423.01" stroke="#e23a7c" stroke-width="0.8"/>
<line x1="40.5" y1="426.58" x2="40.5" y2="427.09" stroke="#e23a7c" stroke-width="0.8"/>
<rect x="38.1" y="423.01" width="4.4" height="3.57" fill="none" stroke="#e23a7c" stroke-width="0.8"/>
<line x1="38.1" y1="424.5" x2="42.5" y2="424.5" stroke="#e23a7c" stroke-width="0.8"/>
<path d="M40.3 424.71h0" stroke="#e23a7c" stroke-width="1.6" stroke-linecap="round"/>
<path d="M46.03 424.71h0M47.05 424.45h0M47.11 423.35h0M47.19 421.42h0" stroke="#8ecbe6" stroke-width="1.6" stroke-linecap="round" stroke-opacity="0.8"/>
<line x1="46.5" y1="418.25" x2="46.5" y2="421.14" stroke="#8ecbe6" stroke-width="0.8"/>
<line x1="46.5" y1="425.56" x2="46.5" y2="426.75" stroke="#8ecbe6" stroke-width="0.8"/>
<rect x="44.4" y="421.14" width="4.4" height="4.42" fill="none" stroke="#8ecbe6" stroke-width="0.8"/>
<line x1="44.4" y1="423.5" x2="48.8" y2="423.5" stroke="#8ecbe6" stroke-width="0.8"/>
<path d="M46.6 423.35h0" stroke="#8ecbe6" stroke-width="1.6" stroke-linecap="round"/>
<path d="M53.88 425.68h0M52.35 425.65h0M52.33 426.29h0M53.07 425.88h0" stroke="#3d4b92" stroke-width="1.6" stroke-linecap="round" stroke-opacity="0.8"/>
<line x1="52.5" y1="421.99" x2="52.5" y2="424.54" stroke="#3d4b92" stroke-width="0.8"/>
<line x1="52.5" y1="426.58" x2="52.5" y2="427.09" stroke="#3d4b92" stroke-width="0.8"/>
<rect x="50.7" y="424.54" width="4.4" height="2.04" fill="none" stroke="#3d4b92" stroke-width="0.8"/>
<line x1="50.7" y1="425.5" x2="55.1" y2="425.5" stroke="#3d4b92" stroke-width="0.8"/>
<path d="M52.9 425.56h0" stroke="#3d4b92" stroke-width="1.6" stroke-linecap="round"/>
<path d="M58.24 425.12h0M58.93 425.78h0M59.51 426.14h0M59.66 426.54h0" stroke="#263a78" stroke-width="1.6" stroke-linecap="round" stroke-opacity="0.8"/>
<line x1="59.5" y1="424.2" x2="59.5" y2="425.05" stroke="#263a78" stroke-width="0.8"/>
<line x1="59.5" y1="426.92" x2="59.5" y2="427.26" stroke="#263a78" stroke-width="0.8"/>
<rect x="57" y="425.05" width="4.4" height="1.87" fill="none" stroke="#263a78" stroke-width="0.8"/>
<line x1="57" y1="425.5" x2="61.4" y2="425.5" stroke="#263a78" stroke-width="0.8"/>
<path d="M59.2 425.9h0" stroke="#263a78" stroke-width="1.6" stroke-linecap="round"/>
<path d="M65 424.74h0M66.07 426.33h0M64.86 425.62h0M65.13 426.13h0" stroke="#5b3a8e" stroke-width="1.6" stroke-linecap="round" stroke-opacity="0.8"/>
<line x1="65.5" y1="420.8" x2="65.5" y2="424.03" stroke="#5b3a8e" stroke-width="0.8"/>
<line x1="65.5" y1="426.92" x2="65.5" y2="427.26" stroke="#5b3a8e" stroke-width="0.8"/>
<rect x="63.3" y="424.03" width="4.4" height="2.89" fill="none" stroke="#5b3a8e" stroke-width="0.8"/>
<line x1="63.3" y1="425.5" x2="67.7" y2="425.5" stroke="#5b3a8e" stroke-width="0.8"/>
<path d="M65.5 425.9h0" stroke="#5b3a8e" stroke-width="1.6" stroke-linecap="round"/>
<path d="M71.45 422.37h0M71.12 424.26h0M72.63 423.12h0M71.05 424.24h0" stroke="#7fc483" stroke-width="1.6" stroke-linecap="round" stroke-opacity="0.8"/>
<line x1="71.5" y1="416.55" x2="71.5" y2="422.16" stroke="#7fc483" stroke-width="0.8"/>
<line x1="71.5" y1="425.56" x2="71.5" y2="426.75" stroke="#7fc483" stroke-width="0.8"/>
<rect x="69.6" y="422.16" width="4.4" height="3.4" fill="none" stroke="#7fc483" stroke-width="0.8"/>
<line x1="69.6" y1="424.5" x2="74" y2="424.5" stroke="#7fc483" stroke-width="0.8"/>
<path d="M71.8 424.2h0" stroke="#7fc483" stroke-width="1.6" stroke-linecap="round"/>
<path d="M77.56 420.3h0M78.31 422.87h0M78.35 424.47h0M78.63 422.87h0" stroke="#7fc6e6" stroke-width="1.6" stroke-linecap="round" stroke-opacity="0.8"/>
<line x1="78.5" y1="417.91" x2="78.5" y2="420.12" stroke="#7fc6e6" stroke-width="0.8"/>
<line x1="78.5" y1="426.58" x2="78.5" y2="427.09" stroke="#7fc6e6" stroke-width="0.8"/>
<rect x="75.9" y="420.12" width="4.4" height="6.46" fill="none" stroke="#7fc6e6" stroke-width="0.8"/>
<line x1="75.9" y1="423.5" x2="80.3" y2="423.5" stroke="#7fc6e6" stroke-width="0.8"/>
<path d="M78.1 423.35h0" stroke="#7fc6e6" stroke-width="1.6" stroke-linecap="round"/>
<path d="M84.74 402.14h0M85.06 399.74h0M84.8 401.38h0M85.03 398.58h0" stroke="#238f6e" stroke-width="1.6" stroke-linecap="round" stroke-opacity="0.8"/>
<line x1="84.5" y1="396.5" x2="84.5" y2="396.5" stroke="#238f6e" stroke-width="0.8"/>
<line x1="84.5" y1="402.95" x2="84.5" y2="403.8" stroke="#238f6e" stroke-width="0.8"/>
<rect x="82.2" y="396.32" width="4.4" height="6.63" fill="none" stroke="#238f6e" stroke-width="0.8"/>
<line x1="82.2" y1="402.5" x2="86.6" y2="402.5" stroke="#238f6e" stroke-width="0.8"/>
<path d="M84.4 402.61h0" stroke="#238f6e" stroke-width="1.6" stroke-linecap="round"/>
<path d="M84.4 378.98h0" stroke="#231f20" stroke-width="1.6" stroke-linecap="round"/>
<path d="M90.49 413.7h0M90.44 413.6h0M90.1 413.91h0M90.41 413.86h0" stroke="#f5a524" stroke-width="1.6" stroke-linecap="round" stroke-opacity="0.8"/>
<line x1="90.5" y1="412.64" x2="90.5" y2="413.49" stroke="#f5a524" stroke-width="0.8"/>
<line x1="90.5" y1="414.51" x2="90.5" y2="415.19" stroke="#f5a524" stroke-width="0.8"/>
<rect x="88.5" y="413.49" width="4.4" height="1.02" fill="none" stroke="#f5a524" stroke-width="0.8"/>
<line x1="88.5" y1="414.5" x2="92.9" y2="414.5" stroke="#f5a524" stroke-width="0.8"/>
<path d="M90.7 414h0" stroke="#f5a524" stroke-width="1.6" stroke-linecap="round"/>
<path d="M96.89 414.41h0M96.74 413.87h0M96.22 414.36h0M97.74 413.59h0" stroke="#f2b01e" stroke-width="1.6" stroke-linecap="round" stroke-opacity="0.8"/>
<line x1="97.5" y1="411.79" x2="97.5" y2="413.15" stroke="#f2b01e" stroke-width="0.8"/>
<line x1="97.5" y1="414.51" x2="97.5" y2="415.7" stroke="#f2b01e" stroke-width="0.8"/>
<rect x="94.8" y="413.15" width="4.4" height="1.36" fill="none" stroke="#f2b01e" stroke-width="0.8"/>
<line x1="94.8" y1="414.5" x2="99.2" y2="414.5" stroke="#f2b01e" stroke-width="0.8"/>
<path d="M97 414h0" stroke="#f2b01e" stroke-width="1.6" stroke-linecap="round"/>
<path d="M102.37 413.77h0M103.52 416.87h0M104.07 413.7h0M102.66 414.22h0" stroke="#d9264e" stroke-width="1.6" stroke-linecap="round" stroke-opacity="0.8"/>
<line x1="103.5" y1="407.2" x2="103.5" y2="412.64" stroke="#d9264e" stroke-width="0.8"/>
<line x1="103.5" y1="417.57" x2="103.5" y2="419.1" stroke="#d9264e" stroke-width="0.8"/>
<rect x="101.1" y="412.64" width="4.4" height="4.93" fill="none" stroke="#d9264e" stroke-width="0.8"/>
<line x1="101.1" y1="414.5" x2="105.5" y2="414.5" stroke="#d9264e" stroke-width="0.8"/>
<path d="M103.3 414.85h0" stroke="#d9264e" stroke-width="1.6" stroke-linecap="round"/>
<path d="M103.3 427.43h0" stroke="#231f20" stroke-width="1.6" stroke-linecap="round"/>
<line x1="131.5" y1="377" x2="131.5" y2="429.25" stroke="#231f20" stroke-width="1.2"/>
<line x1="130.75" y1="428.5" x2="201.25" y2="428.5" stroke="#231f20" stroke-width="1.2"/>
<line x1="128.65" y1="383.5" x2="131.25" y2="383.5" stroke="#231f20" stroke-width="0.9"/>
<text x="127.05" y="385.2" font-size="6.3" text-anchor="end">1.0</text>
<line x1="128.65" y1="397.5" x2="131.25" y2="397.5" stroke="#231f20" stroke-width="0.9"/>
<text x="127.05" y="399.2" font-size="6.3" text-anchor="end">0.5</text>
<line x1="128.65" y1="411.5" x2="131.25" y2="411.5" stroke="#231f20" stroke-width="0.9"/>
<text x="127.05" y="413.45" font-size="6.3" text-anchor="end">0</text>
<line x1="128.65" y1="425.5" x2="131.25" y2="425.5" stroke="#231f20" stroke-width="0.9"/>
<text x="127.05" y="427.2" font-size="6.3" text-anchor="end">-0.5</text>
<line x1="135.5" y1="428.75" x2="135.5" y2="431.45" stroke="#231f20" stroke-width="0.9"/>
<text transform="translate(137.4,435.2) rotate(-90)" font-size="6.9" text-anchor="end" textLength="15.2" lengthAdjust="spacingAndGlyphs">naive</text>
<line x1="141.5" y1="428.75" x2="141.5" y2="431.45" stroke="#231f20" stroke-width="0.9"/>
<text transform="translate(143.6,435.2) rotate(-90)" font-size="6.9" text-anchor="end" textLength="34" lengthAdjust="spacingAndGlyphs">eff. memory</text>
<line x1="147.5" y1="428.75" x2="147.5" y2="431.45" stroke="#231f20" stroke-width="0.9"/>
<text transform="translate(149.8,435.2) rotate(-90)" font-size="6.9" text-anchor="end" textLength="23" lengthAdjust="spacingAndGlyphs">memory</text>
<line x1="153.5" y1="428.75" x2="153.5" y2="431.45" stroke="#231f20" stroke-width="0.9"/>
<text transform="translate(156,435.2) rotate(-90)" font-size="6.9" text-anchor="end" textLength="20.2" lengthAdjust="spacingAndGlyphs">NK-like</text>
<line x1="160.5" y1="428.75" x2="160.5" y2="431.45" stroke="#231f20" stroke-width="0.9"/>
<text transform="translate(162.2,435.2) rotate(-90)" font-size="6.9" text-anchor="end" textLength="19.5" lengthAdjust="spacingAndGlyphs">γδ-like</text>
<line x1="166.5" y1="428.75" x2="166.5" y2="431.45" stroke="#231f20" stroke-width="0.9"/>
<text transform="translate(168.4,435.2) rotate(-90)" font-size="6.9" text-anchor="end" textLength="26.7" lengthAdjust="spacingAndGlyphs">activated</text>
<line x1="172.5" y1="428.75" x2="172.5" y2="431.45" stroke="#231f20" stroke-width="0.9"/>
<text transform="translate(174.6,435.2) rotate(-90)" font-size="6.9" text-anchor="end" textLength="27.4" lengthAdjust="spacingAndGlyphs">apoptotic</text>
<line x1="178.5" y1="428.75" x2="178.5" y2="431.45" stroke="#231f20" stroke-width="0.9"/>
<text transform="translate(180.8,435.2) rotate(-90)" font-size="6.9" text-anchor="end" textLength="24" lengthAdjust="spacingAndGlyphs">Treg-like</text>
<line x1="184.5" y1="428.75" x2="184.5" y2="431.45" stroke="#231f20" stroke-width="0.9"/>
<text transform="translate(187,435.2) rotate(-90)" font-size="6.9" text-anchor="end" textLength="16.6" lengthAdjust="spacingAndGlyphs">prolif.</text>
<line x1="191.5" y1="428.75" x2="191.5" y2="431.45" stroke="#231f20" stroke-width="0.9"/>
<text transform="translate(193.2,435.2) rotate(-90)" font-size="6.9" text-anchor="end" textLength="28" lengthAdjust="spacingAndGlyphs">prog. exh.</text>
<line x1="197.5" y1="428.75" x2="197.5" y2="431.45" stroke="#231f20" stroke-width="0.9"/>
<text transform="translate(199.4,435.2) rotate(-90)" font-size="6.9" text-anchor="end" textLength="28" lengthAdjust="spacingAndGlyphs">term. exh.</text>
<path d="M135.73 424.13h0M134.84 425.63h0M136.12 426.13h0M135.66 425.74h0" stroke="#e23a7c" stroke-width="1.6" stroke-linecap="round" stroke-opacity="0.8"/>
<line x1="135.5" y1="422.53" x2="135.5" y2="423.66" stroke="#e23a7c" stroke-width="0.8"/>
<line x1="135.5" y1="427.61" x2="135.5" y2="428.17" stroke="#e23a7c" stroke-width="0.8"/>
<rect x="133" y="423.66" width="4.4" height="3.95" fill="none" stroke="#e23a7c" stroke-width="0.8"/>
<line x1="133" y1="425.5" x2="137.4" y2="425.5" stroke="#e23a7c" stroke-width="0.8"/>
<path d="M135.2 425.35h0" stroke="#e23a7c" stroke-width="1.6" stroke-linecap="round"/>
<path d="M141.47 409.2h0M140.79 405.21h0M140.67 414.77h0M141.63 413.06h0" stroke="#8ecbe6" stroke-width="1.6" stroke-linecap="round" stroke-opacity="0.8"/>
<line x1="141.5" y1="404.5" x2="141.5" y2="404.5" stroke="#8ecbe6" stroke-width="0.8"/>
<line x1="141.5" y1="415.48" x2="141.5" y2="419.71" stroke="#8ecbe6" stroke-width="0.8"/>
<rect x="139.2" y="404.48" width="4.4" height="11" fill="none" stroke="#8ecbe6" stroke-width="0.8"/>
<line x1="139.2" y1="412.5" x2="143.6" y2="412.5" stroke="#8ecbe6" stroke-width="0.8"/>
<path d="M141.4 412.66h0" stroke="#8ecbe6" stroke-width="1.6" stroke-linecap="round"/>
<path d="M141.4 378.82h0" stroke="#231f20" stroke-width="1.6" stroke-linecap="round"/>
<path d="M148.34 420.04h0M148.2 423.59h0M147.15 422.47h0M148.09 420.67h0" stroke="#3d4b92" stroke-width="1.6" stroke-linecap="round" stroke-opacity="0.8"/>
<line x1="147.5" y1="417.45" x2="147.5" y2="419.71" stroke="#3d4b92" stroke-width="0.8"/>
<line x1="147.5" y1="424.22" x2="147.5" y2="426.76" stroke="#3d4b92" stroke-width="0.8"/>
<rect x="145.4" y="419.71" width="4.4" height="4.51" fill="none" stroke="#3d4b92" stroke-width="0.8"/>
<line x1="145.4" y1="422.5" x2="149.8" y2="422.5" stroke="#3d4b92" stroke-width="0.8"/>
<path d="M147.6 422.53h0" stroke="#3d4b92" stroke-width="1.6" stroke-linecap="round"/>
<path d="M153.58 423.61h0M153.72 425.11h0M152.88 423.92h0M153.43 424.55h0" stroke="#263a78" stroke-width="1.6" stroke-linecap="round" stroke-opacity="0.8"/>
<line x1="153.5" y1="419.71" x2="153.5" y2="421.12" stroke="#263a78" stroke-width="0.8"/>
<line x1="153.5" y1="425.91" x2="153.5" y2="428.17" stroke="#263a78" stroke-width="0.8"/>
<rect x="151.6" y="421.12" width="4.4" height="4.79" fill="none" stroke="#263a78" stroke-width="0.8"/>
<line x1="151.6" y1="423.5" x2="156" y2="423.5" stroke="#263a78" stroke-width="0.8"/>
<path d="M153.8 423.94h0" stroke="#263a78" stroke-width="1.6" stroke-linecap="round"/>
<path d="M160.79 425.76h0M160.47 425.8h0M159.83 424.52h0M159.82 422.66h0" stroke="#5b3a8e" stroke-width="1.6" stroke-linecap="round" stroke-opacity="0.8"/>
<line x1="160.5" y1="417.45" x2="160.5" y2="420.56" stroke="#5b3a8e" stroke-width="0.8"/>
<line x1="160.5" y1="425.91" x2="160.5" y2="428.17" stroke="#5b3a8e" stroke-width="0.8"/>
<rect x="157.8" y="420.56" width="4.4" height="5.36" fill="none" stroke="#5b3a8e" stroke-width="0.8"/>
<line x1="157.8" y1="423.5" x2="162.2" y2="423.5" stroke="#5b3a8e" stroke-width="0.8"/>
<path d="M160 423.94h0" stroke="#5b3a8e" stroke-width="1.6" stroke-linecap="round"/>
<path d="M166.24 417.69h0M165.71 419.18h0M166.6 417.83h0M165.56 418.06h0" stroke="#7fc483" stroke-width="1.6" stroke-linecap="round" stroke-opacity="0.8"/>
<line x1="166.5" y1="412.66" x2="166.5" y2="416.33" stroke="#7fc483" stroke-width="0.8"/>
<line x1="166.5" y1="421.12" x2="166.5" y2="423.94" stroke="#7fc483" stroke-width="0.8"/>
<rect x="164" y="416.33" width="4.4" height="4.79" fill="none" stroke="#7fc483" stroke-width="0.8"/>
<line x1="164" y1="419.5" x2="168.4" y2="419.5" stroke="#7fc483" stroke-width="0.8"/>
<path d="M166.2 419.15h0" stroke="#7fc483" stroke-width="1.6" stroke-linecap="round"/>
<path d="M171.5 419.11h0M173 419.9h0M172.65 420.16h0M171.67 419.91h0" stroke="#7fc6e6" stroke-width="1.6" stroke-linecap="round" stroke-opacity="0.8"/>
<line x1="172.5" y1="416.89" x2="172.5" y2="418.3" stroke="#7fc6e6" stroke-width="0.8"/>
<line x1="172.5" y1="421.12" x2="172.5" y2="422.53" stroke="#7fc6e6" stroke-width="0.8"/>
<rect x="170.2" y="418.3" width="4.4" height="2.82" fill="none" stroke="#7fc6e6" stroke-width="0.8"/>
<line x1="170.2" y1="419.5" x2="174.6" y2="419.5" stroke="#7fc6e6" stroke-width="0.8"/>
<path d="M172.4 419.71h0" stroke="#7fc6e6" stroke-width="1.6" stroke-linecap="round"/>
<path d="M178.25 412.34h0M179.57 414.17h0M177.83 409.84h0M177.65 413.27h0" stroke="#238f6e" stroke-width="1.6" stroke-linecap="round" stroke-opacity="0.8"/>
<line x1="178.5" y1="407.02" x2="178.5" y2="408.43" stroke="#238f6e" stroke-width="0.8"/>
<line x1="178.5" y1="414.63" x2="178.5" y2="415.48" stroke="#238f6e" stroke-width="0.8"/>
<rect x="176.4" y="408.43" width="4.4" height="6.2" fill="none" stroke="#238f6e" stroke-width="0.8"/>
<line x1="176.4" y1="412.5" x2="180.8" y2="412.5" stroke="#238f6e" stroke-width="0.8"/>
<path d="M178.6 412.66h0" stroke="#238f6e" stroke-width="1.6" stroke-linecap="round"/>
<path d="M178.6 394.33h0" stroke="#231f20" stroke-width="1.6" stroke-linecap="round"/>
<path d="M185.24 396.07h0M183.95 405.28h0M184.89 391.86h0M184.81 396.14h0" stroke="#f5a524" stroke-width="1.6" stroke-linecap="round" stroke-opacity="0.8"/>
<line x1="184.5" y1="383.05" x2="184.5" y2="391.51" stroke="#f5a524" stroke-width="0.8"/>
<line x1="184.5" y1="405.61" x2="184.5" y2="408.43" stroke="#f5a524" stroke-width="0.8"/>
<rect x="182.6" y="391.51" width="4.4" height="14.1" fill="none" stroke="#f5a524" stroke-width="0.8"/>
<line x1="182.6" y1="398.5" x2="187" y2="398.5" stroke="#f5a524" stroke-width="0.8"/>
<path d="M184.8 398.56h0" stroke="#f5a524" stroke-width="1.6" stroke-linecap="round"/>
<path d="M191.58 412.35h0M190.3 410.04h0M191.44 412.78h0M190.45 415.09h0" stroke="#f2b01e" stroke-width="1.6" stroke-linecap="round" stroke-opacity="0.8"/>
<line x1="191.5" y1="399.97" x2="191.5" y2="408.99" stroke="#f2b01e" stroke-width="0.8"/>
<line x1="191.5" y1="415.48" x2="191.5" y2="418.3" stroke="#f2b01e" stroke-width="0.8"/>
<rect x="188.8" y="408.99" width="4.4" height="6.49" fill="none" stroke="#f2b01e" stroke-width="0.8"/>
<line x1="188.8" y1="412.5" x2="193.2" y2="412.5" stroke="#f2b01e" stroke-width="0.8"/>
<path d="M191 412.66h0" stroke="#f2b01e" stroke-width="1.6" stroke-linecap="round"/>
<path d="M196.51 395.71h0M197.66 398.31h0M196.63 396.41h0M196.9 396.59h0" stroke="#d9264e" stroke-width="1.6" stroke-linecap="round" stroke-opacity="0.8"/>
<line x1="197.5" y1="392.07" x2="197.5" y2="393.77" stroke="#d9264e" stroke-width="0.8"/>
<line x1="197.5" y1="399.41" x2="197.5" y2="407.87" stroke="#d9264e" stroke-width="0.8"/>
<rect x="195" y="393.77" width="4.4" height="5.64" fill="none" stroke="#d9264e" stroke-width="0.8"/>
<line x1="195" y1="397.5" x2="199.4" y2="397.5" stroke="#d9264e" stroke-width="0.8"/>
<path d="M197.2 397.15h0" stroke="#d9264e" stroke-width="1.6" stroke-linecap="round"/>
<line x1="229.5" y1="377" x2="229.5" y2="430" stroke="#231f20" stroke-width="1.2"/>
<line x1="229" y1="429.5" x2="298.75" y2="429.5" stroke="#231f20" stroke-width="1.2"/>
<line x1="226.9" y1="379.5" x2="229.5" y2="379.5" stroke="#231f20" stroke-width="0.9"/>
<text x="225.3" y="381.7" font-size="6.3" text-anchor="end">1.5</text>
<line x1="226.9" y1="392.5" x2="229.5" y2="392.5" stroke="#231f20" stroke-width="0.9"/>
<text x="225.3" y="394.7" font-size="6.3" text-anchor="end">1.0</text>
<line x1="226.9" y1="405.5" x2="229.5" y2="405.5" stroke="#231f20" stroke-width="0.9"/>
<text x="225.3" y="407.2" font-size="6.3" text-anchor="end">0.5</text>
<line x1="226.9" y1="417.5" x2="229.5" y2="417.5" stroke="#231f20" stroke-width="0.9"/>
<text x="225.3" y="419.2" font-size="6.3" text-anchor="end">0</text>
<line x1="226.9" y1="429.5" x2="229.5" y2="429.5" stroke="#231f20" stroke-width="0.9"/>
<text x="225.3" y="431.7" font-size="6.3" text-anchor="end">-0.5</text>
<line x1="233.5" y1="429.5" x2="233.5" y2="432.2" stroke="#231f20" stroke-width="0.9"/>
<text transform="translate(235.4,435.2) rotate(-90)" font-size="6.9" text-anchor="end" textLength="15.2" lengthAdjust="spacingAndGlyphs">naive</text>
<line x1="239.5" y1="429.5" x2="239.5" y2="432.2" stroke="#231f20" stroke-width="0.9"/>
<text transform="translate(241.65,435.2) rotate(-90)" font-size="6.9" text-anchor="end" textLength="34" lengthAdjust="spacingAndGlyphs">eff. memory</text>
<line x1="245.5" y1="429.5" x2="245.5" y2="432.2" stroke="#231f20" stroke-width="0.9"/>
<text transform="translate(247.9,435.2) rotate(-90)" font-size="6.9" text-anchor="end" textLength="23" lengthAdjust="spacingAndGlyphs">memory</text>
<line x1="251.5" y1="429.5" x2="251.5" y2="432.2" stroke="#231f20" stroke-width="0.9"/>
<text transform="translate(254.15,435.2) rotate(-90)" font-size="6.9" text-anchor="end" textLength="20.2" lengthAdjust="spacingAndGlyphs">NK-like</text>
<line x1="258.5" y1="429.5" x2="258.5" y2="432.2" stroke="#231f20" stroke-width="0.9"/>
<text transform="translate(260.4,435.2) rotate(-90)" font-size="6.9" text-anchor="end" textLength="19.5" lengthAdjust="spacingAndGlyphs">γδ-like</text>
<line x1="264.5" y1="429.5" x2="264.5" y2="432.2" stroke="#231f20" stroke-width="0.9"/>
<text transform="translate(266.65,435.2) rotate(-90)" font-size="6.9" text-anchor="end" textLength="26.7" lengthAdjust="spacingAndGlyphs">activated</text>
<line x1="270.5" y1="429.5" x2="270.5" y2="432.2" stroke="#231f20" stroke-width="0.9"/>
<text transform="translate(272.9,435.2) rotate(-90)" font-size="6.9" text-anchor="end" textLength="27.4" lengthAdjust="spacingAndGlyphs">apoptotic</text>
<line x1="276.5" y1="429.5" x2="276.5" y2="432.2" stroke="#231f20" stroke-width="0.9"/>
<text transform="translate(279.15,435.2) rotate(-90)" font-size="6.9" text-anchor="end" textLength="24" lengthAdjust="spacingAndGlyphs">Treg-like</text>
<line x1="283.5" y1="429.5" x2="283.5" y2="432.2" stroke="#231f20" stroke-width="0.9"/>
<text transform="translate(285.4,435.2) rotate(-90)" font-size="6.9" text-anchor="end" textLength="16.6" lengthAdjust="spacingAndGlyphs">prolif.</text>
<line x1="289.5" y1="429.5" x2="289.5" y2="432.2" stroke="#231f20" stroke-width="0.9"/>
<text transform="translate(291.65,435.2) rotate(-90)" font-size="6.9" text-anchor="end" textLength="28" lengthAdjust="spacingAndGlyphs">prog. exh.</text>
<line x1="295.5" y1="429.5" x2="295.5" y2="432.2" stroke="#231f20" stroke-width="0.9"/>
<text transform="translate(297.9,435.2) rotate(-90)" font-size="6.9" text-anchor="end" textLength="28" lengthAdjust="spacingAndGlyphs">term. exh.</text>
<path d="M232.21 426.84h0M232.86 427.01h0M233.08 426.52h0M232.66 427.01h0" stroke="#e23a7c" stroke-width="1.6" stroke-linecap="round" stroke-opacity="0.8"/>
<line x1="233.5" y1="426.25" x2="233.5" y2="426.5" stroke="#e23a7c" stroke-width="0.8"/>
<line x1="233.5" y1="427.5" x2="233.5" y2="428" stroke="#e23a7c" stroke-width="0.8"/>
<rect x="231" y="426.5" width="4.4" height="1" fill="none" stroke="#e23a7c" stroke-width="0.8"/>
<line x1="231" y1="427.5" x2="235.4" y2="427.5" stroke="#e23a7c" stroke-width="0.8"/>
<path d="M233.2 427h0" stroke="#e23a7c" stroke-width="1.6" stroke-linecap="round"/>
<path d="M239.98 420.54h0M240.22 417h0M238.94 414.56h0M240.11 415.34h0" stroke="#8ecbe6" stroke-width="1.6" stroke-linecap="round" stroke-opacity="0.8"/>
<line x1="239.5" y1="403.25" x2="239.5" y2="414.5" stroke="#8ecbe6" stroke-width="0.8"/>
<line x1="239.5" y1="424.5" x2="239.5" y2="427" stroke="#8ecbe6" stroke-width="0.8"/>
<rect x="237.25" y="414.5" width="4.4" height="10" fill="none" stroke="#8ecbe6" stroke-width="0.8"/>
<line x1="237.25" y1="419.5" x2="241.65" y2="419.5" stroke="#8ecbe6" stroke-width="0.8"/>
<path d="M239.45 419.5h0" stroke="#8ecbe6" stroke-width="1.6" stroke-linecap="round"/>
<path d="M245.54 426.22h0M245.82 426.99h0M244.85 426.41h0M245.98 426.03h0" stroke="#3d4b92" stroke-width="1.6" stroke-linecap="round" stroke-opacity="0.8"/>
<line x1="245.5" y1="422" x2="245.5" y2="425" stroke="#3d4b92" stroke-width="0.8"/>
<line x1="245.5" y1="427.5" x2="245.5" y2="428.25" stroke="#3d4b92" stroke-width="0.8"/>
<rect x="243.5" y="425" width="4.4" height="2.5" fill="none" stroke="#3d4b92" stroke-width="0.8"/>
<line x1="243.5" y1="426.5" x2="247.9" y2="426.5" stroke="#3d4b92" stroke-width="0.8"/>
<path d="M245.7 426.5h0" stroke="#3d4b92" stroke-width="1.6" stroke-linecap="round"/>
<path d="M252.14 425.58h0M251.05 423.86h0M252.75 426.45h0M251.79 426.37h0" stroke="#263a78" stroke-width="1.6" stroke-linecap="round" stroke-opacity="0.8"/>
<line x1="251.5" y1="422" x2="251.5" y2="423.25" stroke="#263a78" stroke-width="0.8"/>
<line x1="251.5" y1="426.5" x2="251.5" y2="427.5" stroke="#263a78" stroke-width="0.8"/>
<rect x="249.75" y="423.25" width="4.4" height="3.25" fill="none" stroke="#263a78" stroke-width="0.8"/>
<line x1="249.75" y1="425.5" x2="254.15" y2="425.5" stroke="#263a78" stroke-width="0.8"/>
<path d="M251.95 425.25h0" stroke="#263a78" stroke-width="1.6" stroke-linecap="round"/>
<path d="M257.67 426.26h0M257.91 425.82h0M257.39 425.96h0M258.52 426.38h0" stroke="#5b3a8e" stroke-width="1.6" stroke-linecap="round" stroke-opacity="0.8"/>
<line x1="258.5" y1="424.5" x2="258.5" y2="425.75" stroke="#5b3a8e" stroke-width="0.8"/>
<line x1="258.5" y1="427.5" x2="258.5" y2="428.25" stroke="#5b3a8e" stroke-width="0.8"/>
<rect x="256" y="425.75" width="4.4" height="1.75" fill="none" stroke="#5b3a8e" stroke-width="0.8"/>
<line x1="256" y1="427.5" x2="260.4" y2="427.5" stroke="#5b3a8e" stroke-width="0.8"/>
<path d="M258.2 427h0" stroke="#5b3a8e" stroke-width="1.6" stroke-linecap="round"/>
<path d="M263.97 425.85h0M264.74 425.32h0M264.92 425.97h0M263.68 427.12h0" stroke="#7fc483" stroke-width="1.6" stroke-linecap="round" stroke-opacity="0.8"/>
<line x1="264.5" y1="424.5" x2="264.5" y2="424.5" stroke="#7fc483" stroke-width="0.8"/>
<line x1="264.5" y1="427.5" x2="264.5" y2="428.25" stroke="#7fc483" stroke-width="0.8"/>
<rect x="262.25" y="424.5" width="4.4" height="3" fill="none" stroke="#7fc483" stroke-width="0.8"/>
<line x1="262.25" y1="426.5" x2="266.65" y2="426.5" stroke="#7fc483" stroke-width="0.8"/>
<path d="M264.45 426.5h0" stroke="#7fc483" stroke-width="1.6" stroke-linecap="round"/>
<path d="M264.45 418.25h0" stroke="#231f20" stroke-width="1.6" stroke-linecap="round"/>
<path d="M270.14 419.59h0M270.34 415.8h0M271.56 418.19h0M270.06 418.58h0" stroke="#7fc6e6" stroke-width="1.6" stroke-linecap="round" stroke-opacity="0.8"/>
<line x1="270.5" y1="409.5" x2="270.5" y2="415.75" stroke="#7fc6e6" stroke-width="0.8"/>
<line x1="270.5" y1="422" x2="270.5" y2="424.5" stroke="#7fc6e6" stroke-width="0.8"/>
<rect x="268.5" y="415.75" width="4.4" height="6.25" fill="none" stroke="#7fc6e6" stroke-width="0.8"/>
<line x1="268.5" y1="419.5" x2="272.9" y2="419.5" stroke="#7fc6e6" stroke-width="0.8"/>
<path d="M270.7 419.5h0" stroke="#7fc6e6" stroke-width="1.6" stroke-linecap="round"/>
<path d="M276.73 411.3h0M276.38 406.88h0M277.87 419.25h0M277.74 402.51h0" stroke="#238f6e" stroke-width="1.6" stroke-linecap="round" stroke-opacity="0.8"/>
<line x1="276.5" y1="397" x2="276.5" y2="402.5" stroke="#238f6e" stroke-width="0.8"/>
<line x1="276.5" y1="420" x2="276.5" y2="427" stroke="#238f6e" stroke-width="0.8"/>
<rect x="274.75" y="402.5" width="4.4" height="17.5" fill="none" stroke="#238f6e" stroke-width="0.8"/>
<line x1="274.75" y1="409.5" x2="279.15" y2="409.5" stroke="#238f6e" stroke-width="0.8"/>
<path d="M276.95 409.5h0" stroke="#238f6e" stroke-width="1.6" stroke-linecap="round"/>
<path d="M282.46 395.86h0M284.05 406.2h0M283.22 395.73h0M282.93 407.47h0" stroke="#f5a524" stroke-width="1.6" stroke-linecap="round" stroke-opacity="0.8"/>
<line x1="283.5" y1="378.25" x2="283.5" y2="394.5" stroke="#f5a524" stroke-width="0.8"/>
<line x1="283.5" y1="408.25" x2="283.5" y2="414.5" stroke="#f5a524" stroke-width="0.8"/>
<rect x="281" y="394.5" width="4.4" height="13.75" fill="none" stroke="#f5a524" stroke-width="0.8"/>
<line x1="281" y1="400.5" x2="285.4" y2="400.5" stroke="#f5a524" stroke-width="0.8"/>
<path d="M283.2 400.75h0" stroke="#f5a524" stroke-width="1.6" stroke-linecap="round"/>
<path d="M290.15 413.79h0M289.87 416.21h0M289.36 416.4h0M289.74 411.17h0" stroke="#f2b01e" stroke-width="1.6" stroke-linecap="round" stroke-opacity="0.8"/>
<line x1="289.5" y1="407" x2="289.5" y2="410.75" stroke="#f2b01e" stroke-width="0.8"/>
<line x1="289.5" y1="419.5" x2="289.5" y2="427" stroke="#f2b01e" stroke-width="0.8"/>
<rect x="287.25" y="410.75" width="4.4" height="8.75" fill="none" stroke="#f2b01e" stroke-width="0.8"/>
<line x1="287.25" y1="415.5" x2="291.65" y2="415.5" stroke="#f2b01e" stroke-width="0.8"/>
<path d="M289.45 415.75h0" stroke="#f2b01e" stroke-width="1.6" stroke-linecap="round"/>
<path d="M295.85 409.61h0M294.85 412.7h0M295.21 406.82h0M295.3 414.21h0" stroke="#d9264e" stroke-width="1.6" stroke-linecap="round" stroke-opacity="0.8"/>
<line x1="295.5" y1="405.5" x2="295.5" y2="406.5" stroke="#d9264e" stroke-width="0.8"/>
<line x1="295.5" y1="415" x2="295.5" y2="427" stroke="#d9264e" stroke-width="0.8"/>
<rect x="293.5" y="406.5" width="4.4" height="8.5" fill="none" stroke="#d9264e" stroke-width="0.8"/>
<line x1="293.5" y1="410.5" x2="297.9" y2="410.5" stroke="#d9264e" stroke-width="0.8"/>
<path d="M295.7 410.75h0" stroke="#d9264e" stroke-width="1.6" stroke-linecap="round"/>
</svg></body></html>
